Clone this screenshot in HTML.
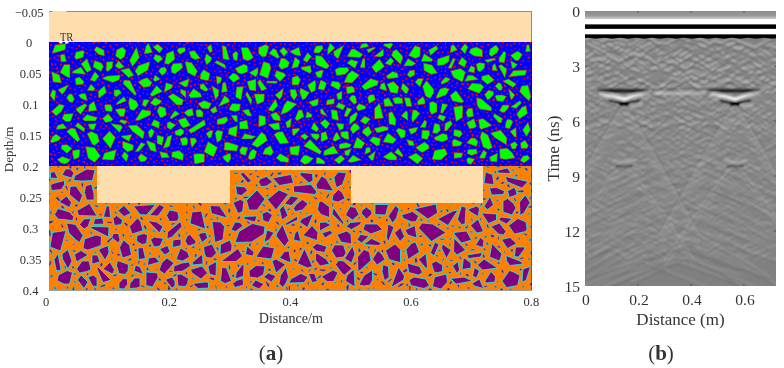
<!DOCTYPE html>
<html><head><meta charset="utf-8"><style>
html,body{margin:0;padding:0;background:#fff;width:784px;height:368px;overflow:hidden}
svg{display:block}
text{font-family:"Liberation Serif",serif;fill:#333}
svg{will-change:transform}
</style></head><body>
<svg width="784" height="368" viewBox="0 0 784 368">
<defs><clipPath id="cb"><rect x="49" y="42" width="483" height="124"/></clipPath>
<filter id="sb" x="0" y="0" width="100%" height="100%"><feGaussianBlur stdDeviation="0.35"/></filter>
<clipPath id="co"><rect x="49" y="166" width="483" height="124"/></clipPath></defs>
<rect x="49" y="11" width="483" height="31" fill="#FFDEAD"/>
<g clip-path="url(#cb)"><g filter="url(#sb)"><rect x="49" y="42" width="483" height="124" fill="#00F"/>
<g transform="scale(.5)"><g fill="#0F0" stroke="#F00" stroke-width="1.2">
<polygon points="630,160 615,170 617,175 622,185 630,182 632,167"/>
<polygon points="1014,296 999,298 1000,317 1011,319 1030,316 1025,306"/>
<polygon points="496,95 482,95 486,118 496,122 507,115"/>
<polygon points="1050,280 1041,286 1042,297 1054,297 1057,291"/>
<polygon points="704,190 698,197 701,201 708,209 714,205 711,192"/>
<polygon points="873,91 857,100 861,111 876,98"/>
<polygon points="759,118 743,134 752,146 769,133"/>
<polygon points="416,283 408,304 427,314 435,295"/>
<polygon points="620,279 607,292 640,309 643,303"/>
<polygon points="128,129 120,145 134,154 140,156 140,129"/>
<polygon points="455,284 449,285 448,300 470,302 473,303 477,291"/>
<polygon points="1052,211 1044,214 1033,228 1039,238 1055,227"/>
<polygon points="464,207 458,218 461,221 470,223 479,221 481,208"/>
<polygon points="183,263 174,267 184,288 189,291 199,283 195,269"/>
<polygon points="1056,170 1043,172 1039,183 1047,192 1058,202 1062,193"/>
<polygon points="219,262 205,277 221,297 231,275"/>
<polygon points="562,116 557,132 563,139 576,134 579,125 570,117"/>
<polygon points="300,123 277,131 270,142 276,152 296,140"/>
<polygon points="523,264 503,289 515,295 535,281 531,270"/>
<polygon points="508,188 514,209 528,203 529,188"/>
<polygon points="995,306 979,314 981,323 994,324"/>
<polygon points="370,123 375,145 390,153 395,142 383,125"/>
<polygon points="595,151 584,155 584,170 597,170 601,159"/>
<polygon points="853,161 845,173 851,192 860,197 867,187 868,179"/>
<polygon points="879,229 875,236 887,243 892,233"/>
<polygon points="531,89 517,95 517,107 525,114 532,113 538,93"/>
<polygon points="829,140 819,141 814,150 820,155 830,150"/>
<polygon points="221,209 211,209 209,212 211,222 224,223 225,216"/>
<polygon points="527,123 521,142 519,150 536,157 542,136 539,127"/>
<polygon points="165,101 152,104 149,114 152,119 166,115 169,103"/>
<polygon points="688,90 667,103 668,111 676,118"/>
<polygon points="248,160 246,167 270,191 273,188 260,161"/>
<polygon points="609,267 600,272 610,280 617,273"/>
<polygon points="1036,102 1030,105 1021,111 1031,121 1037,121 1045,109"/>
<polygon points="171,293 176,316 189,325 201,312 189,295"/>
<polygon points="921,137 901,142 907,155 925,164 931,144"/>
<polygon points="518,230 517,254 531,249 531,233"/>
<polygon points="805,166 802,177 810,187 814,187 818,178 814,173"/>
<polygon points="119,208 103,223 112,232 123,223 129,211"/>
<polygon points="371,235 356,240 362,252 367,256 381,251"/>
<polygon points="662,219 664,238 677,241 677,236 674,221"/>
<polygon points="189,121 186,134 202,143 207,133 203,126"/>
<polygon points="170,207 152,217 153,221 161,229 174,211"/>
<polygon points="811,222 802,232 816,241 815,223"/>
<polygon points="245,94 233,100 231,112 241,119 249,114 252,101"/>
<polygon points="420,261 412,267 418,277 423,274 426,261"/>
<polygon points="400,219 392,220 392,227 394,234 406,234 406,224"/>
<polygon points="494,240 479,244 479,258 497,258"/>
<polygon points="567,176 550,190 559,199 564,193"/>
<polygon points="846,193 835,202 835,210 850,208 850,201"/>
<polygon points="598,94 579,103 590,110 602,112"/>
<polygon points="1002,129 997,132 1010,156 1014,138"/>
<polygon points="379,157 357,166 370,174 375,173"/>
<polygon points="409,239 377,260 382,267 411,250"/>
<polygon points="924,114 916,127 929,135 934,123"/>
<polygon points="245,282 245,295 255,304 266,300 267,290"/>
<polygon points="890,297 869,301 864,319 882,320 895,308"/>
<polygon points="466,146 457,155 467,165 480,157 474,149"/>
<polygon points="575,201 568,210 561,229 574,225 594,208"/>
<polygon points="714,274 706,296 723,297 730,286"/>
<polygon points="129,108 120,110 122,124 133,123"/>
<polygon points="741,157 723,173 730,180 755,170 757,162"/>
<polygon points="273,250 256,251 265,263 286,278 289,264"/>
<polygon points="667,291 648,302 647,311 677,307"/>
<polygon points="704,141 695,149 688,165 704,166 719,150"/>
<polygon points="407,167 400,169 400,177 411,183 417,180"/>
<polygon points="310,195 300,206 310,212 319,208 324,202"/>
<polygon points="925,211 907,214 912,243 925,235 926,215"/>
<polygon points="1053,140 1027,141 1017,154 1051,150"/>
<polygon points="899,110 875,118 874,131 888,130 898,123"/>
<polygon points="597,220 590,237 594,242 608,233 604,220"/>
<polygon points="885,267 868,275 870,280 885,284 896,279 894,269"/>
<polygon points="908,259 907,271 919,275 925,268 921,261"/>
<polygon points="1001,260 981,266 989,275 1013,290 1014,276"/>
<polygon points="942,131 936,143 949,146 950,135"/>
<polygon points="394,307 387,309 389,328 409,324 409,308"/>
<polygon points="782,303 766,314 778,320 794,320 793,313"/>
<polygon points="409,201 396,207 404,217 417,218 423,207"/>
<polygon points="422,88 414,95 420,106 425,102"/>
<polygon points="1032,255 1020,263 1029,274 1033,274"/>
<polygon points="284,219 270,241 277,241 301,230 302,222"/>
<polygon points="830,91 817,111 831,117 840,113 841,95"/>
<polygon points="273,94 259,121 265,133 279,115"/>
<polygon points="565,263 555,264 548,269 560,288 578,286"/>
<polygon points="126,247 115,251 112,259 134,257"/>
<polygon points="977,149 964,152 963,159 975,169 980,166 989,160"/>
<polygon points="347,101 333,107 329,127 337,129 350,118"/>
<polygon points="475,251 458,257 456,268 473,274"/>
<polygon points="1005,210 999,221 1004,225 1009,225 1017,216 1018,210"/>
<polygon points="836,254 817,258 822,269 832,264"/>
<polygon points="389,101 378,103 382,115 389,119 401,117"/>
<polygon points="444,91 446,118 459,120 452,93"/>
<polygon points="953,195 954,210 959,218 983,222 983,215 963,198"/>
<polygon points="953,298 936,299 934,307 943,311 955,307"/>
<polygon points="346,187 336,193 353,210 364,210 367,200"/>
<polygon points="891,154 882,164 883,169 895,164 901,158"/>
<polygon points="313,171 300,189 304,193 325,183"/>
<polygon points="696,135 678,135 670,139 673,151 690,149 698,141"/>
<polygon points="884,207 881,225 885,227 896,209"/>
<polygon points="669,197 654,200 652,210 668,208"/>
<polygon points="314,270 314,287 324,291 328,274"/>
<polygon points="644,217 640,220 642,228 655,233"/>
<polygon points="162,134 146,142 144,146 172,149"/>
<polygon points="512,158 494,163 499,180 512,182"/>
<polygon points="158,299 145,301 145,308 148,319 158,315 160,301"/>
<polygon points="793,99 786,102 783,111 801,129 806,115 804,111"/>
<polygon points="641,160 636,178 648,181 653,167 649,163"/>
<polygon points="832,306 816,314 835,328 846,317"/>
<polygon points="560,307 552,316 561,323 577,325 578,317"/>
<polygon points="677,205 672,214 686,220 691,211"/>
<polygon points="787,163 774,168 781,185 795,187 798,174"/>
<polygon points="849,284 831,295 839,302 845,305 858,297 858,291"/>
<polygon points="706,310 695,323 703,325 723,320"/>
<polygon points="344,270 335,273 326,297 339,293"/>
<polygon points="488,128 470,137 476,146 483,148 495,144 495,132"/>
<polygon points="112,268 105,273 100,283 104,286 118,281 122,275"/>
<polygon points="737,252 727,259 724,265 735,274 744,265"/>
<polygon points="599,256 584,258 585,269 587,272 599,260"/>
<polygon points="241,150 214,152 204,157 225,165 238,160"/>
<polygon points="645,91 632,92 628,100 628,106 639,106 646,97"/>
<polygon points="541,291 530,297 525,308 542,311 547,304"/>
<polygon points="259,195 257,206 260,219 268,221 277,211 273,202"/>
<polygon points="1030,283 1020,288 1024,298 1031,298 1035,289"/>
<polygon points="726,116 720,135 730,136 730,118"/>
<polygon points="209,171 196,183 197,196 200,195 213,185"/>
<polygon points="966,237 957,239 959,255 962,259 984,251"/>
<polygon points="432,152 434,169 441,165 444,156 441,154"/>
<polygon points="950,276 942,276 933,286 953,293 956,283"/>
<polygon points="797,256 792,261 802,277 810,274 811,261"/>
<polygon points="674,264 670,268 665,280 670,283 681,277"/>
<polygon points="847,126 848,141 863,149 875,146 864,130"/>
<polygon points="993,190 990,193 994,202 1006,203 1013,193 1006,190"/>
<polygon points="944,166 935,178 948,183 958,187 968,174 962,168"/>
<polygon points="553,141 549,152 560,163 572,151 568,146"/>
<polygon points="221,247 239,265 245,255 242,250"/>
<polygon points="294,155 284,159 276,164 287,175 300,173 304,165"/>
<polygon points="297,86 292,92 288,108 305,105"/>
<polygon points="546,97 538,107 555,117 559,114 552,99"/>
<polygon points="182,168 174,181 188,182 190,177"/>
<polygon points="692,285 679,288 678,295 681,298 699,295 703,289"/>
<polygon points="746,273 739,281 753,292 759,290 761,277"/>
<polygon points="294,281 293,284 301,301 313,304 310,287"/>
<polygon points="363,126 346,127 342,135 343,145 350,148 366,135"/>
<polygon points="138,169 116,179 124,189 129,184"/>
<polygon points="310,109 307,117 316,126 326,118 320,111"/>
<polygon points="964,263 960,274 966,294 977,299 985,295 976,270"/>
<polygon points="174,229 165,238 169,242 191,242 195,235"/>
<polygon points="776,266 770,276 766,284 785,287 793,279"/>
<polygon points="453,233 434,239 434,249 449,248 456,240"/>
<polygon points="713,224 700,233 698,250 711,240 715,228"/>
<polygon points="434,121 429,125 452,138 450,129"/>
<polygon points="339,243 334,246 334,255 341,259 347,254 352,250"/>
<polygon points="612,310 607,311 600,322 609,329 616,327 627,317"/>
<polygon points="249,303 243,312 253,324 257,311"/>
<polygon points="777,195 767,199 769,213 787,212"/>
<polygon points="664,162 661,171 677,180 682,171 678,164"/>
<polygon points="631,111 631,125 633,130 653,138 659,132 643,112"/>
<polygon points="159,154 150,157 152,170 166,169 168,163"/>
<polygon points="784,223 777,226 778,248 791,251 792,239"/>
<polygon points="849,240 840,255 851,255 854,243"/>
<polygon points="948,237 941,241 933,245 939,258 948,256 953,253"/>
<polygon points="953,94 942,97 938,105 948,112 965,114 965,100"/>
<polygon points="1055,310 1046,312 1040,321 1048,326 1060,317"/>
<polygon points="407,139 401,148 400,158 412,161 417,161 420,147"/>
<polygon points="615,105 606,120 614,125 623,113"/>
<polygon points="558,245 536,249 549,260 560,259"/>
<polygon points="1016,238 1012,243 1010,255 1019,258 1026,244 1023,240"/>
<polygon points="551,198 536,220 546,223 556,211"/>
<polygon points="372,274 360,277 364,291 374,290 376,280"/>
<polygon points="451,164 445,166 443,185 455,183"/>
<polygon points="1058,89 1053,90 1051,104 1061,103"/>
<polygon points="431,212 420,220 426,227 435,223"/>
<polygon points="718,207 712,215 716,222 732,217 731,212"/>
<polygon points="238,179 228,180 228,191 233,194 243,185"/>
<polygon points="134,289 123,290 122,297 134,307 144,297"/>
<polygon points="709,98 703,98 694,113 700,114 720,115 726,109"/>
<polygon points="866,203 859,205 859,221 863,229 874,224 874,207"/>
<polygon points="912,181 900,191 905,202 923,206 928,203"/>
<polygon points="908,305 908,317 923,315 926,306"/>
<polygon points="190,143 180,160 189,163 198,153"/>
<polygon points="637,197 617,204 626,213 636,210"/>
<polygon points="132,87 110,90 104,107 130,100"/>
<polygon points="1056,244 1045,260 1053,273 1061,260"/>
<polygon points="387,177 377,191 382,196 404,194 401,187"/>
<polygon points="487,173 473,174 471,194 482,200"/>
<polygon points="142,256 133,263 155,284 160,279 150,257"/>
<polygon points="330,134 322,135 317,142 324,151 331,146 334,140"/>
<polygon points="1021,121 1024,136 1027,137 1035,129"/>
<polygon points="992,90 980,98 978,109 983,113 994,106 998,98"/>
<polygon points="796,296 789,305 805,315 806,310"/>
<polygon points="785,143 772,152 776,158 797,155 795,146"/>
<polygon points="832,220 825,220 823,237 825,245 840,227"/>
<polygon points="319,212 314,222 320,235 324,235 333,230 331,216"/>
<polygon points="600,291 579,294 581,309 597,311"/>
<polygon points="759,206 749,217 749,238 760,237 767,236"/>
<polygon points="193,93 188,100 197,109 209,112 208,100"/>
<polygon points="808,195 813,213 824,213 820,196"/>
<polygon points="494,183 491,189 502,210 504,200"/>
<polygon points="621,131 603,134 602,138 620,147 623,143"/>
<polygon points="242,217 230,219 240,233 248,233 251,221 250,217"/>
<polygon points="601,176 599,184 605,200 611,197 619,185"/>
<polygon points="358,301 344,304 343,314 366,321 367,308"/>
<polygon points="751,302 736,313 743,321 747,320"/>
<polygon points="869,246 865,266 874,267 881,261 879,249"/>
<polygon points="703,172 692,174 694,188 710,184 708,175"/>
<polygon points="435,260 430,266 434,285 442,280 446,263"/>
<polygon points="125,313 114,319 122,326 129,328 135,326 141,319"/>
<polygon points="977,180 969,189 975,200 979,198 987,190 987,183"/>
<polygon points="264,269 242,272 246,276 258,283"/>
<polygon points="652,263 642,266 642,284 656,278"/>
<polygon points="672,246 679,261 687,257 688,248"/>
<polygon points="138,188 133,196 139,204 145,205 149,198 144,188"/>
<polygon points="583,236 571,245 574,256 581,254"/>
<polygon points="380,276 382,290 384,295 394,282 390,276"/>
<polygon points="650,238 640,246 652,258 660,247"/>
<polygon points="385,217 376,219 368,225 376,233 387,231"/>
<polygon points="1017,158 1005,162 1026,175 1033,168"/>
<polygon points="748,189 739,190 735,195 738,207 751,200"/>
<polygon points="282,307 276,315 281,324 291,322 295,316"/>
<polygon points="729,232 720,242 731,249 741,238"/>
<polygon points="638,315 633,315 632,327 650,328 649,322"/>
<polygon points="319,303 323,316 339,315 334,306"/>
<polygon points="767,98 748,113 761,114 767,111"/>
<polygon points="233,299 209,306 204,319 220,320 228,320"/>
<polygon points="484,293 479,300 481,308 491,311 496,295"/>
<polygon points="188,202 178,210 177,223 194,221"/>
<polygon points="193,247 176,248 180,258 188,260"/>
<polygon points="945,216 936,217 932,225 935,235 947,233"/>
<polygon points="1017,177 1021,198 1024,199 1030,190"/>
<polygon points="813,279 818,291 829,291 826,282"/>
<polygon points="989,116 969,120 975,125 992,119"/>
<polygon points="237,121 230,132 238,138 249,134"/>
<polygon points="226,123 213,124 212,141 216,143 225,135"/>
<polygon points="989,227 986,232 998,246 1003,245 1005,237"/>
<polygon points="242,239 238,243 250,249 255,242"/>
<polygon points="156,245 150,252 168,264 170,257"/>
<polygon points="352,222 349,222 340,235 342,238 359,228"/>
<polygon points="519,158 515,166 523,182 534,178"/>
<polygon points="174,117 162,128 174,145 183,140"/>
<polygon points="423,171 431,200 437,191 438,180"/>
<polygon points="591,179 580,179 581,191 588,201 595,190"/>
<polygon points="909,278 904,282 905,293 920,292 925,285"/>
<polygon points="413,107 409,118 413,130 421,123 424,116"/>
<polygon points="332,165 328,185 344,176 346,170"/>
<polygon points="907,89 902,92 900,106 915,100"/>
<polygon points="474,230 462,231 470,243 475,244"/>
<polygon points="147,227 128,228 124,237 131,243 141,243"/>
<polygon points="781,115 770,127 781,131 788,122"/>
<polygon points="844,260 843,277 855,279 859,269 859,261"/>
<polygon points="628,244 622,257 633,264 638,258"/>
<polygon points="103,143 106,164 123,166 119,150"/>
<polygon points="308,239 302,250 318,257 319,244"/>
<polygon points="709,246 703,252 700,258 706,268 720,256 716,250"/>
<polygon points="361,178 361,186 372,196 372,182"/>
<polygon points="936,150 929,163 957,159 946,151"/>
<polygon points="361,257 349,263 351,270 361,272 368,266 367,260"/>
<polygon points="303,257 296,264 299,276 304,274 309,263"/>
<polygon points="901,241 890,247 889,262 893,262 905,248"/>
<polygon points="258,136 241,140 257,155 268,151"/>
<polygon points="567,94 559,102 568,113 576,104"/>
<polygon points="506,298 500,304 496,316 500,320 509,317 514,303"/>
<polygon points="164,187 157,190 162,197 175,202 171,187"/>
<polygon points="449,191 437,213 459,204 458,198"/>
<polygon points="769,165 762,168 759,177 764,179 774,182"/>
<polygon points="248,193 234,205 232,210 253,202"/>
<polygon points="930,87 921,98 930,108 936,94"/>
<polygon points="310,150 306,160 311,163 321,158"/>
<polygon points="990,127 985,131 984,141 995,142"/>
<polygon points="889,175 880,178 873,192 873,197 892,190 899,178"/>
<polygon points="282,285 270,304 277,303 291,288"/>
<polygon points="216,227 205,237 211,245 222,243 226,239"/>
<polygon points="642,140 630,145 635,155 643,155 647,141"/>
<polygon points="660,86 655,99 655,110 670,96"/>
<polygon points="461,307 457,307 445,313 447,318 456,326 462,317"/>
<polygon points="766,252 748,257 753,264 755,266 776,260 777,255"/>
<polygon points="684,182 673,188 675,199 684,198"/>
<polygon points="516,135 499,145 500,147 512,154 516,146"/>
<polygon points="959,125 952,128 955,141 960,144 969,136 970,127"/>
<polygon points="590,114 583,137 596,134 600,122"/>
<polygon points="749,94 733,99 737,106 751,96"/>
<polygon points="614,223 611,236 624,234 624,229"/>
<polygon points="497,218 484,221 495,232 504,232"/>
<polygon points="315,88 306,94 319,106 326,97"/>
<polygon points="783,86 767,88 767,91 780,98 786,89"/>
<polygon points="555,162 533,162 534,166 553,167"/>
<polygon points="489,267 483,278 504,278 512,273"/>
<polygon points="836,157 830,164 840,174 847,157"/>
<polygon points="682,310 668,320 678,328 690,318"/>
<polygon points="937,315 933,319 935,327 942,329 950,318"/>
<polygon points="1008,102 998,116 998,124 1009,126 1012,106"/>
<polygon points="906,116 896,136 903,137 911,118"/>
<polygon points="694,262 681,264 682,273 691,278 698,279 697,264"/>
<polygon points="287,199 284,210 291,214 299,200"/>
<polygon points="472,102 465,108 467,119 474,122 476,107"/>
<polygon points="370,95 357,96 354,102 360,109 371,102"/>
<polygon points="105,179 100,191 109,203 112,182"/>
<polygon points="733,86 723,88 719,97 738,93"/>
<polygon points="796,194 785,197 790,208 806,207 805,197"/>
<polygon points="848,107 842,123 863,123 866,119"/>
<polygon points="703,297 689,302 690,310 697,312"/>
<polygon points="694,215 688,232 694,234 704,218"/>
<polygon points="997,165 990,172 998,181 1004,180 1005,175 1002,167"/>
<polygon points="1040,201 1021,214 1032,217 1043,206"/>
<polygon points="702,119 694,126 710,137 716,123"/>
<polygon points="740,294 732,296 729,309 741,304"/>
<polygon points="816,117 807,132 824,132 832,127"/>
<polygon points="552,224 541,229 546,238 547,240 561,242 560,233"/>
<polygon points="967,300 958,316 969,317 974,305"/>
<polygon points="621,267 624,274 633,281 639,274 638,268"/>
</g><g fill="#F00">
<polygon points="906,306 903,306 905,303"/>
<polygon points="439,145 438,141 443,142 442,145"/>
<polygon points="619,253 615,251 617,249 620,251"/>
<polygon points="461,244 462,245 461,247 458,249 459,246"/>
<polygon points="463,278 463,282 460,282"/>
<polygon points="953,226 957,225 958,228 954,229"/>
<polygon points="777,187 779,188 781,191 780,191 778,190"/>
<polygon points="323,256 324,259 321,259 321,257"/>
<polygon points="247,331 245,334 243,333 244,330"/>
<polygon points="232,263 232,265 231,267 229,265 230,261"/>
<polygon points="179,88 178,90 176,86"/>
<polygon points="366,223 367,225 365,227 362,225 363,223"/>
<polygon points="311,126 308,128 308,125"/>
<polygon points="881,328 881,326 884,326 886,328 884,330"/>
<polygon points="145,109 143,110 142,108 144,106 145,105"/>
<polygon points="1003,328 1003,329 1000,331 999,330 1001,328"/>
<polygon points="393,89 394,86 398,89"/>
<polygon points="588,223 589,224 585,226 586,223"/>
<polygon points="836,148 834,149 832,146 834,146"/>
<polygon points="943,122 945,119 948,121"/>
<polygon points="924,323 922,319 926,319 928,321"/>
<polygon points="402,109 404,111 403,115 402,114"/>
<polygon points="395,269 393,271 391,269 393,268"/>
<polygon points="573,327 575,331 573,333 571,331"/>
<polygon points="415,243 414,236 418,237"/>
<polygon points="388,208 391,211 388,212"/>
<polygon points="208,150 205,152 203,150 205,147 208,148"/>
<polygon points="258,185 256,187 254,184"/>
<polygon points="193,192 191,195 188,195 190,191"/>
<polygon points="628,192 632,193 633,196 629,194"/>
<polygon points="208,251 212,250 216,252 213,254"/>
<polygon points="120,199 124,200 122,203"/>
<polygon points="152,130 154,133 151,134"/>
<polygon points="238,292 234,294 235,290"/>
<polygon points="587,320 585,320 584,317 587,316"/>
<polygon points="953,332 954,329 956,330"/>
<polygon points="501,244 503,246 503,248 499,247 499,245"/>
<polygon points="98,233 101,236 97,236"/>
<polygon points="97,103 99,101 100,105"/>
<polygon points="989,295 987,291 990,288 991,293"/>
<polygon points="472,308 475,311 474,313 471,311"/>
<polygon points="518,120 520,118 521,120 519,122"/>
<polygon points="326,114 327,109 329,114"/>
<polygon points="247,208 249,209 247,211"/>
<polygon points="294,113 291,114 290,110 292,110"/>
<polygon points="1044,129 1043,131 1041,131 1040,128 1043,127"/>
<polygon points="729,224 731,223 733,226 731,226"/>
<polygon points="304,195 301,197 298,197 298,195 301,193"/>
<polygon points="620,90 622,87 624,89"/>
<polygon points="345,210 345,207 347,207 349,208 347,211"/>
<polygon points="641,287 640,289 637,287 638,284"/>
<polygon points="375,320 371,318 373,315"/>
<polygon points="339,86 337,89 334,87"/>
<polygon points="138,253 134,253 137,250"/>
<polygon points="806,159 808,163 803,162"/>
<polygon points="1033,326 1031,325 1032,324 1037,325 1036,326"/>
<polygon points="475,226 480,225 479,229"/>
<polygon points="157,205 154,205 155,201 157,202"/>
<polygon points="393,156 393,160 390,160"/>
<polygon points="911,167 915,164 917,166 913,169"/>
<polygon points="943,83 944,85 942,86 940,84"/>
<polygon points="604,91 605,90 609,90 609,91 607,92"/>
<polygon points="821,307 819,309 816,307 817,306 820,305"/>
<polygon points="134,169 131,167 130,165 133,165"/>
<polygon points="976,111 972,114 973,110"/>
<polygon points="1059,114 1060,116 1057,118 1054,116 1056,114"/>
<polygon points="794,214 793,211 796,213"/>
<polygon points="323,197 325,194 327,197"/>
<polygon points="716,155 720,155 720,158 717,157"/>
<polygon points="783,220 779,222 779,220 782,218"/>
<polygon points="675,155 678,157 675,158"/>
<polygon points="590,289 588,289 586,286 587,283 590,286"/>
<polygon points="654,161 652,161 651,159 654,159"/>
<polygon points="105,309 104,311 100,309 98,307 102,306"/>
<polygon points="838,89 835,90 833,89 837,87"/>
<polygon points="350,284 352,284 353,285 351,287 350,286"/>
<polygon points="904,160 906,162 904,164 903,162"/>
<polygon points="869,326 867,323 868,320 870,321 871,324"/>
<polygon points="375,297 377,296 379,297 377,300 375,299"/>
<polygon points="821,250 824,249 824,251 821,253"/>
<polygon points="181,197 181,198 178,198 178,195 180,195"/>
<polygon points="829,329 829,332 826,332 826,330"/>
<polygon points="902,173 902,170 905,170 905,173"/>
<polygon points="800,144 795,143 797,141"/>
<polygon points="848,227 844,226 847,223"/>
<polygon points="871,291 869,290 872,287"/>
<polygon points="585,281 584,278 588,279"/>
<polygon points="399,289 402,290 402,292 399,294 397,291"/>
<polygon points="981,237 985,238 984,241 980,241"/>
<polygon points="664,255 664,257 658,258 659,255"/>
<polygon points="910,253 907,253 909,249 910,248 912,250"/>
<polygon points="556,331 558,330 559,333 557,333"/>
<polygon points="423,253 426,251 428,252 428,254 425,254"/>
<polygon points="282,191 280,195 278,194 278,189"/>
<polygon points="102,212 102,209 105,210"/>
<polygon points="419,323 415,323 417,321"/>
<polygon points="745,294 749,294 749,296 747,297 745,296"/>
<polygon points="619,241 615,240 615,238 619,237"/>
<polygon points="952,266 949,262 953,263"/>
<polygon points="261,320 265,320 265,325"/>
<polygon points="371,86 374,84 378,83 377,86 373,88"/>
<polygon points="589,244 592,244 592,246 590,247 589,247"/>
<polygon points="1053,156 1054,153 1057,153 1058,156 1055,158"/>
<polygon points="240,282 242,283 240,286 236,286 237,283"/>
<polygon points="203,237 201,239 199,237 199,235 202,235"/>
<polygon points="206,167 202,166 202,164 204,163 207,166"/>
<polygon points="127,278 126,279 124,277 125,275 126,275"/>
<polygon points="376,269 371,269 372,266"/>
<polygon points="918,91 916,95 914,94 914,92 916,89"/>
<polygon points="1061,304 1063,303 1065,304 1064,307 1062,307"/>
<polygon points="199,252 204,251 201,255"/>
<polygon points="928,242 922,241 927,238"/>
<polygon points="833,133 830,130 834,130"/>
<polygon points="520,320 522,321 524,323 520,322"/>
<polygon points="106,322 102,318 102,315 106,317"/>
<polygon points="202,195 205,197 203,198"/>
<polygon points="169,169 173,170 172,174 167,171"/>
<polygon points="578,92 579,88 584,88"/>
<polygon points="663,147 661,143 666,145 665,148"/>
<polygon points="1017,113 1016,108 1019,109"/>
<polygon points="198,207 203,207 201,210"/>
<polygon points="276,245 277,246 276,248 274,249 274,246"/>
<polygon points="843,85 845,85 846,89 843,88"/>
<polygon points="731,110 732,112 729,114 727,110"/>
<polygon points="351,166 347,168 345,166 350,164"/>
<polygon points="490,332 486,334 483,332 486,329 489,329"/>
<polygon points="879,161 877,161 878,156 881,154 882,156"/>
<polygon points="643,111 642,108 645,105 647,110"/>
<polygon points="578,230 580,227 582,229 580,233 578,232"/>
<polygon points="1061,134 1063,130 1064,132 1063,136"/>
<polygon points="901,228 902,225 905,227 905,229"/>
<polygon points="743,221 745,223 741,223"/>
<polygon points="1035,319 1037,316 1040,315 1040,317 1038,319"/>
<polygon points="861,159 864,157 865,159 864,160 861,161"/>
<polygon points="456,224 456,226 453,227 453,225"/>
<polygon points="333,97 336,96 336,99 333,99"/>
<polygon points="837,190 842,191 837,194"/>
<polygon points="503,267 499,268 497,262"/>
<polygon points="313,133 315,130 317,132 317,136 315,136"/>
<polygon points="417,187 416,190 414,190 414,187 415,187"/>
<polygon points="989,248 991,250 989,252 986,250"/>
<polygon points="259,128 257,134 256,129"/>
<polygon points="928,276 926,275 929,272"/>
<polygon points="505,219 503,217 504,214 507,216"/>
<polygon points="935,86 934,87 932,86 932,81 934,82"/>
<polygon points="614,257 612,260 609,259"/>
<polygon points="232,91 230,88 232,88 236,89 236,91"/>
<polygon points="614,202 615,207 611,205"/>
<polygon points="982,303 982,301 985,301 988,303 984,305"/>
<polygon points="720,276 718,272 722,273"/>
<polygon points="884,107 883,107 885,103 887,103 888,105"/>
<polygon points="491,211 495,208 495,211 492,213"/>
<polygon points="545,119 544,122 541,122 542,119"/>
<polygon points="869,170 866,172 865,169 867,168"/>
<polygon points="520,124 522,126 521,128 519,128 518,126"/>
<polygon points="892,145 888,142 892,140"/>
<polygon points="167,275 164,270 167,269 170,274"/>
<polygon points="146,123 146,126 144,126 143,123"/>
<polygon points="842,235 841,233 844,232"/>
<polygon points="108,311 109,308 112,309 111,312 109,312"/>
<polygon points="840,185 836,184 841,182"/>
<polygon points="828,210 830,205 833,206 833,209 830,211"/>
<polygon points="162,284 164,283 165,286 163,288 162,285"/>
<polygon points="927,192 929,188 932,193"/>
<polygon points="343,91 347,91 346,94 343,95"/>
<polygon points="1018,292 1016,292 1014,290 1016,289 1019,291"/>
<polygon points="511,238 511,242 508,240"/>
<polygon points="724,202 726,203 726,206 724,205 721,203"/>
<polygon points="804,218 804,221 801,222 801,220"/>
<polygon points="917,297 918,302 915,303"/>
<polygon points="276,219 279,214 280,219"/>
<polygon points="277,87 273,84 274,83 276,83 278,86"/>
<polygon points="719,265 717,269 715,267 716,264"/>
<polygon points="905,108 905,109 903,111 902,108"/>
<polygon points="115,134 117,137 113,139 110,137"/>
<polygon points="333,323 334,320 336,320 337,322 335,324"/>
<polygon points="921,180 919,177 923,175 924,177"/>
<polygon points="169,228 168,231 166,231 165,228 167,226"/>
<polygon points="760,252 757,249 758,247 761,248"/>
<polygon points="889,197 891,195 892,198"/>
<polygon points="1024,175 1026,178 1023,179 1023,177"/>
<polygon points="698,135 700,134 703,136 701,137"/>
<polygon points="858,302 857,305 855,303 856,301"/>
<polygon points="403,280 407,280 404,285 402,283"/>
<polygon points="664,276 660,279 659,276 661,275"/>
<polygon points="994,183 991,186 992,181"/>
<polygon points="791,330 793,325 794,330"/>
<polygon points="222,184 223,187 219,188 218,186 219,184"/>
<polygon points="723,307 726,305 726,308"/>
<polygon points="1038,90 1037,88 1037,86 1039,85 1040,87"/>
<polygon points="103,267 103,264 107,264 107,268 103,268"/>
<polygon points="547,84 550,84 550,87 547,87"/>
<polygon points="292,257 288,255 291,252 293,255"/>
<polygon points="764,98 760,100 760,96 762,94"/>
<polygon points="869,234 869,231 873,232"/>
<polygon points="987,202 984,201 986,197 989,197 990,200"/>
<polygon points="820,302 817,300 820,297"/>
<polygon points="1021,102 1023,99 1027,100"/>
<polygon points="734,129 736,126 737,130"/>
<polygon points="414,88 415,90 413,93 410,91 412,88"/>
<polygon points="770,158 769,159 767,158 766,155 768,154"/>
<polygon points="408,260 405,262 404,261 405,259 407,258"/>
<polygon points="969,87 965,86 968,83"/>
<polygon points="904,272 903,276 898,275"/>
<polygon points="693,251 690,249 694,247"/>
<polygon points="1050,158 1048,159 1047,158 1048,156 1050,156"/>
<polygon points="119,284 121,283 122,284 120,288 118,287"/>
<polygon points="455,158 457,161 454,161"/>
<polygon points="931,175 933,173 933,176 932,178"/>
<polygon points="283,111 280,111 279,109 282,108 284,109"/>
<polygon points="385,237 387,235 389,237 388,240 386,239"/>
<polygon points="698,94 694,95 696,90"/>
<polygon points="274,221 276,225 274,228 272,226"/>
<polygon points="712,170 710,172 711,167"/>
<polygon points="960,326 956,325 956,321"/>
<polygon points="410,293 408,293 407,291 410,289 411,291"/>
<polygon points="301,308 301,310 298,312 297,311"/>
<polygon points="488,154 487,151 488,150 491,151 489,154"/>
<polygon points="558,212 561,214 560,216 557,214"/>
<polygon points="406,91 401,92 402,89 405,88"/>
<polygon points="568,89 569,87 571,86 572,88 571,90"/>
<polygon points="719,184 723,188 721,191 718,186"/>
<polygon points="532,312 534,315 530,318"/>
<polygon points="405,105 407,102 410,103 408,106"/>
<polygon points="533,241 534,238 539,241"/>
<polygon points="944,260 942,265 938,265 939,262"/>
<polygon points="1018,331 1021,329 1024,331 1020,333"/>
<polygon points="432,209 435,203 436,207"/>
<polygon points="556,124 556,126 553,125"/>
<polygon points="1046,101 1046,97 1047,98"/>
<polygon points="842,141 839,140 842,138 844,140"/>
<polygon points="587,86 588,82 591,83 591,86 590,87"/>
<polygon points="580,332 582,328 583,334"/>
<polygon points="900,311 900,315 896,315"/>
<polygon points="146,212 142,215 142,212"/>
<polygon points="555,292 557,296 555,296 553,293"/>
<polygon points="607,169 605,170 604,167 606,164 608,166"/>
<polygon points="741,113 744,109 746,109 743,113"/>
<polygon points="306,311 311,309 308,313"/>
<polygon points="507,259 509,261 506,263 505,260"/>
<polygon points="165,180 164,184 161,183 162,179"/>
<polygon points="252,251 254,254 250,256"/>
<polygon points="467,99 466,98 470,96 471,98"/>
<polygon points="775,326 777,327 775,329 773,328"/>
<polygon points="1065,294 1063,296 1058,295 1062,291"/>
<polygon points="985,224 985,228 984,229 983,226"/>
<polygon points="288,185 287,188 285,188 287,183"/>
<polygon points="409,330 406,332 402,330 406,328"/>
<polygon points="1028,227 1030,232 1027,232"/>
<polygon points="549,133 551,131 553,133 549,135"/>
<polygon points="322,267 319,265 319,262 323,264"/>
<polygon points="348,152 350,156 346,157"/>
<polygon points="746,233 745,237 743,233"/>
<polygon points="567,186 570,185 573,188 570,189 566,188"/>
<polygon points="515,185 518,183 519,186"/>
<polygon points="803,89 802,93 799,93 798,91 801,88"/>
<polygon points="219,117 215,116 220,114"/>
<polygon points="150,177 152,180 150,181 146,178"/>
<polygon points="604,307 606,304 608,305 608,308 605,309"/>
<polygon points="702,283 701,281 705,280 707,282"/>
<polygon points="873,116 867,114 871,114"/>
<polygon points="497,126 499,125 501,126 500,129 497,128"/>
<polygon points="487,322 486,326 484,324 484,319 485,319"/>
<polygon points="894,94 889,98 892,92"/>
<polygon points="316,298 314,296 321,295"/>
<polygon points="490,163 487,160 488,158 490,158 492,163"/>
<polygon points="725,146 722,145 725,143 727,144"/>
<polygon points="748,119 744,119 749,115"/>
<polygon points="638,134 635,138 632,135"/>
<polygon points="526,296 523,298 522,294"/>
<polygon points="208,225 204,221 206,221 210,224"/>
<polygon points="617,159 619,158 621,159 620,161 617,162"/>
<polygon points="910,206 914,209 914,212 910,209"/>
<polygon points="158,240 155,237 155,234 158,235 159,236"/>
<polygon points="848,311 844,312 844,307"/>
<polygon points="856,283 858,281 860,281 860,283 857,284"/>
<polygon points="578,156 578,159 574,157"/>
<polygon points="996,251 998,248 1000,252"/>
<polygon points="664,320 662,317 664,314 666,316"/>
<polygon points="455,144 459,144 457,147"/>
<polygon points="1021,206 1022,209 1020,209 1018,204"/>
<polygon points="266,99 262,94 266,93"/>
<polygon points="624,308 622,306 626,304"/>
<polygon points="111,117 108,117 107,114 110,113"/>
<polygon points="993,212 993,209 996,208 995,211"/>
<polygon points="499,301 499,296 501,294 503,297"/>
<polygon points="749,250 745,253 743,252 746,249"/>
<polygon points="546,200 545,202 544,203 543,200 544,199"/>
<polygon points="538,200 538,203 537,203 535,200 537,198"/>
<polygon points="899,264 899,260 904,260"/>
<polygon points="592,149 590,151 586,150 587,147"/>
<polygon points="440,82 446,84 446,87"/>
<polygon points="558,176 555,173 558,174"/>
<polygon points="755,328 753,326 754,324 756,325 756,328"/>
<polygon points="784,299 783,299 782,296 783,294 786,295"/>
<polygon points="424,191 425,193 423,195 421,193 422,191"/>
<polygon points="444,330 441,330 441,326 445,327"/>
<polygon points="969,184 967,181 970,181"/>
<polygon points="813,323 810,325 808,325 809,322 811,321"/>
<polygon points="852,329 850,328 850,326 852,325 854,327"/>
<polygon points="374,205 378,208 373,208"/>
<polygon points="1057,121 1058,122 1057,124 1055,124 1055,122"/>
<polygon points="667,288 666,291 664,290 662,286 664,284"/>
<polygon points="844,155 842,152 844,150 845,153"/>
<polygon points="974,89 977,87 979,90 977,92 974,91"/>
<polygon points="826,172 823,171 823,166 826,166"/>
<polygon points="751,148 749,152 746,153 746,149"/>
<polygon points="830,198 829,195 835,196 835,200"/>
<polygon points="1018,279 1020,276 1021,277 1019,282"/>
<polygon points="397,167 399,169 398,170 395,168 395,167"/>
<polygon points="1018,326 1016,325 1016,322 1018,322 1020,324"/>
<polygon points="856,253 859,250 859,254"/>
<polygon points="754,197 758,199 758,202 753,200"/>
<polygon points="283,325 284,329 281,331"/>
<polygon points="1048,166 1045,168 1045,165"/>
<polygon points="932,269 937,270 936,273"/>
<polygon points="911,108 910,106 916,106 917,109 915,110"/>
<polygon points="809,311 810,309 812,308 813,310 811,312"/>
<polygon points="693,205 691,203 694,201"/>
<polygon points="540,322 540,324 537,324 536,323 538,320"/>
<polygon points="511,120 510,123 507,122 506,119"/>
<polygon points="168,322 170,324 170,327 166,325 165,322"/>
<polygon points="716,245 715,247 712,247 712,245 715,243"/>
<polygon points="300,210 304,211 301,214"/>
<polygon points="113,240 112,241 110,239 111,235 113,237"/>
<polygon points="810,83 811,86 808,86"/>
<polygon points="689,119 691,120 688,123 686,122"/>
<polygon points="353,119 354,117 356,117 356,119 355,120"/>
<polygon points="265,244 263,243 268,239"/>
<polygon points="310,281 313,284 309,284 307,281"/>
<polygon points="343,181 342,185 339,185 341,180"/>
<polygon points="596,89 602,91 597,91"/>
<polygon points="202,270 200,269 200,267 201,266 202,268"/>
<polygon points="146,238 151,237 149,240"/>
<polygon points="801,251 799,249 801,248 803,250"/>
<polygon points="339,213 339,216 337,215 336,212 338,212"/>
<polygon points="478,98 480,103 477,102"/>
<polygon points="334,156 335,158 333,160 331,157"/>
<polygon points="236,316 240,314 240,317"/>
<polygon points="330,92 331,96 328,94"/>
<polygon points="211,195 215,194 212,198"/>
<polygon points="274,324 278,324 273,326"/>
<polygon points="690,174 687,176 685,174 687,172 690,172"/>
<polygon points="800,291 805,293 802,295 799,293"/>
<polygon points="512,87 513,91 511,93 510,90"/>
<polygon points="749,271 745,269 750,268"/>
<polygon points="1046,94 1045,92 1045,89 1047,90 1049,92"/>
<polygon points="804,283 800,284 801,281"/>
<polygon points="732,142 734,139 735,140 735,142"/>
<polygon points="320,325 317,327 318,324"/>
<polygon points="409,132 409,134 405,131"/>
<polygon points="808,244 810,245 811,247 809,247 807,246"/>
<polygon points="977,315 974,315 975,313"/>
<polygon points="425,130 428,126 428,131"/>
<polygon points="808,149 807,147 809,146 811,148 809,150"/>
<polygon points="845,327 843,326 844,324 846,323 847,325"/>
<polygon points="761,300 763,297 764,302"/>
<polygon points="310,334 307,334 306,331 309,330 312,332"/>
<polygon points="357,170 359,171 360,174 358,175 356,173"/>
<polygon points="277,176 279,172 281,172 281,177 279,178"/>
<polygon points="795,134 793,132 796,128 798,129 798,131"/>
<polygon points="1043,281 1040,279 1041,275 1044,277"/>
<polygon points="598,214 594,213 594,210 598,212"/>
<polygon points="613,101 610,99 613,96"/>
<polygon points="366,143 364,142 363,140 367,141"/>
<polygon points="857,224 857,228 854,227 854,225 855,223"/>
<polygon points="571,300 570,299 572,295 574,295 574,297"/>
<polygon points="598,282 595,286 596,281"/>
<polygon points="934,205 932,201 936,202"/>
<polygon points="99,289 97,288 97,285 100,286 101,288"/>
<polygon points="739,217 737,213 740,213 742,216"/>
<polygon points="705,86 705,90 702,85"/>
<polygon points="438,306 440,300 443,301 441,304"/>
<polygon points="122,333 120,334 119,329"/>
<polygon points="127,190 131,189 132,190 129,193"/>
<polygon points="236,324 234,326 232,324 234,321"/>
<polygon points="492,235 490,237 488,236 489,234"/>
<polygon points="599,207 599,204 601,203 603,209 602,210"/>
<polygon points="755,296 757,298 756,300 753,300 752,298"/>
<polygon points="531,258 527,257 531,253"/>
<polygon points="236,143 240,142 240,145 236,146"/>
<polygon points="937,185 935,183 940,182"/>
<polygon points="608,246 610,247 610,250 608,250 607,247"/>
<polygon points="916,118 918,120 915,123 913,119"/>
<polygon points="476,265 479,263 480,268"/>
<polygon points="718,85 719,83 721,84 722,86 719,86"/>
<polygon points="1053,332 1053,329 1056,330"/>
<polygon points="466,94 464,93 465,89 466,90 467,92"/>
<polygon points="228,97 229,98 227,102 225,101 225,97"/>
<polygon points="819,220 822,218 822,220 822,223 819,222"/>
<polygon points="438,117 436,118 435,114 438,114"/>
<polygon points="467,170 463,170 467,166"/>
<polygon points="302,150 300,145 303,145 305,148"/>
<polygon points="1061,263 1066,265 1062,266"/>
<polygon points="143,289 146,291 144,294 141,291"/>
<polygon points="777,251 776,253 775,253 773,250 774,248"/>
<polygon points="225,330 221,331 221,330 224,327 226,328"/>
<polygon points="979,138 974,137 978,135"/>
<polygon points="295,187 296,188 296,191 295,191 293,187"/>
<polygon points="617,87 614,88 611,88 614,85"/>
<polygon points="738,143 740,148 737,150"/>
<polygon points="244,323 247,321 247,325"/>
<polygon points="171,283 170,281 173,278 174,280"/>
<polygon points="669,182 671,184 670,185 667,183"/>
<polygon points="1053,135 1050,137 1049,134 1050,132"/>
<polygon points="730,192 733,192 733,195 730,195"/>
<polygon points="812,98 813,95 817,94 816,98"/>
<polygon points="165,305 166,301 170,301 168,305"/>
<polygon points="501,241 499,238 502,238"/>
<polygon points="479,279 478,283 477,279"/>
<polygon points="267,276 267,280 264,278 265,276"/>
<polygon points="750,176 748,180 747,176"/>
<polygon points="614,153 617,150 618,154"/>
<polygon points="921,256 919,256 920,251"/>
<polygon points="261,231 262,228 263,229 263,232"/>
<polygon points="680,89 682,89 682,91 679,93 678,91"/>
<polygon points="735,120 733,118 737,116 739,119"/>
<polygon points="121,304 120,306 116,307 117,304"/>
<polygon points="179,113 179,110 184,109"/>
<polygon points="839,282 835,279 836,278 841,278 842,279"/>
<polygon points="376,214 373,216 373,213"/>
<polygon points="460,126 459,128 455,126"/>
<polygon points="229,230 228,236 226,231"/>
<polygon points="862,273 862,269 865,271 865,275"/>
<polygon points="347,325 348,329 346,329 345,326 346,324"/>
<polygon points="296,239 297,237 300,238 300,240 298,241"/>
<polygon points="294,295 296,299 295,301 293,297"/>
<polygon points="303,317 304,320 299,318 299,316 301,315"/>
<polygon points="190,181 192,179 195,179 196,180 192,182"/>
<polygon points="1000,231 998,228 1002,227"/>
<polygon points="885,247 886,251 883,251 882,248"/>
<polygon points="626,149 624,149 628,147"/>
<polygon points="339,334 338,329 342,331"/>
<polygon points="179,187 184,188 184,192 181,191"/>
<polygon points="235,175 233,177 230,174 232,173"/>
<polygon points="804,149 804,150 801,151 798,149 799,148"/>
<polygon points="493,88 494,87 494,92 491,93"/>
<polygon points="372,156 376,151 377,155"/>
<polygon points="234,142 229,141 231,138 234,139"/>
<polygon points="760,324 761,319 763,321"/>
<polygon points="954,153 955,148 957,150"/>
<polygon points="426,153 429,154 427,156 424,155"/>
<polygon points="788,262 784,260 788,258"/>
<polygon points="791,138 792,139 792,143 790,143 790,140"/>
<polygon points="770,239 772,241 770,243 769,242"/>
<polygon points="478,274 476,274 477,271 479,272"/>
<polygon points="206,92 210,93 210,94 205,96 204,95"/>
<polygon points="127,227 129,222 133,223"/>
<polygon points="906,239 905,237 908,235 909,236 908,239"/>
<polygon points="454,214 453,217 450,217 452,212"/>
<polygon points="987,179 987,176 989,175 990,178"/>
<polygon points="453,271 456,274 452,275 450,273"/>
<polygon points="465,199 466,194 469,198"/>
<polygon points="545,334 544,331 546,330 547,332"/>
<polygon points="1031,98 1030,99 1029,97 1031,95"/>
<polygon points="343,295 345,295 346,296 344,298 342,297"/>
<polygon points="220,171 218,174 216,174 215,170 218,169"/>
<polygon points="660,131 661,128 665,130 663,133"/>
<polygon points="597,200 595,201 593,199 593,197 596,198"/>
<polygon points="320,237 322,239 316,240"/>
<polygon points="970,171 972,170 974,171 971,173"/>
<polygon points="1023,228 1019,228 1020,224"/>
<polygon points="200,226 197,229 197,224"/>
<polygon points="111,322 113,324 112,328 109,325"/>
<polygon points="296,219 295,215 299,218"/>
<polygon points="244,148 246,148 247,152 245,153 242,150"/>
<polygon points="772,143 769,142 771,139 774,139 773,142"/>
<polygon points="392,171 388,172 387,169 390,167 392,169"/>
<polygon points="236,238 232,234 236,235"/>
<polygon points="1012,100 1012,98 1016,99"/>
<polygon points="148,323 148,326 145,327 145,324"/>
<polygon points="1028,300 1031,302 1029,304 1027,303"/>
<polygon points="687,111 691,111 691,113 688,113 687,113"/>
<polygon points="351,220 348,219 350,216"/>
<polygon points="434,175 434,171 437,173"/>
<polygon points="1049,270 1047,273 1044,270"/>
<polygon points="992,287 991,282 995,285"/>
<polygon points="135,204 135,207 132,206"/>
<polygon points="147,85 149,88 147,88 145,87 146,85"/>
<polygon points="822,276 823,274 825,274 825,277"/>
<polygon points="455,260 453,256 455,256"/>
<polygon points="756,85 754,90 752,86"/>
<polygon points="986,85 987,82 989,86"/>
<polygon points="165,87 168,86 166,89"/>
<polygon points="632,224 631,220 634,219 635,224"/>
<polygon points="658,194 661,191 662,193 660,195"/>
<polygon points="994,162 994,157 998,160"/>
<polygon points="767,288 766,291 762,291 763,288"/>
<polygon points="431,160 431,162 428,163 427,161 427,161"/>
<polygon points="545,289 545,285 549,286"/>
<polygon points="313,319 315,322 311,322"/>
<polygon points="849,234 851,234 850,238 849,238"/>
<polygon points="335,262 335,260 338,261"/>
<polygon points="811,104 814,103 815,105 812,107 811,106"/>
<polygon points="772,221 769,224 767,222 768,219 772,218"/>
<polygon points="535,290 532,288 533,287 537,290"/>
<polygon points="264,155 267,157 265,159 262,159 261,156"/>
<polygon points="962,119 958,120 958,117 961,117"/>
<polygon points="147,223 150,221 151,223 148,225"/>
<polygon points="199,114 202,112 201,117"/>
<polygon points="905,323 907,326 901,326"/>
<polygon points="196,300 195,297 198,297 200,299 198,301"/>
<polygon points="97,115 102,117 99,120"/>
<polygon points="733,328 732,331 727,329 728,327"/>
<polygon points="660,267 659,270 656,268"/>
<polygon points="972,331 970,327 974,327"/>
<polygon points="430,88 426,87 429,85"/>
<polygon points="670,85 667,86 668,82"/>
<polygon points="572,270 574,267 577,269"/>
<polygon points="100,174 97,173 101,170"/>
<polygon points="731,156 733,157 734,160 731,159 730,157"/>
<polygon points="194,117 190,117 193,114"/>
<polygon points="343,267 344,264 346,263 346,267"/>
<polygon points="636,244 636,246 633,246 632,244 634,243"/>
<polygon points="681,223 680,225 677,226 677,224 679,221"/>
<polygon points="797,231 797,225 799,230"/>
<polygon points="431,311 434,308 435,311 434,312"/>
<polygon points="802,211 804,208 806,211 804,214"/>
<polygon points="953,216 954,218 952,220 951,217"/>
<polygon points="385,93 388,94 385,96"/>
<polygon points="761,143 761,145 758,148 758,144"/>
<polygon points="817,249 813,247 816,246"/>
<polygon points="528,324 531,325 529,328 526,328"/>
<polygon points="918,134 916,134 917,131"/>
<polygon points="851,212 849,215 847,213 850,210"/>
<polygon points="466,184 468,184 469,186 467,188 466,187"/>
<polygon points="732,318 735,319 735,321 732,320"/>
<polygon points="210,257 209,258 207,259 205,258 206,256"/>
<polygon points="540,225 540,226 536,227 535,226 538,224"/>
<polygon points="895,294 894,295 892,290 893,288 894,289"/>
<polygon points="499,288 496,289 495,288 499,286"/>
<polygon points="857,231 862,232 863,234 859,235 856,233"/>
<polygon points="418,245 422,246 423,249 419,249"/>
<polygon points="159,90 161,91 159,94 156,93 156,91"/>
<polygon points="884,200 886,203 884,204 879,200"/>
<polygon points="375,118 378,118 377,120 374,122 372,120"/>
<polygon points="539,114 535,113 538,111 541,111"/>
<polygon points="590,173 589,177 588,172"/>
<polygon points="268,319 270,315 272,317 270,320"/>
<polygon points="427,282 425,279 426,277 428,279 428,283"/>
<polygon points="571,198 569,201 568,201 566,199 569,195"/>
<polygon points="1058,234 1058,237 1054,235 1055,231"/>
<polygon points="624,116 629,116 629,118 625,119 623,118"/>
<polygon points="893,228 890,227 893,225 894,226"/>
<polygon points="830,304 829,304 828,301 832,300 833,302"/>
<polygon points="1043,263 1039,265 1041,261"/>
<polygon points="498,328 497,324 501,323 501,329"/>
<polygon points="159,119 162,119 163,123 161,123"/>
<polygon points="488,176 491,171 494,172 490,176"/>
<polygon points="856,201 854,201 852,197 856,198"/>
<polygon points="1013,92 1012,89 1015,87 1016,89 1015,92"/>
<polygon points="430,327 428,324 429,324 432,327"/>
<polygon points="656,317 655,318 651,317 650,314 652,314"/>
<polygon points="426,320 423,320 420,317 424,315"/>
<polygon points="626,329 625,326 628,326 629,329"/>
<polygon points="199,287 200,285 202,287 201,288"/>
<polygon points="1011,234 1009,235 1007,232 1010,231"/>
<polygon points="1013,124 1013,120 1018,118"/>
<polygon points="356,181 358,182 355,185 351,183 354,181"/>
<polygon points="441,319 438,320 437,318 438,315 441,316"/>
<polygon points="304,229 308,226 308,230 304,233"/>
<polygon points="288,98 288,101 285,100 284,97 286,96"/>
<polygon points="530,223 530,220 532,219 534,222"/>
<polygon points="169,251 167,247 170,247 172,252"/>
<polygon points="688,185 692,185 688,189"/>
<polygon points="969,103 972,102 974,103 974,104 971,105"/>
<polygon points="609,212 607,215 606,215 605,211 608,210"/>
<polygon points="178,256 176,258 173,256"/>
<polygon points="396,241 397,242 396,244 394,243 395,241"/>
<polygon points="486,200 489,202 485,203"/>
<polygon points="464,134 461,137 459,137 458,136 462,133"/>
<polygon points="139,307 142,307 140,310"/>
<polygon points="736,134 739,133 740,135 737,137"/>
<polygon points="172,107 171,105 174,104 176,106 174,109"/>
<polygon points="305,155 303,159 299,156"/>
<polygon points="883,97 881,98 881,95 883,93 885,94"/>
<polygon points="747,205 751,204 752,208"/>
<polygon points="142,97 142,94 149,96"/>
<polygon points="757,186 756,183 758,182 760,184"/>
<polygon points="101,296 104,294 104,296"/>
<polygon points="286,121 288,121 290,123 288,124 287,123"/>
<polygon points="253,238 250,235 253,233 256,235 255,238"/>
<polygon points="654,149 655,147 657,148 656,151 654,152"/>
<polygon points="671,327 670,329 668,328 667,325 668,324"/>
<polygon points="1027,217 1028,218 1028,220 1026,221 1024,219"/>
<polygon points="410,167 410,164 416,166 416,169"/>
<polygon points="920,335 917,335 917,329 919,330"/>
<polygon points="1056,278 1059,279 1055,284"/>
<polygon points="134,100 137,101 135,105 133,103"/>
<polygon points="574,142 575,146 572,144"/>
<polygon points="214,292 213,295 209,293"/>
<polygon points="225,82 228,83 227,87"/>
<polygon points="422,141 424,143 421,144"/>
<polygon points="871,180 870,177 873,175 873,178"/>
<polygon points="836,242 838,245 833,247 832,245"/>
<polygon points="524,216 523,217 520,214 521,212 522,213"/>
<polygon points="618,100 618,94 621,97"/>
<polygon points="328,327 333,328 332,331 328,330"/>
<polygon points="451,152 452,150 454,149 455,153 453,154"/>
<polygon points="426,203 423,201 425,198 429,200 428,203"/>
<polygon points="716,332 720,329 720,333"/>
<polygon points="646,255 645,257 642,258 643,255"/>
<polygon points="560,90 559,88 560,87 563,87 562,90"/>
<polygon points="137,117 136,116 137,112 139,113 140,115"/>
<polygon points="889,147 890,151 886,152"/>
<polygon points="1064,157 1062,161 1060,157"/>
<polygon points="181,325 183,325 184,326 183,329 181,327"/>
<polygon points="906,137 908,132 912,130 910,136"/>
<polygon points="791,268 788,270 787,266"/>
<polygon points="873,122 872,125 867,120"/>
<polygon points="609,125 611,127 609,130 607,127"/>
<polygon points="715,309 712,306 717,306 718,309"/>
<polygon points="580,113 582,113 581,117"/>
<polygon points="333,240 331,242 329,240 332,238"/>
<polygon points="384,316 380,316 379,312 384,313"/>
<polygon points="865,288 866,291 864,291 861,287"/>
<polygon points="1062,139 1063,141 1060,143 1058,143 1059,140"/>
<polygon points="293,307 291,309 290,305 293,302"/>
<polygon points="384,244 382,245 382,242 384,242"/>
<polygon points="197,242 200,246 197,246"/>
<polygon points="961,188 963,186 963,190 962,191"/>
<polygon points="545,149 549,149 546,152"/>
<polygon points="1028,184 1027,181 1031,183"/>
<polygon points="1010,183 1007,185 1007,182 1009,179 1010,181"/>
<polygon points="869,88 867,92 866,88"/>
<polygon points="398,96 399,94 401,96 400,98 398,98"/>
<polygon points="820,168 818,170 813,168 814,165 817,166"/>
<polygon points="1008,255 1004,256 1005,253"/>
<polygon points="1061,329 1062,328 1064,328 1064,330 1062,331"/>
<polygon points="880,246 877,244 878,241 881,242"/>
<polygon points="454,331 455,329 458,333 456,334"/>
<polygon points="744,324 746,323 750,324 747,325"/>
<polygon points="512,229 512,231 509,230"/>
<polygon points="755,315 755,317 752,317 752,314 753,313"/>
<polygon points="257,263 254,261 257,258"/>
<polygon points="650,118 655,117 653,119"/>
<polygon points="1063,100 1062,97 1065,97"/>
<polygon points="430,99 431,96 433,102"/>
<polygon points="136,277 138,275 140,282"/>
<polygon points="948,188 943,191 943,187"/>
<polygon points="393,206 391,204 392,200 394,201 394,205"/>
<polygon points="400,137 397,138 397,136 398,135 400,135"/>
<polygon points="1040,196 1042,191 1043,196"/>
<polygon points="766,270 762,274 759,274 759,271 763,269"/>
<polygon points="102,200 101,202 99,201 99,199 101,198"/>
<polygon points="1037,256 1040,253 1041,255 1039,259"/>
<polygon points="473,323 474,319 477,321"/>
<polygon points="240,173 238,170 242,168"/>
<polygon points="855,152 854,149 858,147 859,148 857,152"/>
<polygon points="1054,302 1057,302 1056,307"/>
<polygon points="545,319 546,317 549,316 549,319 548,320"/>
<polygon points="483,231 483,228 485,226 487,228 486,231"/>
<polygon points="943,271 944,267 947,269 945,275"/>
<polygon points="770,307 769,306 771,304 773,306"/>
<polygon points="259,85 261,85 262,87 260,90 258,88"/>
<polygon points="479,89 480,92 476,93"/>
<polygon points="879,106 878,107 874,107 874,104 876,104"/>
<polygon points="334,133 337,132 335,136"/>
<polygon points="137,220 136,222 134,221 134,219"/>
<polygon points="542,179 545,178 546,179 545,182 542,180"/>
<polygon points="515,308 519,307 516,312"/>
<polygon points="794,161 796,162 796,163 794,164 793,163"/>
<polygon points="141,179 138,177 143,175"/>
<polygon points="112,127 113,131 110,131 110,127"/>
<polygon points="716,176 713,179 712,176"/>
<polygon points="149,151 144,151 146,149"/>
<polygon points="402,127 401,125 403,123 406,122 406,124"/>
<polygon points="96,137 98,133 101,136"/>
<polygon points="973,259 978,262 971,262"/>
<polygon points="669,256 669,260 667,259 667,255"/>
<polygon points="108,256 107,252 110,253"/>
<polygon points="753,190 756,188 756,191 753,192"/>
<polygon points="436,88 436,91 434,90 433,88 433,86"/>
<polygon points="509,330 511,329 511,334 508,333"/>
<polygon points="1040,304 1039,301 1041,299 1041,303"/>
<polygon points="1000,103 1000,101 1002,100"/>
<polygon points="622,216 618,214 620,211 623,213"/>
<polygon points="291,274 293,273 295,277"/>
<polygon points="558,170 558,168 561,167 563,169 561,171"/>
<polygon points="600,142 600,144 597,144 596,141 598,141"/>
<polygon points="662,210 663,211 663,215 661,215 660,213"/>
<polygon points="805,303 806,298 809,299"/>
<polygon points="852,88 853,89 854,92 852,94 850,90"/>
<polygon points="122,268 121,265 126,266"/>
<polygon points="226,209 228,212 225,211"/>
<polygon points="191,85 188,88 185,86 188,83"/>
<polygon points="899,235 901,235 902,237 899,238 898,238"/>
<polygon points="932,289 932,291 931,293 928,293 929,289"/>
<polygon points="435,333 433,333 433,330 437,327 437,330"/>
<polygon points="385,329 389,331 383,333"/>
<polygon points="910,325 911,324 913,324 914,325 912,328"/>
<polygon points="450,187 453,185 454,187 453,190 451,190"/>
<polygon points="346,222 343,223 342,221 345,220"/>
<polygon points="545,279 545,281 543,282 542,278"/>
<polygon points="896,281 900,282 901,284 897,284"/>
<polygon points="264,306 265,309 263,309"/>
<polygon points="394,131 388,131 394,128"/>
<polygon points="789,91 791,93 789,95 788,94"/>
<polygon points="783,134 786,135 785,137 780,135"/>
<polygon points="834,119 836,119 835,124 833,125 832,122"/>
<polygon points="403,271 404,272 403,274 400,273 400,271"/>
<polygon points="444,256 445,255 448,256 447,258 445,258"/>
<polygon points="504,156 500,153 503,149"/>
<polygon points="937,121 937,114 940,119"/>
<polygon points="327,255 329,252 332,255 332,259 329,258"/>
<polygon points="983,206 985,207 987,209 984,209"/>
<polygon points="629,154 630,151 631,152 631,155 630,157"/>
<polygon points="965,91 966,94 962,95 961,92"/>
<polygon points="134,285 132,287 130,283"/>
<polygon points="342,302 342,305 336,304"/>
<polygon points="231,244 228,242 231,242"/>
<polygon points="690,105 690,102 693,102"/>
<polygon points="994,150 995,145 997,146 998,148 997,151"/>
<polygon points="593,318 594,315 597,319 595,320"/>
<polygon points="775,290 777,293 777,296 774,295 772,291"/>
<polygon points="579,183 574,183 578,181"/>
<polygon points="228,109 225,110 224,108 227,107"/>
<polygon points="555,302 552,306 550,303"/>
<polygon points="619,199 617,198 620,195"/>
<polygon points="1016,130 1014,132 1012,128 1014,126"/>
<polygon points="840,127 841,131 838,130"/>
<polygon points="638,231 639,233 637,234 634,231 635,230"/>
<polygon points="567,238 568,242 565,240 565,238"/>
<polygon points="640,240 642,237 644,237 643,240 640,242"/>
<polygon points="932,114 930,116 928,115 929,113 931,113"/>
<polygon points="639,204 640,200 642,201 642,204"/>
<polygon points="978,130 977,129 976,127 979,127 979,128"/>
<polygon points="654,225 653,222 655,220 657,221 656,224"/>
<polygon points="828,182 827,185 824,179"/>
<polygon points="359,90 357,89 357,87 360,85 362,86"/>
<polygon points="359,115 357,114 358,111 360,112"/>
<polygon points="925,86 923,84 925,82 926,83 927,86"/>
<polygon points="697,332 695,333 693,332 693,330 695,329"/>
<polygon points="286,179 287,177 290,177 290,179 288,180"/>
<polygon points="1061,208 1063,212 1060,213 1058,210"/>
<polygon points="894,331 892,334 890,330 890,328 893,329"/>
<polygon points="112,292 109,292 108,289 111,288 115,290"/>
<polygon points="220,200 223,203 220,204 218,201"/>
<polygon points="562,245 565,247 564,248 560,247 560,246"/>
<polygon points="598,181 595,182 594,181 597,179"/>
<polygon points="681,129 682,132 678,130"/>
<polygon points="215,103 218,103 218,106 215,106"/>
<polygon points="847,98 850,102 848,104 846,100"/>
<polygon points="189,328 192,328 191,331"/>
<polygon points="601,246 597,246 596,243 597,242 602,244"/>
<polygon points="111,171 112,170 114,170 116,172 115,173"/>
<polygon points="427,234 431,234 431,237 429,238 428,236"/>
<polygon points="746,90 746,93 744,93 744,90"/>
<polygon points="136,86 139,85 139,89"/>
<polygon points="486,288 486,284 489,285"/>
<polygon points="801,321 797,319 798,317 802,317 802,320"/>
<polygon points="649,196 651,190 653,190 651,195"/>
<polygon points="1036,162 1035,166 1033,164 1035,160"/>
<polygon points="305,173 304,171 305,168 307,169 307,171"/>
<polygon points="789,290 792,289 792,290 789,293"/>
<polygon points="1020,140 1017,139 1021,136 1023,137"/>
<polygon points="666,192 668,189 668,193"/>
<polygon points="199,167 197,171 193,167"/>
<polygon points="634,185 634,188 632,189 631,186"/>
<polygon points="142,246 144,246 144,249 142,250 140,248"/>
<polygon points="658,166 657,168 654,168 655,165 657,165"/>
<polygon points="607,149 606,147 608,145 610,147"/>
<polygon points="97,253 100,253 102,256 100,257 97,256"/>
<polygon points="369,328 368,330 365,328"/>
<polygon points="248,86 246,88 244,85"/>
<polygon points="574,170 577,170 577,173 574,173"/>
<polygon points="424,234 421,233 421,231 422,229 425,231"/>
<polygon points="872,153 872,158 868,155"/>
<polygon points="992,304 991,301 995,301 996,304"/>
<polygon points="987,166 990,163 990,166"/>
<polygon points="210,88 209,86 212,83 214,85 213,88"/>
<polygon points="932,301 931,304 928,304 929,299"/>
<polygon points="1059,244 1062,242 1063,246"/>
<polygon points="654,263 655,260 657,260 655,263"/>
<polygon points="493,321 491,320 493,316 494,316 494,318"/>
<polygon points="613,299 615,301 613,304 610,301"/>
<polygon points="442,102 437,104 438,100"/>
<polygon points="735,290 731,290 732,287 736,287"/>
<polygon points="272,331 269,332 267,329 269,328"/>
<polygon points="1029,240 1032,239 1035,242 1032,244"/>
<polygon points="254,89 256,92 254,94 251,91"/>
<polygon points="659,180 657,182 655,179 657,177 658,178"/>
<polygon points="460,181 462,183 457,184"/>
<polygon points="112,195 113,191 115,191 117,194 114,196"/>
<polygon points="389,307 387,306 387,303 388,302 389,303"/>
<polygon points="218,259 216,257 219,255"/>
<polygon points="903,217 903,221 899,219 901,217"/>
<polygon points="419,161 423,158 424,159 423,162 420,163"/>
<polygon points="579,311 576,315 574,313 574,311 578,308"/>
<polygon points="970,225 966,225 968,222"/>
<polygon points="168,153 166,154 165,152 168,151"/>
<polygon points="104,126 106,129 104,131 102,130 102,125"/>
<polygon points="562,297 564,298 562,301 559,300"/>
<polygon points="946,128 948,127 949,130 946,130"/>
<polygon points="465,319 466,315 469,316 467,319"/>
<polygon points="206,117 209,118 209,121 207,122 205,121"/>
<polygon points="887,291 887,294 884,295 883,292 885,291"/>
<polygon points="792,87 794,85 795,88"/>
<polygon points="432,144 428,143 429,139"/>
<polygon points="991,254 993,254 994,258 993,261 990,258"/>
<polygon points="531,185 531,183 531,182 534,183 534,184"/>
<polygon points="1006,325 1003,323 1004,321 1007,323 1007,324"/>
<polygon points="952,89 952,86 954,85 957,87 955,90"/>
<polygon points="914,85 916,82 917,85"/>
<polygon points="257,331 254,330 255,328 257,327"/>
<polygon points="428,116 430,113 431,116"/>
<polygon points="165,312 162,311 165,309 168,311"/>
<polygon points="272,286 271,282 276,285"/>
<polygon points="371,109 376,109 372,111"/>
<polygon points="980,143 979,146 977,144"/>
<polygon points="1006,87 1001,83 1009,84"/>
<polygon points="418,330 426,331 423,334"/>
<polygon points="206,327 204,329 203,327 203,326 206,325"/>
<polygon points="472,333 471,328 473,328 475,330 474,334"/>
<polygon points="344,278 349,278 347,281"/>
<polygon points="140,314 143,312 144,314 141,317 139,316"/>
<polygon points="812,156 815,156 813,159 810,159 810,157"/>
<polygon points="457,88 461,90 457,92 454,92 454,90"/>
<polygon points="396,264 399,262 399,266"/>
<polygon points="220,89 223,91 222,95 219,93"/>
<polygon points="354,324 352,324 350,320 352,319 353,320"/>
<polygon points="946,209 948,205 950,210"/>
<polygon points="542,168 543,173 538,173"/>
<polygon points="899,168 897,168 898,164 900,164 901,165"/>
<polygon points="1030,159 1029,161 1027,160 1028,158"/>
<polygon points="179,100 182,97 183,101"/>
<polygon points="154,332 155,331 158,329 159,331 158,332"/>
<polygon points="802,137 806,136 807,138 805,140 801,140"/>
<polygon points="383,169 384,173 381,175 379,172 382,170"/>
<polygon points="307,90 306,92 303,91 305,89"/>
<polygon points="1015,270 1016,269 1019,270 1017,272"/>
<polygon points="567,256 565,255 564,252 568,253 569,255"/>
<polygon points="473,167 477,164 480,165 478,168 474,170"/>
<polygon points="542,190 545,189 546,191 545,193 542,192"/>
<polygon points="278,201 281,200 281,205"/>
<polygon points="380,323 382,321 385,325 382,327"/>
<polygon points="610,158 609,160 606,159 607,156 609,157"/>
<polygon points="774,108 775,107 778,109 778,112 776,111"/>
<polygon points="166,297 162,296 162,295 164,293 167,294"/>
<polygon points="921,170 924,166 930,166 927,170"/>
<polygon points="444,289 445,291 441,293 440,290"/>
<polygon points="481,118 482,120 480,123 478,120"/>
<polygon points="725,102 725,97 728,98"/>
<polygon points="712,96 716,93 718,95"/>
<polygon points="867,241 865,239 865,237 866,237 868,238"/>
<polygon points="875,333 873,331 874,329 878,330 878,332"/>
<polygon points="1025,328 1030,329 1028,331"/>
<polygon points="988,153 985,153 985,150 988,151"/>
<polygon points="565,204 562,208 560,206"/>
<polygon points="775,134 772,133 776,131"/>
<polygon points="226,195 229,194 230,197 229,198 225,197"/>
<polygon points="399,154 396,155 393,153 397,151 399,152"/>
<polygon points="943,197 945,200 941,201 939,199"/>
<polygon points="301,113 299,112 301,109 305,110 304,112"/>
<polygon points="1063,124 1062,122 1062,119 1065,123"/>
<polygon points="910,173 912,175 911,176 909,175 908,173"/>
<polygon points="773,102 772,99 774,98 775,101"/>
<polygon points="1001,94 1001,91 1004,91 1005,95"/>
<polygon points="535,192 535,189 539,191 538,194"/>
<polygon points="1026,89 1028,85 1030,85 1032,86 1030,89"/>
<polygon points="476,127 475,129 473,129 473,126 475,125"/>
<polygon points="385,163 381,165 379,164 380,161 385,161"/>
<polygon points="508,325 508,320 511,323"/>
<polygon points="290,145 293,144 296,147 295,148 291,148"/>
<polygon points="100,166 99,162 102,162"/>
<polygon points="835,218 833,216 834,212 837,215"/>
<polygon points="597,175 594,174 595,172 597,172"/>
<polygon points="439,220 437,218 438,215 440,217"/>
<polygon points="1063,220 1062,218 1063,216 1065,218"/>
<polygon points="541,266 543,269 539,269"/>
<polygon points="1033,204 1030,205 1029,201"/>
<polygon points="780,101 782,100 783,102 780,104"/>
<polygon points="444,151 441,149 445,147"/>
<polygon points="300,118 300,119 298,120 295,120 298,117"/>
<polygon points="899,197 899,201 895,201"/>
<polygon points="993,221 991,222 990,220 992,218"/>
<polygon points="516,156 514,159 514,156 514,154 517,154"/>
<polygon points="602,104 603,101 606,102"/>
<polygon points="928,329 930,332 926,330"/>
<polygon points="727,275 728,276 727,280 724,279 724,277"/>
<polygon points="895,317 894,321 891,321 890,319 891,316"/>
<polygon points="346,320 343,321 343,317 347,317"/>
<polygon points="1000,295 997,293 1001,291 1003,293"/>
<polygon points="317,316 316,314 318,312 320,314 319,315"/>
<polygon points="606,240 608,238 609,238 609,242 607,243"/>
<polygon points="605,256 601,254 601,251 603,249 604,251"/>
<polygon points="646,215 650,215 651,217 650,218"/>
<polygon points="378,196 375,198 375,197 376,194 378,194"/>
<polygon points="361,155 363,159 359,160"/>
<polygon points="231,121 233,119 235,121 233,123"/>
<polygon points="406,190 406,188 407,187 409,188 408,190"/>
<polygon points="572,163 567,162 566,160 572,161"/>
<polygon points="832,173 831,175 829,172"/>
<polygon points="312,265 315,266 315,268 313,269 311,266"/>
<polygon points="1010,329 1013,328 1012,331 1010,330"/>
<polygon points="551,327 548,327 547,323 551,325"/>
<polygon points="369,149 366,151 365,151 365,149 369,149"/>
<polygon points="537,206 539,206 541,209 538,210"/>
<polygon points="112,203 119,204 112,206"/>
<polygon points="106,327 104,330 102,329 103,326"/>
<polygon points="1062,231 1062,227 1064,227 1065,231"/>
<polygon points="856,160 852,160 853,157 858,155 858,157"/>
<polygon points="516,112 514,112 511,110 512,109 515,110"/>
<polygon points="104,93 100,91 100,88 104,90"/>
<polygon points="323,209 322,207 324,206 328,207 327,208"/>
<polygon points="1061,275 1059,274 1059,271 1063,272 1064,273"/>
<polygon points="935,278 933,281 931,277"/>
<polygon points="578,259 581,261 579,263"/>
<polygon points="977,234 976,230 980,231"/>
<polygon points="822,163 822,161 825,159 827,161 825,164"/>
<polygon points="667,251 662,248 663,246 666,247 669,249"/>
<polygon points="663,240 659,241 658,238"/>
<polygon points="986,325 985,331 982,329"/>
<polygon points="1046,120 1048,121 1048,123 1046,124 1044,122"/>
<polygon points="294,325 298,324 298,326 294,328"/>
<polygon points="138,96 137,93 140,93"/>
<polygon points="709,216 705,217 707,213"/>
<polygon points="865,247 862,249 861,247 864,245"/>
<polygon points="322,176 322,172 326,173"/>
<polygon points="820,85 821,87 820,88 817,88 816,87"/>
<polygon points="321,247 324,248 325,249 323,252 321,250"/>
<polygon points="511,95 511,98 509,98 508,97 509,95"/>
<polygon points="686,167 684,168 682,166 682,165 685,165"/>
<polygon points="672,121 676,120 678,121 677,124 672,124"/>
<polygon points="137,311 134,313 133,310"/>
<polygon points="644,294 641,296 639,295 640,293"/>
<polygon points="539,89 540,87 543,88 542,91"/>
<polygon points="1049,204 1051,206 1050,207 1047,206 1046,205"/>
<polygon points="681,285 680,282 683,281"/>
<polygon points="761,309 759,311 757,309 757,304 759,304"/>
<polygon points="790,131 787,130 786,128 788,127 790,129"/>
<polygon points="380,98 376,101 376,98 380,95"/>
<polygon points="706,329 710,331 710,335 707,333"/>
<polygon points="114,297 115,299 113,300 112,300 112,297"/>
<polygon points="125,306 128,306 125,309"/>
<polygon points="118,86 113,84 117,83"/>
<polygon points="748,107 745,106 746,103 747,103 749,104"/>
<polygon points="720,231 724,229 723,232"/>
<polygon points="1019,90 1021,89 1024,91 1022,93 1021,93"/>
<polygon points="927,250 930,247 932,248 930,252"/>
<polygon points="884,144 881,143 883,140"/>
<polygon points="519,222 521,226 518,224"/>
<polygon points="813,270 816,270 815,273"/>
<polygon points="103,273 100,276 99,270"/>
<polygon points="367,217 364,217 363,215 366,214"/>
<polygon points="159,323 156,324 155,320 157,319 159,320"/>
<polygon points="809,135 813,134 812,137"/>
<polygon points="156,291 158,293 157,295 154,293 155,291"/>
<polygon points="956,240 954,243 951,240"/>
<polygon points="773,120 769,117 774,116"/>
<polygon points="310,147 312,146 315,144 316,146 313,148"/>
<polygon points="1024,119 1022,120 1020,116 1023,115"/>
<polygon points="748,333 748,330 751,329"/>
<polygon points="830,279 832,282 828,283"/>
<polygon points="957,291 959,289 960,291 959,294 957,294"/>
<polygon points="736,185 738,188 734,188 734,185"/>
<polygon points="269,193 270,194 272,197 271,197 269,196"/>
<polygon points="414,225 415,222 417,222 417,225 416,226"/>
<polygon points="523,316 520,316 522,313 524,313 525,314"/>
<polygon points="506,103 510,104 509,107 506,109 505,105"/>
<polygon points="768,147 770,149 767,151 764,148"/>
<polygon points="918,110 921,112 921,115 918,112"/>
<polygon points="99,247 96,245 97,242 99,242 100,246"/>
<polygon points="930,312 928,310 931,307 932,309"/>
<polygon points="521,260 519,262 516,258"/>
<polygon points="796,288 794,286 796,284 797,286"/>
<polygon points="1046,301 1046,299 1047,298 1049,301 1048,302"/>
<polygon points="603,278 601,281 599,277 601,276"/>
<polygon points="336,201 338,202 336,205 334,203"/>
<polygon points="856,319 858,315 862,318"/>
<polygon points="657,325 655,322 658,321"/>
<polygon points="721,166 719,165 720,163 722,162 724,163"/>
<polygon points="292,331 292,333 289,333 289,332 291,330"/>
<polygon points="440,121 443,119 445,121"/>
<polygon points="640,183 643,182 646,184 643,186"/>
<polygon points="212,299 215,300 215,302 212,303 210,300"/>
<polygon points="175,160 172,160 173,156"/>
<polygon points="830,288 831,286 835,287 833,290"/>
<polygon points="137,331 135,329 135,327 139,328 140,331"/>
<polygon points="667,214 669,211 671,213"/>
<polygon points="194,258 195,258 197,261 195,262 193,260"/>
<polygon points="356,332 362,329 363,332"/>
<polygon points="760,165 760,163 764,160 766,161 763,165"/>
<polygon points="294,178 297,180 295,181 292,179"/>
<polygon points="1014,190 1013,189 1014,187 1016,187 1016,189"/>
<polygon points="627,238 625,240 623,239 623,237 625,236"/>
<polygon points="641,191 643,190 645,196 643,196"/>
<polygon points="814,333 813,329 816,331"/>
<polygon points="463,330 466,331 464,332"/>
<polygon points="696,240 695,243 694,242 693,238 695,237"/>
<polygon points="203,215 206,218 202,218"/>
<polygon points="226,143 228,144 224,145"/>
<polygon points="909,85 904,86 905,83"/>
<polygon points="141,165 142,161 144,164"/>
<polygon points="744,181 744,184 740,182 738,180 742,179"/>
<polygon points="813,113 811,114 810,111 813,110"/>
<polygon points="803,188 805,191 804,194 800,192 800,189"/>
<polygon points="681,229 685,231 679,231"/>
<polygon points="774,232 771,231 772,228 775,229"/>
<polygon points="161,247 163,243 164,247"/>
<polygon points="270,309 274,310 272,312"/>
<polygon points="333,207 334,209 332,212 331,211 331,207"/>
<polygon points="764,196 762,197 763,193"/>
<polygon points="611,171 612,176 609,175"/>
<polygon points="1060,151 1063,148 1064,150 1062,153"/>
<polygon points="876,173 874,170 877,170"/>
<polygon points="279,124 281,128 278,128 276,124"/>
<polygon points="885,135 882,137 882,134"/>
<polygon points="953,274 952,273 953,271 956,270 957,272"/>
<polygon points="355,245 354,249 352,248 353,244"/>
<polygon points="803,102 799,102 800,100 803,99 805,100"/>
<polygon points="528,206 533,208 529,209"/>
<polygon points="946,327 948,324 951,325 951,329 949,329"/>
<polygon points="274,275 270,276 274,271"/>
<polygon points="656,285 657,281 660,284"/>
<polygon points="560,224 558,227 556,225 557,221"/>
<polygon points="1050,244 1046,242 1047,241 1050,241 1052,243"/>
<polygon points="320,85 316,86 320,82"/>
<polygon points="447,215 443,217 443,215 446,213"/>
<polygon points="422,175 422,178 419,179 417,179 418,176"/>
<polygon points="285,149 287,152 282,151"/>
<polygon points="664,138 659,141 660,137"/>
<polygon points="1001,154 1004,156 1001,157"/>
<polygon points="394,296 394,298 392,299 390,297 390,296"/>
<polygon points="378,185 375,188 375,183 378,181"/>
<polygon points="924,187 918,186 923,184"/>
<polygon points="198,202 194,202 198,199"/>
<polygon points="415,315 413,314 413,311 415,309 416,311"/>
<polygon points="759,242 759,245 757,246 756,241 759,239"/>
<polygon points="482,217 483,214 485,218"/>
<polygon points="332,298 334,299 334,302 331,301 330,298"/>
<polygon points="262,108 258,110 258,106"/>
<polygon points="468,176 467,181 465,178"/>
<polygon points="567,231 572,234 568,234"/>
<polygon points="1033,304 1036,307 1036,310 1032,309"/>
<polygon points="415,194 417,196 415,198 414,196"/>
<polygon points="895,103 897,103 898,105 897,106 894,105"/>
<polygon points="185,225 189,226 185,229"/>
<polygon points="1036,248 1037,252 1034,251 1032,250 1032,247"/>
<polygon points="860,327 861,327 860,330 858,332 858,328"/>
<polygon points="671,289 672,287 674,292 672,293"/>
<polygon points="988,260 983,262 981,261 985,258"/>
<polygon points="932,134 933,131 936,134"/>
<polygon points="519,333 518,326 522,329"/>
<polygon points="197,160 197,158 201,158 200,162"/>
<polygon points="996,83 997,86 994,86"/>
<polygon points="1032,190 1032,188 1034,187 1036,189 1034,191"/>
<polygon points="239,273 235,276 234,273"/>
<polygon points="458,101 460,101 462,103 460,105 458,104"/>
<polygon points="329,132 326,131 328,127"/>
<polygon points="791,221 790,223 788,219 788,217 791,217"/>
<polygon points="594,334 593,329 595,327 596,332"/>
<polygon points="245,120 248,123 248,125 245,125 243,122"/>
<polygon points="660,332 657,329 662,329"/>
<polygon points="1007,169 1009,169 1013,173 1011,175 1008,173"/>
<polygon points="1060,85 1063,83 1063,85 1061,88 1059,87"/>
<polygon points="439,257 436,256 436,253 438,253"/>
<polygon points="908,333 906,331 909,330"/>
<polygon points="458,191 463,189 461,193"/>
<polygon points="101,185 98,185 96,182 99,181"/>
<polygon points="288,87 287,84 289,82 291,86"/>
<polygon points="133,270 133,273 131,275 129,273 131,270"/>
<polygon points="580,99 577,101 575,101 574,97 578,97"/>
<polygon points="694,254 697,255 697,257 695,258 693,257"/>
<polygon points="644,232 647,233 647,235 645,235 643,233"/>
<polygon points="621,126 619,123 622,122"/>
<polygon points="153,211 154,214 149,211"/>
<polygon points="351,237 354,238 354,241 350,240 349,238"/>
<polygon points="276,91 279,91 278,94"/>
<polygon points="811,286 814,289 810,290"/>
<polygon points="1044,244 1045,246 1038,247 1038,243"/>
<polygon points="813,251 815,254 812,256"/>
<polygon points="889,88 892,82 892,90"/>
<polygon points="803,238 799,241 801,236"/>
<polygon points="644,211 642,209 643,207 646,209"/>
<polygon points="185,124 182,125 183,120 186,121"/>
<polygon points="1016,202 1012,202 1010,200 1015,200"/>
<polygon points="368,232 366,233 363,233 364,231 366,231"/>
<polygon points="272,168 272,172 268,172 268,169"/>
<polygon points="507,130 508,128 510,128 509,131"/>
<polygon points="601,333 602,329 604,328 605,332 603,335"/>
<polygon points="277,181 273,183 274,178"/>
<polygon points="763,185 765,183 767,185 764,187"/>
<polygon points="902,297 905,296 904,299"/>
<polygon points="257,221 256,223 253,224 254,221 255,220"/>
<polygon points="248,180 246,179 245,175 248,176 250,178"/>
<polygon points="307,140 304,142 305,138"/>
<polygon points="664,155 664,151 667,154"/>
<polygon points="1042,331 1040,329 1041,326 1043,326 1045,329"/>
<polygon points="479,237 485,237 485,240 480,240"/>
<polygon points="328,87 330,84 331,87"/>
<polygon points="883,86 878,84 883,82"/>
<polygon points="307,217 308,215 312,214 314,216 309,218"/>
<polygon points="784,326 781,326 780,324 784,323"/>
<polygon points="578,152 577,151 577,148 579,148 580,150"/>
<polygon points="97,153 101,152 100,155"/>
<polygon points="743,331 739,333 739,329 743,328"/>
<polygon points="356,294 359,295 358,296 354,296 353,295"/>
<polygon points="441,222 442,225 439,227 438,223"/>
<polygon points="364,299 361,299 363,295 364,296"/>
<polygon points="281,249 279,247 282,246 285,248 283,250"/>
<polygon points="368,93 366,93 367,89 368,88 371,90"/>
<polygon points="897,151 894,153 893,149"/>
<polygon points="894,135 894,136 892,136 890,133 891,132"/>
<polygon points="204,246 205,245 207,244 207,247 206,248"/>
<polygon points="435,138 435,134 438,136"/>
<polygon points="169,314 173,318 169,319"/>
<polygon points="466,131 466,127 469,131"/>
<polygon points="319,166 320,162 322,161 325,163 322,167"/>
<polygon points="508,224 508,222 510,221 512,223 511,224"/>
<polygon points="360,253 359,256 356,254"/>
<polygon points="521,303 517,303 519,300"/>
<polygon points="369,300 373,302 371,303"/>
<polygon points="651,84 649,86 645,87 645,85 649,82"/>
<polygon points="121,241 125,242 123,244"/>
<polygon points="1008,264 1007,264 1008,261 1010,261 1011,262"/>
<polygon points="360,217 357,217 356,212 358,210"/>
<polygon points="763,84 766,85 765,86 761,86 760,86"/>
<polygon points="501,85 498,88 498,84"/>
<polygon points="364,123 363,120 369,121"/>
<polygon points="902,213 899,211 905,210"/>
<polygon points="251,116 252,114 256,115 255,118"/>
<polygon points="866,281 869,282 868,284 865,284 865,281"/>
<polygon points="940,213 940,214 938,214 936,212 939,211"/>
<polygon points="691,315 693,314 695,315 693,317"/>
<polygon points="276,154 278,153 280,156 278,157"/>
<polygon points="821,186 825,190 820,191 819,188"/>
<polygon points="407,197 404,200 405,196"/>
<polygon points="97,144 99,142 101,144 101,148 98,148"/>
<polygon points="308,255 310,257 307,258"/>
<polygon points="306,323 308,322 309,324 308,326 306,325"/>
<polygon points="577,278 577,275 579,272 581,275 578,278"/>
<polygon points="1051,88 1049,85 1053,83"/>
<polygon points="629,136 626,135 626,132 627,129 630,132"/>
<polygon points="581,122 582,120 585,122 584,124"/>
<polygon points="718,194 721,192 721,197 719,198"/>
<polygon points="555,182 552,181 552,180 553,178 555,179"/>
<polygon points="430,316 433,318 432,320 429,319"/>
<polygon points="373,312 370,309 375,308"/>
<polygon points="954,312 955,314 954,317 952,318 952,314"/>
<polygon points="1037,99 1038,97 1040,98 1040,100 1038,101"/>
<polygon points="324,323 322,321 323,320 326,320 326,322"/>
<polygon points="1035,177 1033,179 1032,174 1034,174"/>
<polygon points="681,118 680,116 684,114"/>
<polygon points="533,263 533,260 535,260 537,263 536,264"/>
<polygon points="470,141 467,143 466,139"/>
<polygon points="960,264 961,265 960,267 957,265"/>
<polygon points="511,213 513,210 513,215"/>
<polygon points="808,90 812,91 808,93"/>
<polygon points="790,193 788,193 785,191 786,189 790,191"/>
<polygon points="452,304 455,303 455,304 454,306 452,307"/>
<polygon points="419,132 419,128 422,132"/>
<polygon points="957,305 957,303 961,301 962,302 959,305"/>
<polygon points="210,205 213,202 213,207"/>
<polygon points="451,121 451,125 448,124"/>
<polygon points="764,329 766,327 769,329 768,331 765,331"/>
<polygon points="678,299 679,302 676,302 676,300"/>
<polygon points="767,321 771,320 770,324"/>
<polygon points="702,269 704,269 705,272 702,274"/>
<polygon points="585,249 588,249 589,252 585,254 584,251"/>
<polygon points="514,248 513,251 506,251 507,249"/>
<polygon points="896,171 894,174 891,171"/>
<polygon points="697,171 694,171 692,169 697,168"/>
<polygon points="835,268 832,271 832,267"/>
<polygon points="107,233 104,235 103,233 105,231 107,231"/>
<polygon points="416,133 413,138 411,137 414,133"/>
<polygon points="331,187 336,185 337,186 333,188"/>
<polygon points="193,111 190,110 190,107 191,105 192,107"/>
<polygon points="873,204 874,201 877,202 877,204"/>
<polygon points="164,207 162,206 162,204 165,202 166,205"/>
<polygon points="570,263 569,258 573,260"/>
<polygon points="173,99 171,100 172,95"/>
<polygon points="199,325 196,326 195,323"/>
<polygon points="148,188 150,186 154,186 151,190"/>
<polygon points="524,161 528,159 529,162"/>
<polygon points="150,285 148,286 147,284 148,281 150,282"/>
<polygon points="580,138 577,139 578,136"/>
<polygon points="126,155 128,157 125,160 123,157"/>
<polygon points="637,83 640,85 636,86"/>
<polygon points="657,121 659,122 658,126 656,123"/>
<polygon points="650,184 651,182 654,183 654,186 653,187"/>
<polygon points="736,231 740,230 738,234"/>
<polygon points="595,271 597,272 596,275 595,276 593,273"/>
<polygon points="414,255 419,257 419,260 413,259 413,256"/>
<polygon points="695,194 694,195 692,193 693,191 695,191"/>
<polygon points="115,122 113,119 117,118 118,121"/>
<polygon points="1001,186 1004,185 1004,188"/>
<polygon points="98,224 102,225 99,228"/>
<polygon points="246,262 248,260 250,262 247,264"/>
<polygon points="574,112 576,108 576,113"/>
<polygon points="930,266 927,262 930,263"/>
<polygon points="623,225 620,224 621,219"/>
<polygon points="245,302 244,303 242,303 241,300 242,300"/>
<polygon points="194,290 197,290 198,293 196,294 194,293"/>
<polygon points="708,303 706,303 709,298 710,299"/>
<polygon points="954,188 956,191 955,194 952,191 951,188"/>
<polygon points="701,208 701,211 699,212 697,209 699,206"/>
<polygon points="1057,107 1061,109 1057,109"/>
<polygon points="658,84 657,87 653,85"/>
<polygon points="827,89 825,87 827,86 829,87"/>
<polygon points="446,193 443,193 442,191 447,189"/>
<polygon points="934,109 938,111 934,112"/>
<polygon points="425,245 427,242 429,245"/>
<polygon points="941,128 938,127 938,125"/>
<polygon points="299,251 294,250 294,247 300,249"/>
<polygon points="589,142 588,140 590,139 591,139 591,142"/>
<polygon points="1016,260 1017,263 1015,263 1014,260"/>
<polygon points="635,166 633,164 634,162 637,163 637,165"/>
<polygon points="105,139 104,137 107,136 107,139"/>
<polygon points="499,133 503,136 501,136"/>
<polygon points="685,151 684,157 681,154"/>
<polygon points="559,94 561,94 560,98"/>
<polygon points="967,144 969,142 971,144"/>
<polygon points="269,163 273,162 272,165"/>
<polygon points="683,309 684,307 687,306 688,307 686,309"/>
<polygon points="109,263 114,263 115,265"/>
<polygon points="157,176 159,173 162,174 160,176"/>
<polygon points="737,275 741,274 742,275 740,277 737,277"/>
<polygon points="687,333 685,332 688,329 689,330"/>
<polygon points="607,299 604,300 603,298"/>
<polygon points="196,86 196,83 200,83 200,85 197,87"/>
<polygon points="744,123 743,124 741,123 741,121 743,121"/>
<polygon points="341,224 338,231 336,228"/>
<polygon points="876,141 874,137 878,137"/>
<polygon points="681,241 680,239 682,237 683,239 682,241"/>
<polygon points="373,201 370,202 368,201 370,199 372,199"/>
<polygon points="798,329 803,330 799,331"/>
<polygon points="733,203 731,203 730,199 732,200"/>
<polygon points="934,215 927,212 932,212"/>
<polygon points="881,175 882,171 883,175"/>
<polygon points="1052,112 1050,112 1051,109 1053,109"/>
<polygon points="534,172 533,168 535,167"/>
<polygon points="722,177 722,180 720,181 719,179 721,176"/>
<polygon points="398,163 397,159 400,162"/>
<polygon points="729,255 726,254 727,251 730,253"/>
<polygon points="932,168 933,166 939,168 938,171"/>
<polygon points="555,93 554,96 551,95 550,92"/>
<polygon points="449,145 447,143 451,142 453,144"/>
<polygon points="467,278 471,277 472,278 473,281 469,280"/>
<polygon points="357,288 359,286 361,287 360,290 358,290"/>
<polygon points="811,189 813,190 814,192 813,193 810,191"/>
<polygon points="285,300 286,304 283,304 282,302"/>
<polygon points="351,276 356,274 356,276 351,279"/>
<polygon points="825,295 827,293 828,297"/>
<polygon points="567,173 566,169 570,171"/>
<polygon points="661,115 658,117 658,115 660,114"/>
<polygon points="650,295 649,292 652,291 654,292 653,295"/>
<polygon points="380,213 380,210 384,211"/>
<polygon points="526,116 528,116 527,121"/>
<polygon points="878,152 878,150 881,149 881,152"/>
<polygon points="242,163 240,163 240,161 241,160 243,160"/>
<polygon points="399,301 403,301 404,302 402,303 398,303"/>
<polygon points="486,84 489,86 486,87 484,85"/>
<polygon points="747,84 748,85 748,87 746,86 745,84"/>
<polygon points="439,196 439,200 436,198"/>
<polygon points="504,193 506,192 507,193 507,196 504,196"/>
<polygon points="151,96 154,96 153,100"/>
<polygon points="856,310 854,313 853,310 855,307"/>
<polygon points="487,263 490,262 492,265"/>
<polygon points="726,313 727,315 726,316 723,314 723,312"/>
<polygon points="990,113 992,112 993,113 994,114 991,115"/>
<polygon points="335,145 337,147 336,148 334,149 333,146"/>
<polygon points="973,225 975,223 976,226 974,227"/>
<polygon points="458,208 458,211 455,211 456,208"/>
<polygon points="314,237 311,234 313,233 316,234"/>
<polygon points="217,329 214,331 213,329 215,326"/>
<polygon points="769,193 768,191 768,189 771,189 772,192"/>
<polygon points="457,167 458,164 460,168"/>
<polygon points="117,110 119,113 118,114 114,112 113,110"/>
<polygon points="818,240 821,241 819,242"/>
<polygon points="806,252 807,254 806,257 804,256 804,253"/>
<polygon points="612,265 615,263 615,266 611,267"/>
<polygon points="973,323 972,321 976,320 976,323"/>
<polygon points="1043,312 1040,311 1039,309 1040,308 1044,311"/>
<polygon points="118,232 120,236 120,237 117,235 117,233"/>
<polygon points="204,231 207,231 207,233"/>
<polygon points="161,264 162,267 159,266 159,263"/>
<polygon points="230,224 232,226 228,227"/>
<polygon points="801,180 802,185 799,183"/>
<polygon points="253,196 254,192 257,195"/>
<polygon points="604,265 602,265 601,263 604,262 606,263"/>
<polygon points="429,109 425,110 424,107 428,106"/>
<polygon points="882,111 884,109 884,113 882,114"/>
<polygon points="351,95 353,92 355,95"/>
<polygon points="864,296 867,296 867,300 865,299"/>
<polygon points="587,92 588,93 588,95 586,96 585,94"/>
<polygon points="1033,276 1034,276 1033,279 1032,280 1030,279"/>
<polygon points="665,109 663,111 661,108 663,106"/>
<polygon points="741,287 744,288 743,292 740,292"/>
<polygon points="761,208 762,206 765,205 766,208 764,209"/>
<polygon points="1033,218 1034,218 1036,222 1033,223"/>
<polygon points="397,124 394,126 394,119 397,120"/>
<polygon points="860,90 860,95 858,93"/>
<polygon points="547,141 548,139 551,139 550,142"/>
<polygon points="352,174 353,176 351,176 349,174"/>
<polygon points="254,213 256,214 254,216 251,216 253,213"/>
<polygon points="206,300 205,304 204,305 203,301 205,299"/>
<polygon points="736,210 731,211 732,208 736,207"/>
<polygon points="687,85 689,83 691,84 690,87 689,87"/>
<polygon points="488,191 489,195 486,194"/>
<polygon points="273,90 271,92 268,90"/>
<polygon points="938,293 941,291 941,294 938,298"/>
<polygon points="715,143 714,141 715,139 717,140 718,142"/>
<polygon points="1023,236 1020,236 1020,233 1021,231 1023,233"/>
<polygon points="964,167 960,164 962,162"/>
<polygon points="317,191 319,191 320,193 319,195 316,193"/>
<polygon points="341,159 342,161 339,162"/>
<polygon points="243,212 240,213 240,209"/>
<polygon points="111,333 109,333 109,331 113,331 113,332"/>
<polygon points="383,199 383,202 382,206 379,205 380,200"/>
<polygon points="372,257 374,256 375,257 373,261 371,260"/>
<polygon points="176,148 178,151 173,150"/>
<polygon points="715,86 711,88 711,85 713,84 716,84"/>
<polygon points="958,236 956,237 956,232"/>
<polygon points="611,219 614,217 614,220"/>
<polygon points="606,286 606,283 609,284 610,286 609,287"/>
<polygon points="669,118 666,117 666,113"/>
<polygon points="546,271 547,272 547,274 545,274 544,272"/>
<polygon points="411,99 409,98 411,95 412,96 412,98"/>
<polygon points="963,319 965,319 966,321 964,323 961,321"/>
<polygon points="718,171 719,170 720,171 719,175 718,174"/>
<polygon points="237,308 237,311 234,311 233,309 236,306"/>
<polygon points="631,88 629,91 627,87 629,86 631,86"/>
<polygon points="784,333 782,333 781,331 783,330 785,332"/>
<polygon points="665,262 667,264 666,266 664,265 664,263"/>
<polygon points="875,87 877,87 877,90 876,91 874,89"/>
<polygon points="464,227 460,228 461,225"/>
<polygon points="980,204 978,203 979,200 982,202"/>
<polygon points="444,229 447,230 443,232"/>
<polygon points="685,130 688,128 689,132 685,132"/>
<polygon points="589,325 589,329 586,328"/>
<polygon points="573,305 574,306 571,306 569,304 570,304"/>
<polygon points="574,191 578,193 573,194"/>
<polygon points="824,95 819,97 822,92"/>
<polygon points="850,148 847,148 850,143"/>
<polygon points="410,277 410,273 411,273 412,277"/>
<polygon points="468,89 468,85 470,84 470,86 468,90"/>
<polygon points="240,198 238,198 238,193 239,193"/>
<polygon points="336,268 334,272 332,271 333,266"/>
<polygon points="514,319 515,317 516,317 517,320 516,321"/>
<polygon points="958,287 958,284 959,283 961,285 960,287"/>
<polygon points="437,235 435,233 438,230"/>
<polygon points="856,107 854,108 852,105 854,103 856,104"/>
<polygon points="105,302 108,301 109,304 107,305"/>
<polygon points="278,105 279,102 281,101 281,104 279,106"/>
<polygon points="943,90 946,89 946,93"/>
<polygon points="152,228 154,230 153,233 149,231"/>
<polygon points="388,271 386,273 384,270"/>
<polygon points="737,246 740,245 741,247 737,250 735,249"/>
<polygon points="379,330 378,332 375,333 375,330 379,327"/>
<polygon points="397,178 394,178 395,175"/>
<polygon points="479,313 481,312 483,313 482,317 479,316"/>
<polygon points="922,107 919,104 921,103 925,107"/>
<polygon points="227,118 225,120 223,118 225,115"/>
<polygon points="966,329 963,330 962,327 964,326"/>
<polygon points="980,172 982,175 978,176"/>
<polygon points="165,93 168,94 166,97 163,96"/>
<polygon points="516,265 517,268 513,268"/>
<polygon points="355,110 351,111 351,108"/>
<polygon points="534,218 533,215 534,213 537,214 536,216"/>
<polygon points="1057,168 1059,165 1062,168 1059,170"/>
<polygon points="600,193 596,193 597,191 601,191"/>
<polygon points="642,262 639,265 637,262 640,260"/>
<polygon points="934,239 935,237 938,238 938,239 936,240"/>
<polygon points="460,241 459,235 463,238"/>
<polygon points="985,279 984,276 988,276"/>
<polygon points="259,249 256,247 255,245 258,243 259,245"/>
<polygon points="683,201 687,201 685,206 682,206"/>
<polygon points="482,169 485,165 488,168"/>
<polygon points="937,191 939,193 937,196 935,198 935,193"/>
<polygon points="115,247 112,248 108,247 113,245"/>
<polygon points="446,279 449,277 450,283"/>
<polygon points="653,100 650,102 647,100 648,99 652,98"/>
<polygon points="510,205 509,206 505,205 507,204"/>
<polygon points="707,96 705,96 703,94 705,92 708,94"/>
<polygon points="817,324 821,323 821,325 818,327"/>
<polygon points="122,131 119,129 122,126 124,129"/>
<polygon points="412,227 411,230 408,228"/>
<polygon points="456,173 459,175 457,178"/>
<polygon points="842,329 843,330 840,333 839,332 839,329"/>
<polygon points="355,159 356,160 354,163 351,163 352,162"/>
<polygon points="117,144 115,147 112,146 114,143 118,141"/>
<polygon points="382,305 378,306 378,302"/>
<polygon points="386,84 385,88 383,88 383,84 384,83"/>
<polygon points="177,329 173,330 174,325"/>
<polygon points="174,222 172,224 170,223 171,221 173,219"/>
<polygon points="393,213 398,211 395,218"/>
<polygon points="363,194 361,192 361,191 365,193"/>
<polygon points="136,161 132,159 137,157"/>
<polygon points="745,260 749,261 749,263 746,264 744,262"/>
<polygon points="880,213 878,215 877,214 878,212"/>
<polygon points="357,150 359,146 361,148 359,151"/>
<polygon points="643,287 646,285 648,287"/>
<polygon points="740,87 737,84 738,83 741,83 742,85"/>
<polygon points="539,231 540,233 536,234 536,232"/>
<polygon points="582,164 579,168 579,164"/>
<polygon points="270,134 270,136 268,138 268,136 268,134"/>
<polygon points="632,309 631,312 629,309"/>
<polygon points="533,88 531,85 533,82 536,83"/>
<polygon points="143,137 145,136 145,138 144,140 143,140"/>
</g></g></g></g>
<g clip-path="url(#co)"><g filter="url(#sb)"><rect x="49" y="166" width="483" height="124" fill="#FF8000"/>
<g transform="scale(.5)" fill="#800080" stroke="#0FF" stroke-width="1.5">
<polygon points="708,538 694,551 691,562 710,574"/>
<polygon points="609,497 595,527 615,536 625,533"/>
<polygon points="195,533 194,538 206,565 222,560"/>
<polygon points="1010,353 1015,364 1044,376 1056,363"/>
<polygon points="335,491 319,498 330,510 340,503"/>
<polygon points="928,554 901,557 912,568 945,562"/>
<polygon points="825,423 803,430 807,437 824,444 832,443 837,432"/>
<polygon points="956,438 941,451 954,466 967,463"/>
<polygon points="505,447 478,463 470,485 503,484 528,468 530,453"/>
<polygon points="362,548 354,549 356,572 371,573 375,567 377,557"/>
<polygon points="195,510 184,510 184,528 200,524"/>
<polygon points="512,531 498,542 499,554 515,556 527,549 530,532"/>
<polygon points="558,380 535,399 552,420 577,388"/>
<polygon points="514,380 493,401 498,420 514,420 530,398"/>
<polygon points="694,462 674,469 682,484 703,488 702,469"/>
<polygon points="235,521 233,531 238,547 250,549 256,542 257,529"/>
<polygon points="669,490 663,501 672,516 687,514 692,506 687,490"/>
<polygon points="916,420 906,422 875,438 896,451"/>
<polygon points="643,352 632,369 634,378 667,382 652,357"/>
<polygon points="476,497 442,523 472,523 485,512"/>
<polygon points="133,446 138,466 151,479 159,485 166,471 151,449"/>
<polygon points="152,372 140,373 139,389 159,406 165,391"/>
<polygon points="790,488 771,501 778,519 792,523 801,525 801,499"/>
<polygon points="1015,397 1006,402 1006,424 1024,430 1032,416 1027,407"/>
<polygon points="403,422 384,424 380,447 411,458"/>
<polygon points="605,399 592,409 587,417 590,423 605,420 616,408"/>
<polygon points="602,547 583,557 577,566 608,565 616,554"/>
<polygon points="552,518 544,522 552,546 571,529"/>
<polygon points="424,488 407,494 409,508 413,515 423,516 433,506"/>
<polygon points="844,446 837,456 863,483 892,465 865,448"/>
<polygon points="271,530 268,542 287,549 280,534"/>
<polygon points="984,487 979,514 999,522 1004,508"/>
<polygon points="132,461 105,465 100,494 121,502"/>
<polygon points="311,409 267,412 280,429 293,430"/>
<polygon points="361,496 352,519 365,522 379,514 375,504"/>
<polygon points="627,427 605,437 599,444 615,455"/>
<polygon points="565,449 554,466 552,472 569,493 578,481"/>
<polygon points="643,402 638,404 635,419 642,429 659,435 659,414"/>
<polygon points="444,534 441,562 450,567 463,562 453,536"/>
<polygon points="872,408 828,418 856,438 875,426"/>
<polygon points="134,541 117,550 114,561 128,568 139,568 145,545"/>
<polygon points="275,436 259,453 264,468 286,461 281,443"/>
<polygon points="982,543 970,562 971,566 990,564 991,553"/>
<polygon points="1020,475 1003,479 1015,497 1033,487"/>
<polygon points="666,540 643,553 654,563 667,563 676,545"/>
<polygon points="965,505 934,510 937,517 961,514"/>
<polygon points="420,411 423,427 455,436 439,412"/>
<polygon points="192,470 169,478 166,497 176,500 202,491 203,473"/>
<polygon points="534,423 524,427 526,441 537,445 545,430"/>
<polygon points="999,446 982,453 997,468 1007,470 1012,463"/>
<polygon points="129,361 106,367 101,370 103,381 123,379 129,369"/>
<polygon points="233,431 226,437 229,451 243,449 245,440"/>
<polygon points="1051,390 1039,404 1040,431 1048,426 1060,405"/>
<polygon points="526,492 512,514 543,518 549,496"/>
<polygon points="179,407 154,421 157,431 194,432"/>
<polygon points="660,461 644,466 650,476 666,466"/>
<polygon points="750,409 750,429 771,430 777,409"/>
<polygon points="870,484 861,505 868,512 878,489"/>
<polygon points="728,499 715,514 716,543 722,539 742,521 739,504"/>
<polygon points="247,480 239,495 245,516 263,510 259,490"/>
<polygon points="993,375 979,376 983,390 1007,389 1009,382"/>
<polygon points="433,523 416,532 419,548 432,552"/>
<polygon points="634,487 624,494 633,502 649,505 654,493"/>
<polygon points="814,526 818,545 837,550 845,545 839,533"/>
<polygon points="1019,541 1004,562 1013,575 1035,571 1040,551 1027,544"/>
<polygon points="700,413 691,430 705,440 718,429 711,415"/>
<polygon points="310,514 297,516 295,531 319,524"/>
<polygon points="893,548 869,554 865,573 882,578 895,564"/>
<polygon points="754,448 730,448 726,459 742,468 765,459"/>
<polygon points="776,448 773,473 776,485 788,454"/>
<polygon points="622,369 587,372 587,384 629,389 634,384"/>
<polygon points="361,443 335,464 334,478 344,474 364,453"/>
<polygon points="187,453 179,455 217,474 218,454"/>
<polygon points="424,443 430,485 446,479 449,453 441,444"/>
<polygon points="830,451 810,460 816,470 834,476"/>
<polygon points="334,516 324,525 318,540 329,548 348,526"/>
<polygon points="1036,437 1017,451 1029,468 1051,463 1054,458 1052,444"/>
<polygon points="766,529 764,543 769,561 778,555 777,533"/>
<polygon points="885,488 883,496 893,517 902,500"/>
<polygon points="667,415 664,428 686,449 688,446"/>
<polygon points="872,522 863,527 868,544 875,545 885,543 885,530"/>
<polygon points="485,529 472,546 471,558 487,552 488,531"/>
<polygon points="339,420 333,431 339,443 355,442 358,434 355,423"/>
<polygon points="116,417 109,429 116,438 145,441 148,434 139,424"/>
<polygon points="933,462 908,465 908,468 923,486 943,480"/>
<polygon points="174,338 150,351 147,361 165,362 185,361 190,340"/>
<polygon points="178,522 164,522 153,538 159,546 174,543 182,539"/>
<polygon points="460,480 441,489 440,509 463,502 464,491"/>
<polygon points="743,477 727,489 758,491 762,486"/>
<polygon points="216,491 199,498 198,501 210,520 216,510 218,503"/>
<polygon points="797,534 782,575 807,560 809,552"/>
<polygon points="537,546 527,554 543,564 552,552"/>
<polygon points="295,441 319,466 326,453 313,444"/>
<polygon points="1012,511 1013,521 1019,531 1046,528 1042,523"/>
<polygon points="412,465 401,466 397,470 404,485 415,476"/>
<polygon points="471,372 474,389 483,391 495,381 490,374"/>
<polygon points="280,556 269,556 260,567 259,577 273,576 280,574"/>
<polygon points="404,532 381,539 384,546 402,558 415,546"/>
<polygon points="380,469 375,471 370,482 376,492 390,488 392,483"/>
<polygon points="923,412 915,439 923,449 930,448 932,415"/>
<polygon points="927,515 924,539 942,536 942,526"/>
<polygon points="677,379 666,390 664,401 676,404 690,397 685,386"/>
<polygon points="136,499 124,508 125,518 136,538 144,522"/>
<polygon points="831,484 823,487 812,499 816,519 839,504"/>
<polygon points="624,451 606,471 634,481 636,465"/>
<polygon points="635,507 631,508 631,520 640,532 659,528 653,519"/>
<polygon points="533,353 520,358 517,364 522,373 533,372 545,364"/>
<polygon points="481,399 466,405 476,427 485,423 488,403"/>
<polygon points="248,411 236,421 248,433 262,426"/>
<polygon points="578,502 569,503 559,516 575,523 582,525"/>
<polygon points="292,544 292,571 305,574 316,555 315,546"/>
<polygon points="286,495 276,496 277,519 291,517"/>
<polygon points="828,554 818,560 822,571 848,577 859,571 851,558"/>
<polygon points="572,534 561,551 558,567 566,575 573,564 577,554"/>
<polygon points="601,345 600,350 618,366 626,361 625,347"/>
<polygon points="494,492 491,509 506,512 508,504"/>
<polygon points="971,344 968,367 988,369 985,349"/>
<polygon points="162,550 155,560 168,577 176,564"/>
<polygon points="246,557 238,566 238,577 248,578 255,569 255,558"/>
<polygon points="801,455 789,466 800,483 809,473"/>
<polygon points="596,461 590,466 587,480 602,483"/>
<polygon points="705,492 689,517 703,526 710,508"/>
<polygon points="288,467 274,471 273,482 284,489 293,487 295,470"/>
<polygon points="745,540 728,551 718,570 728,572 740,570 745,560"/>
<polygon points="486,557 473,561 465,567 470,575 487,570"/>
<polygon points="791,411 778,430 777,433 785,446 793,436 798,418"/>
<polygon points="968,518 955,530 965,540 995,536"/>
<polygon points="963,426 977,447 993,440 993,428"/>
<polygon points="1049,494 1031,494 1029,513 1037,514 1049,498"/>
<polygon points="651,444 639,445 639,462 662,450"/>
<polygon points="595,432 571,447 572,451 595,440"/>
<polygon points="582,349 545,356 559,371 587,366"/>
<polygon points="961,475 951,490 966,495 968,481"/>
<polygon points="309,474 301,479 308,494 320,492 327,477"/>
<polygon points="959,558 944,567 949,572 967,577"/>
<polygon points="908,476 907,502 914,510 931,500"/>
<polygon points="916,523 905,532 914,547 919,540"/>
<polygon points="227,467 223,475 237,486 240,480 237,467"/>
<polygon points="756,501 745,518 754,530 770,519 765,510"/>
<polygon points="724,443 701,445 692,453 703,459 719,450"/>
<polygon points="487,345 480,347 496,366 503,362"/>
<polygon points="220,524 206,538 225,548 229,540"/>
<polygon points="141,338 131,338 124,350 130,352 143,356 148,346"/>
<polygon points="676,344 668,355 670,366 673,375 685,369 693,346"/>
<polygon points="470,444 462,460 471,463 486,452 480,445"/>
<polygon points="116,507 108,519 113,542 122,540"/>
<polygon points="213,411 207,434 221,435 219,413"/>
<polygon points="205,436 189,438 187,449 208,448"/>
<polygon points="344,554 331,559 335,565 344,576 350,572 350,563"/>
<polygon points="954,412 937,418 938,422 956,433 959,418"/>
<polygon points="534,460 528,485 539,479 548,465"/>
<polygon points="511,560 503,571 518,578 528,568"/>
<polygon points="733,414 724,421 723,427 733,438 744,428 743,422"/>
<polygon points="133,392 118,404 139,415 143,405"/>
<polygon points="403,509 385,525 385,530 406,528 405,512"/>
<polygon points="109,343 101,345 101,356 116,357"/>
<polygon points="319,409 299,431 316,432 329,414"/>
<polygon points="980,393 968,413 975,419 987,410"/>
<polygon points="1061,533 1046,538 1044,564 1052,561"/>
<polygon points="629,547 617,547 624,565 635,563"/>
<polygon points="182,437 168,438 159,449 168,458 176,453"/>
<polygon points="677,521 671,529 685,548 689,550 704,537 687,522"/>
<polygon points="567,411 559,419 564,440 576,431"/>
<polygon points="1028,375 1015,382 1019,395 1034,389 1032,380"/>
<polygon points="411,564 385,567 396,577 417,576 417,565"/>
<polygon points="852,507 837,519 853,538 855,532"/>
<polygon points="582,392 569,408 583,411 598,395"/>
<polygon points="1001,434 998,440 1013,448 1024,437"/>
<polygon points="949,535 945,552 953,556 959,542"/>
<polygon points="162,501 149,509 153,524 176,510"/>
<polygon points="362,478 346,480 345,495 362,491"/>
<polygon points="514,432 488,433 488,438 510,444"/>
<polygon points="183,368 171,372 169,385 173,400 188,400 188,388"/>
<polygon points="721,469 714,479 723,486 738,472"/>
<polygon points="378,524 364,526 348,532 347,544 366,542 381,532"/>
<polygon points="1015,336 994,341 997,346 1022,347"/>
<polygon points="187,550 176,554 185,572 194,573 194,557"/>
<g stroke-width="0.9">
<polygon points="662,340 653,338 661,337"/>
<polygon points="426,350 433,357 424,354"/>
<polygon points="613,423 616,426 613,429"/>
<polygon points="722,408 725,410 721,413"/>
<polygon points="764,343 762,341 764,337 766,339"/>
<polygon points="336,379 338,373 341,377"/>
<polygon points="759,360 754,362 756,357"/>
<polygon points="266,384 269,384 274,386 274,388 269,388"/>
<polygon points="99,442 105,441 107,443 102,447 95,447"/>
<polygon points="382,495 391,491 387,497"/>
<polygon points="582,491 577,497 573,495"/>
<polygon points="248,475 244,470 247,467 249,470"/>
<polygon points="717,497 718,495 722,502 720,505 716,502"/>
<polygon points="285,380 281,382 281,377"/>
<polygon points="645,391 640,386 642,383"/>
<polygon points="127,457 123,454 121,446 127,452"/>
<polygon points="321,510 318,518 316,511"/>
<polygon points="872,350 871,345 875,345 878,349 875,353"/>
<polygon points="412,427 416,426 416,428 411,435 409,433"/>
<polygon points="443,343 439,345 436,345 437,342 441,341"/>
<polygon points="228,338 229,333 232,331 232,336 231,339"/>
<polygon points="1061,429 1056,429 1055,425"/>
<polygon points="430,571 431,570 433,572 434,582 433,582"/>
<polygon points="638,332 636,336 633,340 631,337 636,331"/>
<polygon points="297,334 296,338 293,336 293,331"/>
<polygon points="840,490 846,485 845,492"/>
<polygon points="453,571 456,576 450,575"/>
<polygon points="271,503 268,500 270,498 274,499 273,504"/>
<polygon points="652,539 652,541 647,543 638,541 640,538"/>
<polygon points="358,365 363,357 368,358 363,366"/>
<polygon points="362,384 357,387 359,381"/>
<polygon points="864,396 870,397 863,403"/>
<polygon points="314,380 310,384 305,383 308,379 315,376"/>
<polygon points="769,489 766,482 768,480 771,483 771,487"/>
<polygon points="874,514 871,511 875,509 876,513"/>
<polygon points="914,399 920,397 920,403 914,404"/>
<polygon points="455,409 450,409 446,407 446,406 453,406"/>
<polygon points="379,367 383,357 385,360"/>
<polygon points="402,413 396,407 397,403 404,408"/>
<polygon points="1067,571 1058,570 1061,566 1069,567"/>
<polygon points="360,400 355,402 351,400 348,397 354,396"/>
<polygon points="495,334 500,337 493,337 490,333"/>
<polygon points="768,368 773,365 779,368"/>
<polygon points="946,408 941,405 945,402 948,402 950,407"/>
<polygon points="195,411 198,414 192,414 188,409"/>
<polygon points="534,342 531,342 530,339 534,338"/>
<polygon points="238,363 244,364 247,367 244,369 240,366"/>
<polygon points="117,402 111,396 115,393 122,402"/>
<polygon points="713,487 707,487 707,485 712,484"/>
<polygon points="256,409 256,404 258,403 260,407 258,410"/>
<polygon points="915,369 917,372 910,374"/>
<polygon points="775,394 782,393 775,398"/>
<polygon points="541,542 538,542 536,539 538,537 542,538"/>
<polygon points="648,346 652,343 651,350 648,351"/>
<polygon points="1024,342 1026,338 1029,341"/>
<polygon points="1003,544 1002,538 1007,541 1008,548"/>
<polygon points="133,576 135,572 137,575 134,579"/>
<polygon points="794,389 793,393 790,393 791,387"/>
<polygon points="1000,368 1005,363 1010,365 1006,368"/>
<polygon points="938,364 934,361 937,357 938,362"/>
<polygon points="334,403 326,401 329,398 336,400"/>
<polygon points="498,529 492,530 495,525"/>
<polygon points="808,357 810,357 812,362 809,363"/>
<polygon points="371,466 375,464 375,469"/>
<polygon points="419,384 413,380 410,372 413,372 419,380"/>
<polygon points="610,574 610,579 605,581 604,575"/>
<polygon points="832,340 836,332 837,337"/>
<polygon points="296,366 302,370 301,372 295,370 292,367"/>
<polygon points="443,384 447,386 446,387 441,387 440,386"/>
<polygon points="329,363 326,365 323,362 323,355 326,354"/>
<polygon points="513,350 519,353 519,355 513,355"/>
<polygon points="203,342 195,334 202,334"/>
<polygon points="1065,456 1057,453 1062,452 1069,454"/>
<polygon points="650,579 656,577 661,581 656,582"/>
<polygon points="825,375 832,378 829,379 824,378"/>
<polygon points="417,401 417,392 421,398"/>
<polygon points="851,362 846,360 851,358 855,358 855,360"/>
<polygon points="256,383 253,388 250,386 253,383"/>
<polygon points="937,579 934,574 939,574 939,578"/>
<polygon points="884,425 880,424 881,421 885,420"/>
<polygon points="158,337 153,342 152,334"/>
<polygon points="783,556 784,559 777,565 774,564"/>
<polygon points="974,472 972,476 969,475 969,472"/>
<polygon points="199,354 197,364 195,357"/>
<polygon points="195,392 201,397 195,400"/>
<polygon points="1000,419 1000,422 994,420 994,416"/>
<polygon points="714,359 713,356 717,354 719,357 719,359"/>
<polygon points="834,525 830,526 829,518 833,514 835,522"/>
<polygon points="700,347 698,343 700,339 706,343 706,346"/>
<polygon points="657,445 655,441 661,440"/>
<polygon points="600,495 605,497 601,501 598,499"/>
<polygon points="1036,476 1040,475 1039,482"/>
<polygon points="477,335 474,336 473,328"/>
<polygon points="920,519 918,509 924,517"/>
<polygon points="458,391 455,386 458,383"/>
<polygon points="696,567 698,573 697,580 694,582 692,575"/>
<polygon points="220,376 220,373 227,375 225,378"/>
<polygon points="280,521 280,523 277,528 275,527 278,520"/>
<polygon points="398,349 402,354 400,355"/>
<polygon points="211,333 211,328 214,329 216,334 215,338"/>
<polygon points="304,461 309,460 309,465"/>
<polygon points="882,371 884,372 882,374 877,375 876,372"/>
<polygon points="448,349 454,347 454,350 451,352 447,352"/>
<polygon points="350,581 352,575 356,580"/>
<polygon points="700,362 697,366 694,363"/>
<polygon points="614,489 612,485 615,483 619,487"/>
<polygon points="104,521 101,531 97,531 100,522"/>
<polygon points="457,536 458,526 461,535 460,541"/>
<polygon points="557,490 556,493 551,491"/>
<polygon points="988,342 991,342 993,345 990,347"/>
<polygon points="284,434 287,440 283,440 280,437 282,433"/>
<polygon points="579,378 580,381 575,380 570,377 577,377"/>
<polygon points="275,406 279,399 281,407 277,411"/>
<polygon points="802,446 807,448 802,450"/>
<polygon points="814,336 814,342 810,343 809,336"/>
<polygon points="785,347 774,349 779,344"/>
<polygon points="733,364 735,367 731,370"/>
<polygon points="988,470 989,475 983,475 980,469"/>
<polygon points="235,394 229,396 234,391"/>
<polygon points="183,462 185,471 180,464"/>
<polygon points="457,415 461,419 460,427 456,423"/>
<polygon points="898,492 898,488 900,486 901,492"/>
<polygon points="762,564 763,561 769,566 771,571 767,570"/>
<polygon points="888,399 892,395 895,400"/>
<polygon points="713,402 712,408 709,411 704,411 707,405"/>
<polygon points="805,389 805,385 808,384 810,387"/>
<polygon points="1055,337 1056,341 1054,342 1049,338 1050,335"/>
<polygon points="242,510 237,512 233,510 237,507"/>
<polygon points="389,514 390,508 394,507 393,514"/>
<polygon points="116,346 120,345 118,349"/>
<polygon points="883,328 885,342 881,338 879,326"/>
<polygon points="303,490 303,492 300,494 297,493 299,489"/>
<polygon points="417,484 421,480 422,481 419,487 416,487"/>
<polygon points="747,403 746,409 743,407 743,401"/>
<polygon points="928,376 924,380 925,375"/>
<polygon points="101,462 102,472 99,473 96,463 98,459"/>
<polygon points="645,479 644,484 642,481"/>
<polygon points="578,420 572,421 577,417 583,416"/>
<polygon points="299,357 305,356 310,361"/>
<polygon points="468,345 475,345 476,347 472,348 467,347"/>
<polygon points="322,443 318,435 324,437"/>
<polygon points="747,378 752,378 754,384 754,391 750,387"/>
<polygon points="367,456 368,453 372,457"/>
<polygon points="242,347 247,336 248,341"/>
<polygon points="149,492 146,488 150,486"/>
<polygon points="345,391 344,388 347,385 349,387 348,390"/>
<polygon points="587,518 591,518 595,521 594,523 589,522"/>
<polygon points="615,564 617,562 618,566 617,571 615,570"/>
<polygon points="97,398 99,398 100,405 98,405 97,401"/>
<polygon points="861,340 859,336 865,335 867,338"/>
<polygon points="716,436 719,434 722,435 716,439"/>
<polygon points="319,330 321,330 319,338 317,338"/>
<polygon points="850,400 852,394 856,394"/>
<polygon points="578,335 582,333 581,339"/>
<polygon points="651,511 655,508 656,515"/>
<polygon points="538,575 535,573 531,564 533,563 539,569"/>
<polygon points="978,336 972,334 974,332 980,335"/>
<polygon points="815,481 822,480 815,485"/>
<polygon points="462,334 459,343 456,343 455,338 459,333"/>
<polygon points="511,369 513,368 515,370 514,373 511,373"/>
<polygon points="973,452 973,448 976,449 978,455 976,457"/>
<polygon points="287,453 290,449 293,455 293,462"/>
<polygon points="942,375 945,375 946,380 944,382 941,379"/>
<polygon points="718,340 720,337 726,337 726,342 720,342"/>
<polygon points="337,348 334,343 342,339"/>
<polygon points="665,523 660,525 660,521 662,520"/>
<polygon points="731,357 726,353 733,350 736,354"/>
<polygon points="436,370 432,371 442,360"/>
<polygon points="966,379 971,381 964,383 958,379"/>
<polygon points="705,463 707,460 711,462 709,465"/>
<polygon points="709,386 710,384 714,387 713,390"/>
<polygon points="104,426 100,429 101,418"/>
<polygon points="265,473 259,474 259,470"/>
<polygon points="227,350 226,360 223,358 222,347 225,345"/>
<polygon points="831,354 830,351 836,351 838,354 835,357"/>
<polygon points="1062,388 1062,378 1066,380"/>
<polygon points="284,344 280,342 285,340"/>
<polygon points="453,451 458,449 461,451 455,453"/>
<polygon points="734,574 740,579 736,579"/>
<polygon points="735,402 733,393 736,395"/>
<polygon points="470,366 474,365 473,369"/>
<polygon points="396,486 401,484 398,489"/>
<polygon points="891,456 899,455 896,459"/>
<polygon points="391,418 389,418 385,412 388,410"/>
<polygon points="951,499 948,501 940,501 941,499 947,498"/>
<polygon points="853,331 847,336 844,335 849,329"/>
<polygon points="988,575 988,573 991,572 994,573 993,575"/>
<polygon points="262,345 265,346 265,353 262,352"/>
<polygon points="935,457 929,457 937,448"/>
<polygon points="235,417 232,414 236,413"/>
<polygon points="751,494 752,502 747,506"/>
<polygon points="107,571 116,580 109,577"/>
<polygon points="135,365 135,363 142,357 144,357 141,362"/>
<polygon points="104,554 99,555 103,550 107,551"/>
<polygon points="1011,503 1007,509 1008,502"/>
<polygon points="817,420 814,419 816,415 817,415 819,417"/>
<polygon points="645,565 650,565 646,571 642,570"/>
<polygon points="915,356 911,363 913,351"/>
<polygon points="459,473 457,471 458,468 461,466 462,468"/>
<polygon points="946,343 949,353 948,357 944,352 944,344"/>
<polygon points="631,448 628,444 631,437 634,441"/>
<polygon points="708,531 706,528 713,522 713,526"/>
<polygon points="684,568 681,562 685,559"/>
<polygon points="519,483 514,490 511,489"/>
<polygon points="352,339 357,340 355,343 351,342"/>
<polygon points="685,408 684,405 686,403 688,407"/>
<polygon points="562,344 564,347 557,350 554,348 557,345"/>
<polygon points="1060,516 1060,518 1057,520 1056,516"/>
<polygon points="354,351 346,359 345,354"/>
<polygon points="887,354 887,352 891,351 893,352 891,355"/>
<polygon points="1003,576 1006,578 1006,581 1002,584 1000,579"/>
<polygon points="374,444 371,438 376,438"/>
<polygon points="930,394 928,391 930,390 933,390 933,392"/>
<polygon points="401,460 395,462 394,459 401,457"/>
<polygon points="247,446 251,445 256,449 255,454"/>
<polygon points="715,370 719,368 719,371"/>
<polygon points="227,506 227,509 225,508 222,502 223,500"/>
<polygon points="213,393 218,387 217,394"/>
<polygon points="903,343 910,339 914,340 907,344"/>
<polygon points="226,476 216,486 213,483 223,475"/>
<polygon points="917,576 915,571 916,569 918,568 919,576"/>
<polygon points="903,519 908,523 897,521"/>
<polygon points="800,331 804,337 798,336 794,330"/>
<polygon points="994,528 997,522 1000,528"/>
<polygon points="757,433 763,435 757,438"/>
<polygon points="845,375 844,388 841,379"/>
<polygon points="151,503 150,504 145,503 145,501 150,500"/>
<polygon points="809,515 811,523 807,520"/>
<polygon points="865,363 867,359 871,366"/>
<polygon points="814,573 813,573 812,569 815,567 817,570"/>
<polygon points="527,530 523,526 525,523 528,526"/>
<polygon points="665,414 664,408 667,404 667,413"/>
<polygon points="968,545 966,549 962,547"/>
<polygon points="514,341 513,344 509,340 510,337"/>
<polygon points="693,445 694,438 697,441 696,445"/>
<polygon points="991,405 991,404 992,402 998,398 998,400"/>
<polygon points="103,335 103,339 99,332"/>
<polygon points="481,366 483,360 488,360 487,365"/>
<polygon points="684,338 680,338 677,333 682,335"/>
<polygon points="863,490 862,494 859,493 857,488 859,488"/>
<polygon points="324,389 320,386 321,382 324,381 325,385"/>
<polygon points="540,417 543,421 543,423 537,422 536,418"/>
<polygon points="1049,574 1044,576 1046,571"/>
<polygon points="384,340 390,339 388,342 382,344"/>
<polygon points="152,414 149,410 153,408 156,411 155,413"/>
<polygon points="750,546 755,549 753,552 749,550 745,546"/>
<polygon points="175,546 178,547 175,551 172,549"/>
<polygon points="897,372 903,370 893,380"/>
<polygon points="796,350 794,348 797,345 800,344 801,345"/>
<polygon points="686,380 686,375 690,375"/>
<polygon points="929,350 931,353 924,353"/>
<polygon points="769,399 766,400 763,397 764,395 768,396"/>
<polygon points="268,492 265,491 265,488 267,486 270,489"/>
<polygon points="1061,476 1062,482 1057,481"/>
<polygon points="795,361 799,359 800,365 794,364"/>
<polygon points="753,475 750,474 752,470"/>
<polygon points="726,547 720,547 720,544 722,543 727,544"/>
<polygon points="273,365 278,358 281,362 276,367"/>
<polygon points="547,375 549,369 555,374"/>
<polygon points="376,345 376,351 371,354 367,351"/>
<polygon points="698,377 698,373 699,373 704,375 701,377"/>
<polygon points="327,565 330,564 333,568 332,569 328,568"/>
<polygon points="956,371 951,372 952,365 957,364"/>
<polygon points="1030,396 1033,401 1030,403 1027,396"/>
<polygon points="672,481 677,484 673,488"/>
<polygon points="967,507 970,513 967,518 965,511"/>
<polygon points="356,473 357,466 360,468 361,475"/>
<polygon points="903,481 897,477 901,476"/>
<polygon points="960,414 962,405 965,408"/>
<polygon points="805,422 801,424 802,418"/>
<polygon points="882,501 875,504 879,499"/>
<polygon points="437,398 439,396 442,396 441,399"/>
<polygon points="683,416 681,421 679,416"/>
<polygon points="834,412 832,405 836,406 840,414 838,415"/>
<polygon points="1003,494 998,496 994,494 996,491"/>
<polygon points="490,504 484,504 485,500"/>
<polygon points="812,405 810,405 810,401 812,398 813,402"/>
<polygon points="149,561 153,565 148,565"/>
<polygon points="737,332 740,334 738,338"/>
<polygon points="924,342 919,342 922,338"/>
<polygon points="152,442 151,438 151,434 155,436 155,440"/>
<polygon points="605,365 595,369 604,361"/>
<polygon points="288,575 280,572 282,570 288,572 290,574"/>
<polygon points="436,443 432,433 436,435"/>
<polygon points="315,537 314,541 311,538"/>
<polygon points="999,475 997,481 995,477 998,472"/>
<polygon points="882,404 877,405 879,400"/>
<polygon points="411,344 411,348 406,346"/>
<polygon points="620,411 618,404 621,402"/>
<polygon points="589,505 586,502 587,500 591,498 592,503"/>
<polygon points="148,549 148,545 151,547 152,551"/>
<polygon points="204,570 211,568 211,572 198,576"/>
<polygon points="900,579 898,582 895,581 893,578 898,575"/>
<polygon points="855,447 858,439 859,442"/>
<polygon points="266,371 272,370 272,372 268,376 263,374"/>
<polygon points="260,393 265,395 259,396"/>
<polygon points="387,379 390,376 389,382 386,384"/>
<polygon points="427,561 419,558 421,554 430,557"/>
<polygon points="269,550 264,554 261,554 264,550 268,548"/>
<polygon points="941,437 945,438 946,446"/>
<polygon points="715,559 713,553 719,556 721,562"/>
<polygon points="469,398 473,393 474,400"/>
<polygon points="263,437 260,438 260,433 263,431"/>
<polygon points="125,411 128,414 129,418 124,417 121,412"/>
<polygon points="339,409 349,414 340,414"/>
<polygon points="890,477 887,480 878,479 881,477"/>
<polygon points="735,537 734,537 732,536 733,533 736,534"/>
<polygon points="970,575 966,572 973,571 977,572"/>
<polygon points="894,536 891,531 897,532"/>
<polygon points="450,361 454,362 455,367 453,369 450,365"/>
<polygon points="331,485 328,487 327,482"/>
<polygon points="405,390 409,393 404,396 398,393 399,389"/>
<polygon points="905,450 911,453 903,454"/>
<polygon points="265,532 261,531 262,529 266,528 267,530"/>
<polygon points="162,368 165,364 167,370 165,377"/>
<polygon points="381,556 390,557 387,559"/>
<polygon points="715,580 723,576 719,582"/>
<polygon points="724,463 724,465 721,466 718,463 720,461"/>
<polygon points="861,553 855,553 859,547 866,547"/>
<polygon points="960,442 959,439 963,434 963,438"/>
<polygon points="771,440 775,436 776,441 773,444"/>
<polygon points="206,432 198,430 200,426"/>
<polygon points="601,457 599,453 600,452 604,452 604,456"/>
<polygon points="1018,580 1021,576 1023,580"/>
<polygon points="374,422 376,427 372,427 372,423"/>
<polygon points="341,510 344,506 345,511"/>
<polygon points="376,495 371,500 370,496"/>
<polygon points="768,384 765,381 771,380 773,381 771,384"/>
<polygon points="821,455 817,452 816,444 820,449"/>
<polygon points="859,387 856,385 859,382 864,385 865,389"/>
<polygon points="129,532 131,531 132,533 131,539 129,538"/>
<polygon points="374,332 376,335 375,339 372,338"/>
<polygon points="673,449 678,448 679,454 676,455"/>
<polygon points="661,491 661,488 664,487 664,490 662,493"/>
<polygon points="999,334 993,335 992,334 995,332 1001,331"/>
<polygon points="583,469 576,463 584,464"/>
<polygon points="635,396 634,400 627,396 627,393"/>
<polygon points="826,393 820,389 820,385"/>
<polygon points="362,399 366,395 372,395 371,400 365,402"/>
<polygon points="742,377 738,384 735,382"/>
<polygon points="1022,503 1021,499 1024,498 1027,499 1025,504"/>
<polygon points="493,578 491,571 495,574"/>
<polygon points="149,579 147,584 144,580 147,573 149,573"/>
<polygon points="579,451 587,447 592,452"/>
<polygon points="786,479 790,479 787,483"/>
<polygon points="144,328 143,336 141,339 138,335 141,326"/>
<polygon points="654,397 652,395 658,385 659,390"/>
<polygon points="749,368 744,371 745,365"/>
<polygon points="479,529 479,534 476,534 475,532 474,529"/>
<polygon points="1036,427 1032,428 1031,425 1035,422 1037,424"/>
<polygon points="408,374 405,374 399,368 400,363 403,366"/>
<polygon points="590,538 588,540 582,535"/>
<polygon points="214,403 215,405 213,409 210,407"/>
<polygon points="815,541 810,545 805,544 809,539 814,537"/>
<polygon points="225,519 221,520 225,515"/>
<polygon points="475,490 467,495 469,490"/>
<polygon points="501,561 504,562 503,566 500,566"/>
<polygon points="962,396 969,396 975,399 967,400"/>
<polygon points="1039,337 1034,333 1040,333 1043,336"/>
<polygon points="542,354 540,351 546,343 547,348"/>
<polygon points="552,569 559,572 554,575"/>
<polygon points="963,337 964,340 960,341 958,338"/>
<polygon points="895,425 892,420 892,418 897,419 897,422"/>
<polygon points="204,371 208,367 211,373"/>
<polygon points="1066,359 1064,358 1062,349 1063,347 1066,353"/>
<polygon points="239,384 237,384 234,381 235,380 239,381"/>
<polygon points="192,582 188,578 188,575 191,577 195,582"/>
<polygon points="341,450 345,446 350,446 351,447 345,450"/>
<polygon points="299,391 307,401 304,402"/>
<polygon points="287,401 285,384 289,394"/>
<polygon points="608,544 606,544 601,540 600,538 605,539"/>
<polygon points="104,503 105,509 99,502 100,497"/>
<polygon points="953,387 950,394 945,392 948,387"/>
<polygon points="606,335 608,332 611,337"/>
<polygon points="553,434 556,428 559,430"/>
<polygon points="96,385 100,386 101,389 96,389"/>
<polygon points="630,349 633,348 636,350 634,356 630,354"/>
<polygon points="431,339 425,338 424,336 426,333 431,337"/>
<polygon points="551,462 550,457 553,457 554,464"/>
<polygon points="844,474 838,474 838,472 842,470 845,472"/>
<polygon points="536,376 539,379 532,379 531,376"/>
<polygon points="955,473 952,479 948,475"/>
<polygon points="1021,376 1016,374 1014,371 1016,367 1019,371"/>
<polygon points="972,502 968,500 966,496 971,497"/>
<polygon points="1049,383 1045,385 1034,384 1034,382 1045,380"/>
<polygon points="845,441 841,442 840,438 844,437"/>
<polygon points="287,529 288,525 290,526 289,531 287,531"/>
<polygon points="747,445 742,445 740,441 744,438 746,440"/>
<polygon points="176,575 175,581 171,583 171,577"/>
<polygon points="589,427 581,432 586,426"/>
<polygon points="498,493 498,488 502,485 502,492"/>
<polygon points="133,479 139,481 130,482"/>
<polygon points="618,544 616,543 621,537 622,539"/>
<polygon points="625,336 624,340 618,341"/>
<polygon points="181,330 186,331 185,335"/>
<polygon points="906,409 902,406 906,406"/>
<polygon points="590,354 591,349 595,355"/>
<polygon points="786,378 784,383 780,385 783,378"/>
<polygon points="234,548 234,551 229,553 225,550"/>
<polygon points="380,572 385,569 387,570 383,574 379,575"/>
<polygon points="329,465 323,459 333,463"/>
<polygon points="638,578 634,582 628,580"/>
<polygon points="663,538 659,536 661,534 664,536"/>
<polygon points="565,336 566,333 571,335 569,337"/>
<polygon points="232,423 234,429 233,429 230,426 229,422"/>
<polygon points="378,384 376,388 373,389 373,386"/>
<polygon points="898,543 903,544 903,546 897,547"/>
<polygon points="1067,371 1059,369 1059,363"/>
<polygon points="149,536 145,538 143,533 147,532"/>
<polygon points="421,474 417,474 417,471 422,470"/>
<polygon points="301,342 311,337 305,343"/>
<polygon points="456,377 455,373 459,373 459,377"/>
<polygon points="96,362 99,357 101,356 101,360 99,363"/>
<polygon points="1032,353 1028,353 1033,349 1037,350"/>
<polygon points="805,502 808,500 810,505"/>
<polygon points="402,335 399,337 396,335 399,330"/>
<polygon points="391,395 393,400 384,399"/>
<polygon points="136,379 134,381 130,373 133,370"/>
<polygon points="370,547 373,543 375,543 374,550"/>
<polygon points="1039,540 1039,535 1044,539 1043,542"/>
<polygon points="765,505 762,502 764,499 767,500 767,503"/>
<polygon points="811,374 814,371 818,372 812,376"/>
<polygon points="418,453 417,457 412,455 415,451"/>
<polygon points="170,338 168,338 168,332 170,330 172,331"/>
<polygon points="1047,517 1042,519 1039,516 1048,514"/>
<polygon points="432,494 435,494 438,499 438,502 433,498"/>
<polygon points="375,413 372,411 377,406"/>
<polygon points="573,584 572,574 574,572 576,578"/>
<polygon points="972,489 974,483 978,490"/>
<polygon points="601,423 604,425 600,429"/>
<polygon points="932,552 931,548 935,547 938,551 936,553"/>
<polygon points="1056,469 1056,470 1051,471 1046,467 1047,466"/>
<polygon points="336,543 338,542 344,541 346,544 340,544"/>
<polygon points="377,368 378,373 375,378 373,374"/>
<polygon points="934,494 928,485 936,489"/>
<polygon points="693,399 696,396 701,399 697,402"/>
<polygon points="877,446 881,449 874,453"/>
<polygon points="482,433 478,439 473,439 478,432"/>
<polygon points="188,378 189,375 195,372 195,375 192,378"/>
<polygon points="224,577 228,573 229,580"/>
<polygon points="943,333 945,342 941,341 939,337 940,331"/>
<polygon points="725,394 725,396 721,397 718,392 720,391"/>
<polygon points="806,570 797,575 796,573 801,567 809,566"/>
<polygon points="1064,412 1066,414 1062,416 1055,415 1058,412"/>
<polygon points="114,335 115,332 119,333 117,336"/>
<polygon points="302,510 298,508 300,501"/>
<polygon points="853,373 856,370 859,373 858,376 855,377"/>
<polygon points="1060,504 1063,502 1066,507 1064,512"/>
<polygon points="918,457 916,451 923,456"/>
<polygon points="594,573 594,569 597,569 597,573 595,573"/>
<polygon points="264,518 261,521 254,522 255,520 262,516"/>
<polygon points="464,549 468,549 469,554 465,554 464,552"/>
<polygon points="783,528 784,525 790,526 789,530 787,531"/>
<polygon points="894,344 892,340 892,337 894,337 896,341"/>
<polygon points="347,550 354,547 353,551 349,553 345,553"/>
<polygon points="531,416 523,408 529,409"/>
<polygon points="746,575 752,575 747,578"/>
<polygon points="699,495 695,497 699,489"/>
<polygon points="277,330 275,335 270,334 274,330"/>
<polygon points="881,388 871,388 881,384"/>
<polygon points="501,449 496,447 493,443 495,442 499,445"/>
<polygon points="293,534 296,535 298,540 293,541"/>
<polygon points="516,522 510,523 505,520"/>
<polygon points="501,576 509,581 508,584 500,579"/>
<polygon points="923,548 919,551 921,543"/>
<polygon points="498,395 490,397 485,395 489,393 498,393"/>
<polygon points="622,511 620,506 622,500 626,502"/>
<polygon points="411,358 416,356 415,361"/>
<polygon points="317,558 319,556 322,558 322,562 317,561"/>
<polygon points="463,431 463,436 460,434"/>
<polygon points="210,354 210,360 208,360 208,353 209,352"/>
<polygon points="840,398 832,395 840,393"/>
<polygon points="336,575 341,576 341,579 339,579 335,577"/>
<polygon points="193,504 190,507 188,503"/>
<polygon points="594,340 592,339 591,334 594,332 596,336"/>
<polygon points="738,492 740,494 739,497 736,498 736,494"/>
<polygon points="203,525 206,528 204,532 201,535 200,528"/>
<polygon points="499,346 507,347 499,352"/>
<polygon points="998,357 993,362 992,357 997,351"/>
<polygon points="231,457 234,458 234,461 230,460"/>
<polygon points="1058,398 1061,392 1063,394 1060,400"/>
<polygon points="630,520 627,525 622,527 625,521"/>
<polygon points="318,583 313,576 315,574 321,580"/>
<polygon points="748,343 754,340 752,346"/>
<polygon points="863,581 857,582 856,578 861,576 864,579"/>
<polygon points="320,344 324,343 328,347 322,347"/>
<polygon points="522,426 520,425 521,421 523,421 524,424"/>
<polygon points="538,489 535,490 532,488 537,485"/>
<polygon points="898,568 900,563 904,561 904,566 900,569"/>
<polygon points="888,521 883,522 887,516"/>
<polygon points="665,357 661,361 657,356"/>
<polygon points="668,563 674,566 670,567"/>
<polygon points="984,520 983,522 980,521 980,519"/>
<polygon points="298,577 296,582 294,580"/>
<polygon points="642,554 635,558 633,558 638,552 643,549"/>
<polygon points="515,438 521,441 515,445"/>
<polygon points="758,558 755,562 753,558"/>
<polygon points="243,394 248,394 251,401 247,400"/>
<polygon points="635,537 630,541 628,541 629,537 633,535"/>
<polygon points="550,442 556,444 561,452 554,448"/>
<polygon points="835,583 831,582 832,576 835,576"/>
<polygon points="947,519 955,526 949,527"/>
<polygon points="424,436 426,440 419,439"/>
<polygon points="939,464 939,462 944,463 946,466"/>
<polygon points="426,372 422,367 421,365 425,364 427,366"/>
<polygon points="825,362 826,368 820,364"/>
<polygon points="796,405 792,405 792,402 795,399 797,401"/>
<polygon points="402,502 398,500 397,496 401,498"/>
<polygon points="994,565 994,561 998,563"/>
<polygon points="901,390 903,385 905,386 903,391"/>
<polygon points="965,346 967,347 966,352 963,354 963,351"/>
<polygon points="1065,436 1064,440 1060,439"/>
<polygon points="223,443 225,447 214,446 213,443"/>
<polygon points="150,419 145,428 143,425"/>
<polygon points="122,385 123,382 126,385 125,387"/>
<polygon points="435,519 431,521 426,518 429,516"/>
<polygon points="257,364 255,368 253,361"/>
<polygon points="412,530 411,521 415,523 414,531"/>
<polygon points="536,389 538,394 530,391"/>
<polygon points="321,400 316,404 315,401"/>
</g>
</g></g></g>
<rect x="97" y="166" width="133" height="37" fill="#FFDEAD"/>
<rect x="230" y="166" width="121" height="4" fill="#FFDEAD"/>
<rect x="351" y="166" width="132" height="37" fill="#FFDEAD"/>
<g stroke="#000" stroke-opacity=".38" stroke-width="1" fill="none">
<path d="M49,11.5 H52.5 M66.5,11.5 H531.5 V290.5 H49"/>
<path d="M168.9,290 v-4" stroke-opacity=".75"/>
<path d="M289.4,290 v-4" stroke-opacity=".75"/>
<path d="M409.9,290 v-4" stroke-opacity=".75"/>
</g>
<defs><clipPath id="cr"><rect x="585" y="11" width="191" height="275"/></clipPath>
<filter id="bl" x="-5%" y="-5%" width="110%" height="110%"><feGaussianBlur stdDeviation="0.8"/></filter>
<filter id="bl2" x="-20%" y="-20%" width="140%" height="140%"><feGaussianBlur stdDeviation="1.1"/></filter>
<linearGradient id="gw"><stop offset="0" stop-color="#fff" stop-opacity=".25"/><stop offset=".35" stop-color="#fff" stop-opacity=".85"/><stop offset=".5" stop-color="#fff"/><stop offset=".7" stop-color="#fff" stop-opacity=".85"/><stop offset="1" stop-color="#fff" stop-opacity=".3"/></linearGradient>
<linearGradient id="gk"><stop offset="0" stop-color="#000" stop-opacity=".45"/><stop offset=".25" stop-color="#000" stop-opacity=".85"/><stop offset=".75" stop-color="#000" stop-opacity=".85"/><stop offset="1" stop-color="#000" stop-opacity=".4"/></linearGradient></defs>
<g clip-path="url(#cr)">
<rect x="585" y="11" width="191" height="275" fill="#808080"/>
<g fill="none" stroke-width="1.6" filter="url(#bl)">
<path d="M733,74 q19,-8 22,-8 q3,0 22,8M782,76 q10,-5 13,-5 q3,0 13,5M778,87 q17,-9 20,-9 q3,0 20,9M633,76 q9,-5 12,-5 q3,0 12,5M723,52 q6,-5 8,-5 q2,0 8,5M774,64 q16,-9 18,-9 q2,0 18,9M630,78 q14,-11 16,-11 q2,0 16,11M570,64 q23,-18 25,-18 q2,0 25,18M731,68 q18,-10 21,-10 q3,0 21,10M675,54 q23,-16 25,-16 q2,0 25,16M539,83 q20,-13 22,-13 q2,0 22,13M765,65 q10,-6 13,-6 q3,0 13,6M627,77 q18,-11 20,-11 q2,0 20,11M768,40 q8,-4 11,-4 q3,0 11,4M753,79 q14,-10 16,-10 q2,0 16,10M545,71 q16,-7 20,-7 q4,0 20,7M719,50 q16,-9 19,-9 q3,0 19,9M670,51 q19,-12 21,-12 q2,0 21,12M720,50 q8,-4 11,-4 q3,0 11,4M644,74 q10,-4 14,-4 q4,0 14,4M678,74 q18,-14 20,-14 q2,0 20,14M595,55 q12,-6 15,-6 q3,0 15,6M547,80 q19,-13 21,-13 q2,0 21,13M587,76 q21,-15 23,-15 q2,0 23,15M565,48 q11,-5 14,-5 q3,0 14,5M657,81 q9,-4 13,-4 q4,0 13,4M714,46 q6,-3 9,-3 q3,0 9,3M720,76 q12,-6 15,-6 q3,0 15,6M586,58 q19,-13 21,-13 q2,0 21,13M632,62 q23,-17 25,-17 q2,0 25,17M730,56 q18,-11 21,-11 q3,0 21,11M623,68 q7,-4 10,-4 q3,0 10,4M729,45 q7,-3 11,-3 q4,0 11,3M640,74 q12,-7 15,-7 q3,0 15,7M553,78 q9,-6 11,-6 q2,0 11,6M625,52 q22,-14 24,-14 q2,0 24,14M555,65 q17,-11 19,-11 q2,0 19,11M789,78 q5,-2 8,-2 q3,0 8,2M741,86 q15,-8 18,-8 q3,0 18,8M736,59 q8,-4 11,-4 q3,0 11,4M643,87 q18,-13 20,-13 q2,0 20,13M741,78 q15,-7 18,-7 q3,0 18,7M635,42 q9,-6 11,-6 q2,0 11,6M725,59 q16,-7 20,-7 q4,0 20,7M649,72 q6,-4 8,-4 q2,0 8,4M746,61 q10,-7 12,-7 q2,0 12,7M718,44 q11,-6 14,-6 q3,0 14,6M660,57 q18,-14 20,-14 q2,0 20,14M620,76 q8,-5 10,-5 q2,0 10,5M534,59 q21,-14 23,-14 q2,0 23,14M697,49 q18,-8 21,-8 q3,0 21,8M783,65 q8,-5 10,-5 q2,0 10,5M681,55 q19,-10 22,-10 q3,0 22,10M575,74 q20,-9 23,-9 q3,0 23,9M561,50 q9,-6 11,-6 q2,0 11,6M716,56 q13,-6 17,-6 q4,0 17,6M719,63 q11,-7 14,-7 q3,0 14,7M578,77 q8,-5 10,-5 q2,0 10,5M656,51 q21,-15 23,-15 q2,0 23,15M740,53 q21,-9 25,-9 q4,0 25,9M585,70 q23,-14 25,-14 q2,0 25,14M667,43 q17,-7 21,-7 q4,0 21,7M663,55 q20,-15 22,-15 q2,0 22,15M549,85 q17,-10 20,-10 q3,0 20,10M728,72 q18,-12 20,-12 q2,0 20,12M658,60 q15,-6 18,-6 q3,0 18,6M737,51 q9,-7 11,-7 q2,0 11,7M683,60 q17,-9 20,-9 q3,0 20,9M540,72 q13,-6 17,-6 q4,0 17,6M579,81 q21,-12 24,-12 q3,0 24,12M612,51 q12,-8 14,-8 q2,0 14,8M536,71 q22,-12 25,-12 q3,0 25,12M549,81 q6,-3 9,-3 q3,0 9,3M672,56 q13,-10 15,-10 q2,0 15,10M549,66 q11,-5 14,-5 q3,0 14,5M719,66 q8,-5 10,-5 q2,0 10,5M698,64 q19,-8 23,-8 q4,0 23,8M566,48 q23,-11 26,-11 q3,0 26,11M753,69 q10,-4 13,-4 q3,0 13,4M579,78 q14,-8 17,-8 q3,0 17,8M679,83 q10,-5 13,-5 q3,0 13,5M654,81 q9,-6 11,-6 q2,0 11,6M666,52 q12,-7 14,-7 q2,0 14,7M635,42 q9,-6 11,-6 q2,0 11,6M611,70 q8,-3 11,-3 q3,0 11,3M615,73 q12,-6 15,-6 q3,0 15,6M771,55 q18,-10 21,-10 q3,0 21,10M683,70 q9,-5 12,-5 q3,0 12,5M639,69 q4,-2 8,-2 q4,0 8,2M700,58 q19,-11 21,-11 q2,0 21,11M754,76 q16,-8 19,-8 q3,0 19,8M614,65 q20,-11 23,-11 q3,0 23,11M610,46 q6,-4 8,-4 q2,0 8,4M710,75 q20,-10 23,-10 q3,0 23,10M616,53 q15,-10 17,-10 q2,0 17,10M548,69 q23,-10 26,-10 q3,0 26,10M657,54 q5,-2 8,-2 q3,0 8,2M545,82 q17,-11 19,-11 q2,0 19,11M642,65 q6,-3 10,-3 q4,0 10,3M754,76 q12,-9 14,-9 q2,0 14,9M691,81 q11,-5 14,-5 q3,0 14,5M769,52 q6,-4 8,-4 q2,0 8,4M750,61 q8,-5 11,-5 q3,0 11,5M648,81 q13,-9 15,-9 q2,0 15,9M786,66 q9,-5 12,-5 q3,0 12,5M600,78 q10,-5 13,-5 q3,0 13,5M646,49 q13,-7 16,-7 q3,0 16,7M604,63 q6,-4 8,-4 q2,0 8,4M547,60 q15,-9 18,-9 q3,0 18,9M605,71 q10,-8 12,-8 q2,0 12,8M555,63 q17,-11 19,-11 q2,0 19,11M602,80 q16,-9 19,-9 q3,0 19,9M657,89 q19,-12 22,-12 q3,0 22,12M631,89 q15,-12 17,-12 q2,0 17,12M557,76 q14,-9 16,-9 q2,0 16,9M778,70 q8,-3 11,-3 q3,0 11,3M604,41 q8,-3 12,-3 q4,0 12,3M563,49 q16,-10 18,-10 q2,0 18,10M752,86 q15,-12 17,-12 q2,0 17,12M712,94 q21,-16 23,-16 q2,0 23,16M755,75 q12,-6 15,-6 q3,0 15,6M616,83 q18,-8 22,-8 q4,0 22,8M760,73 q18,-9 21,-9 q3,0 21,9M676,64 q23,-16 25,-16 q2,0 25,16M542,85 q21,-10 24,-10 q3,0 24,10M630,64 q5,-2 8,-2 q3,0 8,2M648,84 q12,-7 14,-7 q2,0 14,7M748,80 q6,-3 9,-3 q3,0 9,3M771,63 q17,-11 19,-11 q2,0 19,11M677,78 q12,-7 14,-7 q2,0 14,7M766,92 q18,-14 20,-14 q2,0 20,14M638,84 q14,-8 17,-8 q3,0 17,8M573,46 q7,-4 10,-4 q3,0 10,4M790,65 q10,-6 12,-6 q2,0 12,6M773,83 q14,-9 16,-9 q2,0 16,9M771,79 q7,-4 10,-4 q3,0 10,4M760,60 q15,-6 18,-6 q3,0 18,6M638,81 q22,-12 25,-12 q3,0 25,12M672,51 q11,-7 13,-7 q2,0 13,7M603,65 q6,-3 9,-3 q3,0 9,3M663,77 q13,-10 15,-10 q2,0 15,10M754,52 q9,-6 11,-6 q2,0 11,6M646,71 q9,-4 12,-4 q3,0 12,4M626,67 q6,-4 8,-4 q2,0 8,4M600,43 q6,-5 8,-5 q2,0 8,5M670,78 q7,-5 9,-5 q2,0 9,5M710,66 q22,-13 25,-13 q3,0 25,13M711,70 q16,-11 18,-11 q2,0 18,11M752,86 q19,-9 22,-9 q3,0 22,9M694,60 q5,-2 8,-2 q3,0 8,2M590,78 q21,-11 24,-11 q3,0 24,11M744,82 q21,-11 24,-11 q3,0 24,11M620,62 q12,-9 14,-9 q2,0 14,9M699,85 q23,-12 26,-12 q3,0 26,12M642,68 q18,-8 21,-8 q3,0 21,8M613,65 q14,-10 16,-10 q2,0 16,10M695,51 q18,-8 21,-8 q3,0 21,8M706,53 q18,-8 22,-8 q4,0 22,8M756,46 q19,-10 22,-10 q3,0 22,10M560,55 q19,-12 21,-12 q2,0 21,12M719,87 q19,-15 21,-15 q2,0 21,15M676,64 q23,-15 25,-15 q2,0 25,15M636,50 q16,-8 19,-8 q3,0 19,8M691,81 q22,-12 25,-12 q3,0 25,12M697,53 q16,-13 18,-13 q2,0 18,13M772,48 q16,-7 20,-7 q4,0 20,7M761,67 q18,-8 21,-8 q3,0 21,8M571,75 q6,-4 8,-4 q2,0 8,4M785,78 q12,-5 16,-5 q4,0 16,5M579,74 q9,-7 11,-7 q2,0 11,7M743,78 q4,-2 8,-2 q4,0 8,2M573,69 q21,-10 24,-10 q3,0 24,10M660,68 q11,-7 13,-7 q2,0 13,7M673,83 q14,-6 17,-6 q3,0 17,6M763,58 q22,-9 26,-9 q4,0 26,9M769,55 q19,-13 21,-13 q2,0 21,13M584,66 q13,-8 15,-8 q2,0 15,8M751,72 q14,-10 16,-10 q2,0 16,10M549,63 q22,-14 24,-14 q2,0 24,14M724,60 q23,-11 26,-11 q3,0 26,11M775,65 q12,-9 14,-9 q2,0 14,9M764,61 q5,-2 8,-2 q3,0 8,2M595,54 q15,-6 18,-6 q3,0 18,6M747,59 q9,-6 11,-6 q2,0 11,6M655,75 q8,-5 10,-5 q2,0 10,5M628,66 q14,-11 16,-11 q2,0 16,11M558,49 q23,-11 26,-11 q3,0 26,11M695,51 q6,-3 9,-3 q3,0 9,3M639,85 q17,-13 19,-13 q2,0 19,13M725,70 q22,-17 24,-17 q2,0 24,17M615,79 q15,-9 18,-9 q3,0 18,9M608,88 q20,-12 23,-12 q3,0 23,12M687,67 q24,-15 26,-15 q2,0 26,15M543,60 q9,-5 12,-5 q3,0 12,5M666,72 q22,-16 24,-16 q2,0 24,16M715,78 q18,-12 20,-12 q2,0 20,12M663,49 q19,-10 22,-10 q3,0 22,10" stroke="#fff" stroke-opacity="0.36"/>
<path d="M733,74 q19,-8 22,-8 q3,0 22,8M782,76 q10,-5 13,-5 q3,0 13,5M778,87 q17,-9 20,-9 q3,0 20,9M633,76 q9,-5 12,-5 q3,0 12,5M723,52 q6,-5 8,-5 q2,0 8,5M774,64 q16,-9 18,-9 q2,0 18,9M630,78 q14,-11 16,-11 q2,0 16,11M570,64 q23,-18 25,-18 q2,0 25,18M731,68 q18,-10 21,-10 q3,0 21,10M675,54 q23,-16 25,-16 q2,0 25,16M539,83 q20,-13 22,-13 q2,0 22,13M765,65 q10,-6 13,-6 q3,0 13,6M627,77 q18,-11 20,-11 q2,0 20,11M768,40 q8,-4 11,-4 q3,0 11,4M753,79 q14,-10 16,-10 q2,0 16,10M545,71 q16,-7 20,-7 q4,0 20,7M719,50 q16,-9 19,-9 q3,0 19,9M670,51 q19,-12 21,-12 q2,0 21,12M720,50 q8,-4 11,-4 q3,0 11,4M644,74 q10,-4 14,-4 q4,0 14,4M678,74 q18,-14 20,-14 q2,0 20,14M595,55 q12,-6 15,-6 q3,0 15,6M547,80 q19,-13 21,-13 q2,0 21,13M587,76 q21,-15 23,-15 q2,0 23,15M565,48 q11,-5 14,-5 q3,0 14,5M657,81 q9,-4 13,-4 q4,0 13,4M714,46 q6,-3 9,-3 q3,0 9,3M720,76 q12,-6 15,-6 q3,0 15,6M586,58 q19,-13 21,-13 q2,0 21,13M632,62 q23,-17 25,-17 q2,0 25,17M730,56 q18,-11 21,-11 q3,0 21,11M623,68 q7,-4 10,-4 q3,0 10,4M729,45 q7,-3 11,-3 q4,0 11,3M640,74 q12,-7 15,-7 q3,0 15,7M553,78 q9,-6 11,-6 q2,0 11,6M625,52 q22,-14 24,-14 q2,0 24,14M555,65 q17,-11 19,-11 q2,0 19,11M789,78 q5,-2 8,-2 q3,0 8,2M741,86 q15,-8 18,-8 q3,0 18,8M736,59 q8,-4 11,-4 q3,0 11,4M643,87 q18,-13 20,-13 q2,0 20,13M741,78 q15,-7 18,-7 q3,0 18,7M635,42 q9,-6 11,-6 q2,0 11,6M725,59 q16,-7 20,-7 q4,0 20,7M649,72 q6,-4 8,-4 q2,0 8,4M746,61 q10,-7 12,-7 q2,0 12,7M718,44 q11,-6 14,-6 q3,0 14,6M660,57 q18,-14 20,-14 q2,0 20,14M620,76 q8,-5 10,-5 q2,0 10,5M534,59 q21,-14 23,-14 q2,0 23,14M697,49 q18,-8 21,-8 q3,0 21,8M783,65 q8,-5 10,-5 q2,0 10,5M681,55 q19,-10 22,-10 q3,0 22,10M575,74 q20,-9 23,-9 q3,0 23,9M561,50 q9,-6 11,-6 q2,0 11,6M716,56 q13,-6 17,-6 q4,0 17,6M719,63 q11,-7 14,-7 q3,0 14,7M578,77 q8,-5 10,-5 q2,0 10,5M656,51 q21,-15 23,-15 q2,0 23,15M740,53 q21,-9 25,-9 q4,0 25,9M585,70 q23,-14 25,-14 q2,0 25,14M667,43 q17,-7 21,-7 q4,0 21,7M663,55 q20,-15 22,-15 q2,0 22,15M549,85 q17,-10 20,-10 q3,0 20,10M728,72 q18,-12 20,-12 q2,0 20,12M658,60 q15,-6 18,-6 q3,0 18,6M737,51 q9,-7 11,-7 q2,0 11,7M683,60 q17,-9 20,-9 q3,0 20,9M540,72 q13,-6 17,-6 q4,0 17,6M579,81 q21,-12 24,-12 q3,0 24,12M612,51 q12,-8 14,-8 q2,0 14,8M536,71 q22,-12 25,-12 q3,0 25,12M549,81 q6,-3 9,-3 q3,0 9,3M672,56 q13,-10 15,-10 q2,0 15,10M549,66 q11,-5 14,-5 q3,0 14,5M719,66 q8,-5 10,-5 q2,0 10,5M698,64 q19,-8 23,-8 q4,0 23,8M566,48 q23,-11 26,-11 q3,0 26,11M753,69 q10,-4 13,-4 q3,0 13,4M579,78 q14,-8 17,-8 q3,0 17,8M679,83 q10,-5 13,-5 q3,0 13,5M654,81 q9,-6 11,-6 q2,0 11,6M666,52 q12,-7 14,-7 q2,0 14,7M635,42 q9,-6 11,-6 q2,0 11,6M611,70 q8,-3 11,-3 q3,0 11,3M615,73 q12,-6 15,-6 q3,0 15,6M771,55 q18,-10 21,-10 q3,0 21,10M683,70 q9,-5 12,-5 q3,0 12,5M639,69 q4,-2 8,-2 q4,0 8,2M700,58 q19,-11 21,-11 q2,0 21,11M754,76 q16,-8 19,-8 q3,0 19,8M614,65 q20,-11 23,-11 q3,0 23,11M610,46 q6,-4 8,-4 q2,0 8,4M710,75 q20,-10 23,-10 q3,0 23,10M616,53 q15,-10 17,-10 q2,0 17,10M548,69 q23,-10 26,-10 q3,0 26,10M657,54 q5,-2 8,-2 q3,0 8,2M545,82 q17,-11 19,-11 q2,0 19,11M642,65 q6,-3 10,-3 q4,0 10,3M754,76 q12,-9 14,-9 q2,0 14,9M691,81 q11,-5 14,-5 q3,0 14,5M769,52 q6,-4 8,-4 q2,0 8,4M750,61 q8,-5 11,-5 q3,0 11,5M648,81 q13,-9 15,-9 q2,0 15,9M786,66 q9,-5 12,-5 q3,0 12,5M600,78 q10,-5 13,-5 q3,0 13,5M646,49 q13,-7 16,-7 q3,0 16,7M604,63 q6,-4 8,-4 q2,0 8,4M547,60 q15,-9 18,-9 q3,0 18,9M605,71 q10,-8 12,-8 q2,0 12,8M555,63 q17,-11 19,-11 q2,0 19,11M602,80 q16,-9 19,-9 q3,0 19,9M657,89 q19,-12 22,-12 q3,0 22,12M631,89 q15,-12 17,-12 q2,0 17,12M557,76 q14,-9 16,-9 q2,0 16,9M778,70 q8,-3 11,-3 q3,0 11,3M604,41 q8,-3 12,-3 q4,0 12,3M563,49 q16,-10 18,-10 q2,0 18,10M752,86 q15,-12 17,-12 q2,0 17,12M712,94 q21,-16 23,-16 q2,0 23,16M755,75 q12,-6 15,-6 q3,0 15,6M616,83 q18,-8 22,-8 q4,0 22,8M760,73 q18,-9 21,-9 q3,0 21,9M676,64 q23,-16 25,-16 q2,0 25,16M542,85 q21,-10 24,-10 q3,0 24,10M630,64 q5,-2 8,-2 q3,0 8,2M648,84 q12,-7 14,-7 q2,0 14,7M748,80 q6,-3 9,-3 q3,0 9,3M771,63 q17,-11 19,-11 q2,0 19,11M677,78 q12,-7 14,-7 q2,0 14,7M766,92 q18,-14 20,-14 q2,0 20,14M638,84 q14,-8 17,-8 q3,0 17,8M573,46 q7,-4 10,-4 q3,0 10,4M790,65 q10,-6 12,-6 q2,0 12,6M773,83 q14,-9 16,-9 q2,0 16,9M771,79 q7,-4 10,-4 q3,0 10,4M760,60 q15,-6 18,-6 q3,0 18,6M638,81 q22,-12 25,-12 q3,0 25,12M672,51 q11,-7 13,-7 q2,0 13,7M603,65 q6,-3 9,-3 q3,0 9,3M663,77 q13,-10 15,-10 q2,0 15,10M754,52 q9,-6 11,-6 q2,0 11,6M646,71 q9,-4 12,-4 q3,0 12,4M626,67 q6,-4 8,-4 q2,0 8,4M600,43 q6,-5 8,-5 q2,0 8,5M670,78 q7,-5 9,-5 q2,0 9,5M710,66 q22,-13 25,-13 q3,0 25,13M711,70 q16,-11 18,-11 q2,0 18,11M752,86 q19,-9 22,-9 q3,0 22,9M694,60 q5,-2 8,-2 q3,0 8,2M590,78 q21,-11 24,-11 q3,0 24,11M744,82 q21,-11 24,-11 q3,0 24,11M620,62 q12,-9 14,-9 q2,0 14,9M699,85 q23,-12 26,-12 q3,0 26,12M642,68 q18,-8 21,-8 q3,0 21,8M613,65 q14,-10 16,-10 q2,0 16,10M695,51 q18,-8 21,-8 q3,0 21,8M706,53 q18,-8 22,-8 q4,0 22,8M756,46 q19,-10 22,-10 q3,0 22,10M560,55 q19,-12 21,-12 q2,0 21,12M719,87 q19,-15 21,-15 q2,0 21,15M676,64 q23,-15 25,-15 q2,0 25,15M636,50 q16,-8 19,-8 q3,0 19,8M691,81 q22,-12 25,-12 q3,0 25,12M697,53 q16,-13 18,-13 q2,0 18,13M772,48 q16,-7 20,-7 q4,0 20,7M761,67 q18,-8 21,-8 q3,0 21,8M571,75 q6,-4 8,-4 q2,0 8,4M785,78 q12,-5 16,-5 q4,0 16,5M579,74 q9,-7 11,-7 q2,0 11,7M743,78 q4,-2 8,-2 q4,0 8,2M573,69 q21,-10 24,-10 q3,0 24,10M660,68 q11,-7 13,-7 q2,0 13,7M673,83 q14,-6 17,-6 q3,0 17,6M763,58 q22,-9 26,-9 q4,0 26,9M769,55 q19,-13 21,-13 q2,0 21,13M584,66 q13,-8 15,-8 q2,0 15,8M751,72 q14,-10 16,-10 q2,0 16,10M549,63 q22,-14 24,-14 q2,0 24,14M724,60 q23,-11 26,-11 q3,0 26,11M775,65 q12,-9 14,-9 q2,0 14,9M764,61 q5,-2 8,-2 q3,0 8,2M595,54 q15,-6 18,-6 q3,0 18,6M747,59 q9,-6 11,-6 q2,0 11,6M655,75 q8,-5 10,-5 q2,0 10,5M628,66 q14,-11 16,-11 q2,0 16,11M558,49 q23,-11 26,-11 q3,0 26,11M695,51 q6,-3 9,-3 q3,0 9,3M639,85 q17,-13 19,-13 q2,0 19,13M725,70 q22,-17 24,-17 q2,0 24,17M615,79 q15,-9 18,-9 q3,0 18,9M608,88 q20,-12 23,-12 q3,0 23,12M687,67 q24,-15 26,-15 q2,0 26,15M543,60 q9,-5 12,-5 q3,0 12,5M666,72 q22,-16 24,-16 q2,0 24,16M715,78 q18,-12 20,-12 q2,0 20,12M663,49 q19,-10 22,-10 q3,0 22,10" stroke="#000" stroke-opacity="0.36" transform="translate(0 2.6)"/>
<path d="M733,74 q19,-8 22,-8 q3,0 22,8M782,76 q10,-5 13,-5 q3,0 13,5M778,87 q17,-9 20,-9 q3,0 20,9M633,76 q9,-5 12,-5 q3,0 12,5M723,52 q6,-5 8,-5 q2,0 8,5M774,64 q16,-9 18,-9 q2,0 18,9M630,78 q14,-11 16,-11 q2,0 16,11M570,64 q23,-18 25,-18 q2,0 25,18M731,68 q18,-10 21,-10 q3,0 21,10M675,54 q23,-16 25,-16 q2,0 25,16M539,83 q20,-13 22,-13 q2,0 22,13M765,65 q10,-6 13,-6 q3,0 13,6M627,77 q18,-11 20,-11 q2,0 20,11M768,40 q8,-4 11,-4 q3,0 11,4M753,79 q14,-10 16,-10 q2,0 16,10M545,71 q16,-7 20,-7 q4,0 20,7M719,50 q16,-9 19,-9 q3,0 19,9M670,51 q19,-12 21,-12 q2,0 21,12M720,50 q8,-4 11,-4 q3,0 11,4M644,74 q10,-4 14,-4 q4,0 14,4M678,74 q18,-14 20,-14 q2,0 20,14M595,55 q12,-6 15,-6 q3,0 15,6M547,80 q19,-13 21,-13 q2,0 21,13M587,76 q21,-15 23,-15 q2,0 23,15M565,48 q11,-5 14,-5 q3,0 14,5M657,81 q9,-4 13,-4 q4,0 13,4M714,46 q6,-3 9,-3 q3,0 9,3M720,76 q12,-6 15,-6 q3,0 15,6M586,58 q19,-13 21,-13 q2,0 21,13M632,62 q23,-17 25,-17 q2,0 25,17M730,56 q18,-11 21,-11 q3,0 21,11M623,68 q7,-4 10,-4 q3,0 10,4M729,45 q7,-3 11,-3 q4,0 11,3M640,74 q12,-7 15,-7 q3,0 15,7M553,78 q9,-6 11,-6 q2,0 11,6M625,52 q22,-14 24,-14 q2,0 24,14M555,65 q17,-11 19,-11 q2,0 19,11M789,78 q5,-2 8,-2 q3,0 8,2M741,86 q15,-8 18,-8 q3,0 18,8M736,59 q8,-4 11,-4 q3,0 11,4M643,87 q18,-13 20,-13 q2,0 20,13M741,78 q15,-7 18,-7 q3,0 18,7M635,42 q9,-6 11,-6 q2,0 11,6M725,59 q16,-7 20,-7 q4,0 20,7M649,72 q6,-4 8,-4 q2,0 8,4M746,61 q10,-7 12,-7 q2,0 12,7M718,44 q11,-6 14,-6 q3,0 14,6M660,57 q18,-14 20,-14 q2,0 20,14M620,76 q8,-5 10,-5 q2,0 10,5M534,59 q21,-14 23,-14 q2,0 23,14M697,49 q18,-8 21,-8 q3,0 21,8M783,65 q8,-5 10,-5 q2,0 10,5M681,55 q19,-10 22,-10 q3,0 22,10M575,74 q20,-9 23,-9 q3,0 23,9M561,50 q9,-6 11,-6 q2,0 11,6M716,56 q13,-6 17,-6 q4,0 17,6M719,63 q11,-7 14,-7 q3,0 14,7M578,77 q8,-5 10,-5 q2,0 10,5M656,51 q21,-15 23,-15 q2,0 23,15M740,53 q21,-9 25,-9 q4,0 25,9M585,70 q23,-14 25,-14 q2,0 25,14M667,43 q17,-7 21,-7 q4,0 21,7M663,55 q20,-15 22,-15 q2,0 22,15M549,85 q17,-10 20,-10 q3,0 20,10M728,72 q18,-12 20,-12 q2,0 20,12M658,60 q15,-6 18,-6 q3,0 18,6M737,51 q9,-7 11,-7 q2,0 11,7M683,60 q17,-9 20,-9 q3,0 20,9M540,72 q13,-6 17,-6 q4,0 17,6M579,81 q21,-12 24,-12 q3,0 24,12M612,51 q12,-8 14,-8 q2,0 14,8M536,71 q22,-12 25,-12 q3,0 25,12M549,81 q6,-3 9,-3 q3,0 9,3M672,56 q13,-10 15,-10 q2,0 15,10M549,66 q11,-5 14,-5 q3,0 14,5M719,66 q8,-5 10,-5 q2,0 10,5M698,64 q19,-8 23,-8 q4,0 23,8M566,48 q23,-11 26,-11 q3,0 26,11M753,69 q10,-4 13,-4 q3,0 13,4M579,78 q14,-8 17,-8 q3,0 17,8M679,83 q10,-5 13,-5 q3,0 13,5M654,81 q9,-6 11,-6 q2,0 11,6M666,52 q12,-7 14,-7 q2,0 14,7M635,42 q9,-6 11,-6 q2,0 11,6M611,70 q8,-3 11,-3 q3,0 11,3M615,73 q12,-6 15,-6 q3,0 15,6M771,55 q18,-10 21,-10 q3,0 21,10M683,70 q9,-5 12,-5 q3,0 12,5M639,69 q4,-2 8,-2 q4,0 8,2M700,58 q19,-11 21,-11 q2,0 21,11M754,76 q16,-8 19,-8 q3,0 19,8M614,65 q20,-11 23,-11 q3,0 23,11M610,46 q6,-4 8,-4 q2,0 8,4M710,75 q20,-10 23,-10 q3,0 23,10M616,53 q15,-10 17,-10 q2,0 17,10M548,69 q23,-10 26,-10 q3,0 26,10M657,54 q5,-2 8,-2 q3,0 8,2M545,82 q17,-11 19,-11 q2,0 19,11M642,65 q6,-3 10,-3 q4,0 10,3M754,76 q12,-9 14,-9 q2,0 14,9M691,81 q11,-5 14,-5 q3,0 14,5M769,52 q6,-4 8,-4 q2,0 8,4M750,61 q8,-5 11,-5 q3,0 11,5M648,81 q13,-9 15,-9 q2,0 15,9M786,66 q9,-5 12,-5 q3,0 12,5M600,78 q10,-5 13,-5 q3,0 13,5M646,49 q13,-7 16,-7 q3,0 16,7M604,63 q6,-4 8,-4 q2,0 8,4M547,60 q15,-9 18,-9 q3,0 18,9M605,71 q10,-8 12,-8 q2,0 12,8M555,63 q17,-11 19,-11 q2,0 19,11M602,80 q16,-9 19,-9 q3,0 19,9M657,89 q19,-12 22,-12 q3,0 22,12M631,89 q15,-12 17,-12 q2,0 17,12M557,76 q14,-9 16,-9 q2,0 16,9M778,70 q8,-3 11,-3 q3,0 11,3M604,41 q8,-3 12,-3 q4,0 12,3M563,49 q16,-10 18,-10 q2,0 18,10M752,86 q15,-12 17,-12 q2,0 17,12M712,94 q21,-16 23,-16 q2,0 23,16M755,75 q12,-6 15,-6 q3,0 15,6M616,83 q18,-8 22,-8 q4,0 22,8M760,73 q18,-9 21,-9 q3,0 21,9M676,64 q23,-16 25,-16 q2,0 25,16M542,85 q21,-10 24,-10 q3,0 24,10M630,64 q5,-2 8,-2 q3,0 8,2M648,84 q12,-7 14,-7 q2,0 14,7M748,80 q6,-3 9,-3 q3,0 9,3M771,63 q17,-11 19,-11 q2,0 19,11M677,78 q12,-7 14,-7 q2,0 14,7M766,92 q18,-14 20,-14 q2,0 20,14M638,84 q14,-8 17,-8 q3,0 17,8M573,46 q7,-4 10,-4 q3,0 10,4M790,65 q10,-6 12,-6 q2,0 12,6M773,83 q14,-9 16,-9 q2,0 16,9M771,79 q7,-4 10,-4 q3,0 10,4M760,60 q15,-6 18,-6 q3,0 18,6M638,81 q22,-12 25,-12 q3,0 25,12M672,51 q11,-7 13,-7 q2,0 13,7M603,65 q6,-3 9,-3 q3,0 9,3M663,77 q13,-10 15,-10 q2,0 15,10M754,52 q9,-6 11,-6 q2,0 11,6M646,71 q9,-4 12,-4 q3,0 12,4M626,67 q6,-4 8,-4 q2,0 8,4M600,43 q6,-5 8,-5 q2,0 8,5M670,78 q7,-5 9,-5 q2,0 9,5M710,66 q22,-13 25,-13 q3,0 25,13M711,70 q16,-11 18,-11 q2,0 18,11M752,86 q19,-9 22,-9 q3,0 22,9M694,60 q5,-2 8,-2 q3,0 8,2M590,78 q21,-11 24,-11 q3,0 24,11M744,82 q21,-11 24,-11 q3,0 24,11M620,62 q12,-9 14,-9 q2,0 14,9M699,85 q23,-12 26,-12 q3,0 26,12M642,68 q18,-8 21,-8 q3,0 21,8M613,65 q14,-10 16,-10 q2,0 16,10M695,51 q18,-8 21,-8 q3,0 21,8M706,53 q18,-8 22,-8 q4,0 22,8M756,46 q19,-10 22,-10 q3,0 22,10M560,55 q19,-12 21,-12 q2,0 21,12M719,87 q19,-15 21,-15 q2,0 21,15M676,64 q23,-15 25,-15 q2,0 25,15M636,50 q16,-8 19,-8 q3,0 19,8M691,81 q22,-12 25,-12 q3,0 25,12M697,53 q16,-13 18,-13 q2,0 18,13M772,48 q16,-7 20,-7 q4,0 20,7M761,67 q18,-8 21,-8 q3,0 21,8M571,75 q6,-4 8,-4 q2,0 8,4M785,78 q12,-5 16,-5 q4,0 16,5M579,74 q9,-7 11,-7 q2,0 11,7M743,78 q4,-2 8,-2 q4,0 8,2M573,69 q21,-10 24,-10 q3,0 24,10M660,68 q11,-7 13,-7 q2,0 13,7M673,83 q14,-6 17,-6 q3,0 17,6M763,58 q22,-9 26,-9 q4,0 26,9M769,55 q19,-13 21,-13 q2,0 21,13M584,66 q13,-8 15,-8 q2,0 15,8M751,72 q14,-10 16,-10 q2,0 16,10M549,63 q22,-14 24,-14 q2,0 24,14M724,60 q23,-11 26,-11 q3,0 26,11M775,65 q12,-9 14,-9 q2,0 14,9M764,61 q5,-2 8,-2 q3,0 8,2M595,54 q15,-6 18,-6 q3,0 18,6M747,59 q9,-6 11,-6 q2,0 11,6M655,75 q8,-5 10,-5 q2,0 10,5M628,66 q14,-11 16,-11 q2,0 16,11M558,49 q23,-11 26,-11 q3,0 26,11M695,51 q6,-3 9,-3 q3,0 9,3M639,85 q17,-13 19,-13 q2,0 19,13M725,70 q22,-17 24,-17 q2,0 24,17M615,79 q15,-9 18,-9 q3,0 18,9M608,88 q20,-12 23,-12 q3,0 23,12M687,67 q24,-15 26,-15 q2,0 26,15M543,60 q9,-5 12,-5 q3,0 12,5M666,72 q22,-16 24,-16 q2,0 24,16M715,78 q18,-12 20,-12 q2,0 20,12M663,49 q19,-10 22,-10 q3,0 22,10" stroke="#fff" stroke-opacity="0.18" transform="translate(0 5.2)"/>
<path d="M566,95 q11,-6 14,-6 q3,0 14,6M708,116 q14,-8 17,-8 q3,0 17,8M673,110 q15,-8 18,-8 q3,0 18,8M753,124 q17,-11 19,-11 q2,0 19,11M710,109 q16,-10 18,-10 q2,0 18,10M619,105 q15,-11 17,-11 q2,0 17,11M581,123 q20,-10 23,-10 q3,0 23,10M632,121 q14,-10 16,-10 q2,0 16,10M757,131 q19,-15 21,-15 q2,0 21,15M622,92 q5,-3 8,-3 q3,0 8,3M665,109 q21,-15 23,-15 q2,0 23,15M604,100 q10,-7 12,-7 q2,0 12,7M568,106 q16,-10 18,-10 q2,0 18,10M660,108 q10,-6 13,-6 q3,0 13,6M572,120 q7,-4 10,-4 q3,0 10,4M658,124 q17,-13 19,-13 q2,0 19,13M563,114 q24,-15 26,-15 q2,0 26,15M605,102 q11,-8 13,-8 q2,0 13,8M734,108 q7,-5 9,-5 q2,0 9,5M707,107 q13,-9 15,-9 q2,0 15,9M587,82 q6,-4 8,-4 q2,0 8,4M591,118 q8,-5 10,-5 q2,0 10,5M559,91 q6,-4 9,-4 q3,0 9,4M644,124 q19,-12 21,-12 q2,0 21,12M586,110 q17,-13 19,-13 q2,0 19,13M710,104 q18,-11 20,-11 q2,0 20,11M623,106 q9,-5 12,-5 q3,0 12,5M714,101 q8,-5 10,-5 q2,0 10,5M571,123 q14,-11 16,-11 q2,0 16,11M687,93 q18,-8 21,-8 q3,0 21,8M592,119 q11,-7 13,-7 q2,0 13,7M645,93 q18,-8 21,-8 q3,0 21,8M737,123 q13,-9 15,-9 q2,0 15,9M541,113 q18,-11 20,-11 q2,0 20,11M773,99 q12,-5 15,-5 q3,0 15,5M564,108 q14,-10 16,-10 q2,0 16,10M737,88 q8,-5 10,-5 q2,0 10,5M652,112 q11,-7 13,-7 q2,0 13,7M696,119 q5,-3 8,-3 q3,0 8,3M661,121 q12,-9 14,-9 q2,0 14,9M627,111 q21,-14 23,-14 q2,0 23,14M562,99 q9,-5 11,-5 q2,0 11,5M544,132 q21,-12 24,-12 q3,0 24,12M656,112 q19,-8 22,-8 q3,0 22,8M543,125 q12,-7 15,-7 q3,0 15,7M548,88 q17,-7 20,-7 q3,0 20,7M566,118 q19,-8 23,-8 q4,0 23,8M565,114 q9,-5 12,-5 q3,0 12,5M733,95 q6,-4 8,-4 q2,0 8,4M705,107 q18,-13 20,-13 q2,0 20,13M611,104 q6,-5 8,-5 q2,0 8,5M578,89 q13,-7 16,-7 q3,0 16,7M568,105 q21,-12 23,-12 q2,0 23,12M778,90 q13,-8 15,-8 q2,0 15,8M563,103 q17,-13 19,-13 q2,0 19,13M747,107 q23,-11 26,-11 q3,0 26,11M715,105 q19,-14 21,-14 q2,0 21,14M759,112 q15,-10 17,-10 q2,0 17,10M718,102 q20,-11 23,-11 q3,0 23,11M659,108 q14,-9 16,-9 q2,0 16,9M720,121 q23,-14 26,-14 q3,0 26,14M608,113 q14,-6 17,-6 q3,0 17,6M770,115 q19,-12 21,-12 q2,0 21,12M749,98 q18,-12 20,-12 q2,0 20,12M770,87 q13,-8 15,-8 q2,0 15,8M704,91 q22,-12 25,-12 q3,0 25,12M569,84 q4,-2 8,-2 q4,0 8,2M772,110 q22,-15 24,-15 q2,0 24,15M754,110 q7,-4 10,-4 q3,0 10,4M707,99 q15,-11 17,-11 q2,0 17,11M558,117 q18,-8 21,-8 q3,0 21,8M629,85 q8,-5 11,-5 q3,0 11,5M756,116 q20,-15 22,-15 q2,0 22,15M657,119 q21,-9 24,-9 q3,0 24,9M561,108 q6,-3 9,-3 q3,0 9,3M618,112 q16,-10 19,-10 q3,0 19,10M730,109 q17,-8 20,-8 q3,0 20,8M663,90 q7,-5 9,-5 q2,0 9,5M772,114 q13,-10 15,-10 q2,0 15,10M617,127 q15,-8 18,-8 q3,0 18,8M649,106 q13,-5 16,-5 q3,0 16,5M743,102 q16,-8 19,-8 q3,0 19,8M568,98 q13,-10 15,-10 q2,0 15,10M741,122 q12,-5 16,-5 q4,0 16,5M724,105 q22,-15 24,-15 q2,0 24,15M753,117 q23,-12 26,-12 q3,0 26,12M765,95 q18,-9 21,-9 q3,0 21,9M599,107 q13,-10 15,-10 q2,0 15,10M626,95 q14,-6 17,-6 q3,0 17,6M670,103 q23,-14 25,-14 q2,0 25,14M729,96 q18,-8 21,-8 q3,0 21,8M590,113 q20,-10 23,-10 q3,0 23,10M703,125 q15,-10 17,-10 q2,0 17,10M545,122 q17,-12 19,-12 q2,0 19,12M747,127 q18,-10 21,-10 q3,0 21,10M592,88 q9,-5 11,-5 q2,0 11,5M634,109 q12,-7 15,-7 q3,0 15,7M641,104 q14,-9 17,-9 q3,0 17,9M611,110 q16,-9 18,-9 q2,0 18,9M787,111 q12,-8 14,-8 q2,0 14,8M679,116 q23,-12 26,-12 q3,0 26,12M726,117 q10,-6 12,-6 q2,0 12,6M695,89 q6,-3 9,-3 q3,0 9,3M670,88 q13,-8 15,-8 q2,0 15,8M648,96 q6,-3 9,-3 q3,0 9,3M615,119 q18,-8 21,-8 q3,0 21,8M762,110 q10,-6 12,-6 q2,0 12,6M578,83 q10,-4 14,-4 q4,0 14,4M539,124 q13,-8 16,-8 q3,0 16,8M596,127 q23,-14 26,-14 q3,0 26,14M578,124 q13,-6 16,-6 q3,0 16,6M726,108 q20,-16 22,-16 q2,0 22,16M765,99 q21,-15 23,-15 q2,0 23,15M731,122 q12,-8 14,-8 q2,0 14,8M717,101 q18,-8 21,-8 q3,0 21,8M784,122 q13,-8 15,-8 q2,0 15,8M554,120 q18,-13 20,-13 q2,0 20,13M768,102 q6,-3 8,-3 q2,0 8,3M558,111 q10,-5 13,-5 q3,0 13,5M656,130 q19,-10 22,-10 q3,0 22,10M741,104 q22,-10 26,-10 q4,0 26,10M689,125 q19,-8 22,-8 q3,0 22,8M742,125 q10,-6 13,-6 q3,0 13,6M746,84 q6,-4 8,-4 q2,0 8,4M731,115 q10,-6 12,-6 q2,0 12,6M588,116 q19,-11 21,-11 q2,0 21,11M660,94 q8,-6 10,-6 q2,0 10,6M712,120 q13,-8 16,-8 q3,0 16,8M546,108 q18,-13 20,-13 q2,0 20,13M735,87 q8,-6 10,-6 q2,0 10,6M659,118 q24,-15 26,-15 q2,0 26,15M616,125 q7,-4 9,-4 q2,0 9,4M561,108 q23,-11 26,-11 q3,0 26,11M667,116 q21,-9 24,-9 q3,0 24,9M731,113 q23,-16 25,-16 q2,0 25,16M746,108 q20,-13 22,-13 q2,0 22,13M663,85 q9,-7 11,-7 q2,0 11,7M745,97 q7,-5 9,-5 q2,0 9,5M784,111 q19,-13 21,-13 q2,0 21,13M725,101 q6,-4 8,-4 q2,0 8,4M732,129 q16,-11 18,-11 q2,0 18,11M585,116 q12,-7 15,-7 q3,0 15,7M742,98 q18,-7 22,-7 q4,0 22,7M604,129 q22,-14 24,-14 q2,0 24,14M581,121 q15,-10 17,-10 q2,0 17,10M737,123 q20,-15 22,-15 q2,0 22,15M592,92 q7,-4 10,-4 q3,0 10,4M761,96 q8,-5 10,-5 q2,0 10,5M701,104 q6,-3 9,-3 q3,0 9,3M778,120 q17,-7 21,-7 q4,0 21,7M619,127 q13,-6 16,-6 q3,0 16,6M749,103 q15,-7 18,-7 q3,0 18,7M585,100 q17,-10 20,-10 q3,0 20,10M788,123 q11,-6 14,-6 q3,0 14,6M774,117 q8,-3 12,-3 q4,0 12,3M713,95 q9,-4 12,-4 q3,0 12,4M774,129 q22,-15 24,-15 q2,0 24,15M593,99 q11,-8 13,-8 q2,0 13,8M591,89 q23,-10 26,-10 q3,0 26,10M744,98 q14,-7 17,-7 q3,0 17,7M680,114 q12,-5 16,-5 q4,0 16,5M569,103 q20,-16 22,-16 q2,0 22,16M705,94 q15,-9 18,-9 q3,0 18,9M628,104 q11,-7 13,-7 q2,0 13,7M744,104 q11,-8 13,-8 q2,0 13,8M747,122 q20,-14 22,-14 q2,0 22,14M695,110 q6,-3 9,-3 q3,0 9,3M732,88 q6,-3 10,-3 q4,0 10,3M574,122 q5,-3 8,-3 q3,0 8,3M675,124 q20,-8 23,-8 q3,0 23,8M683,133 q22,-15 24,-15 q2,0 24,15M619,106 q10,-8 12,-8 q2,0 12,8M700,120 q8,-4 11,-4 q3,0 11,4M641,119 q21,-17 23,-17 q2,0 23,17M657,109 q19,-15 21,-15 q2,0 21,15M717,105 q23,-16 25,-16 q2,0 25,16M697,100 q12,-9 14,-9 q2,0 14,9M582,124 q23,-12 26,-12 q3,0 26,12M658,93 q22,-10 25,-10 q3,0 25,10M770,113 q14,-9 16,-9 q2,0 16,9M712,117 q22,-11 25,-11 q3,0 25,11M543,128 q16,-9 19,-9 q3,0 19,9M658,112 q6,-4 8,-4 q2,0 8,4M704,94 q22,-14 24,-14 q2,0 24,14M596,116 q11,-7 13,-7 q2,0 13,7M761,91 q15,-8 18,-8 q3,0 18,8" stroke="#fff" stroke-opacity="0.27"/>
<path d="M566,95 q11,-6 14,-6 q3,0 14,6M708,116 q14,-8 17,-8 q3,0 17,8M673,110 q15,-8 18,-8 q3,0 18,8M753,124 q17,-11 19,-11 q2,0 19,11M710,109 q16,-10 18,-10 q2,0 18,10M619,105 q15,-11 17,-11 q2,0 17,11M581,123 q20,-10 23,-10 q3,0 23,10M632,121 q14,-10 16,-10 q2,0 16,10M757,131 q19,-15 21,-15 q2,0 21,15M622,92 q5,-3 8,-3 q3,0 8,3M665,109 q21,-15 23,-15 q2,0 23,15M604,100 q10,-7 12,-7 q2,0 12,7M568,106 q16,-10 18,-10 q2,0 18,10M660,108 q10,-6 13,-6 q3,0 13,6M572,120 q7,-4 10,-4 q3,0 10,4M658,124 q17,-13 19,-13 q2,0 19,13M563,114 q24,-15 26,-15 q2,0 26,15M605,102 q11,-8 13,-8 q2,0 13,8M734,108 q7,-5 9,-5 q2,0 9,5M707,107 q13,-9 15,-9 q2,0 15,9M587,82 q6,-4 8,-4 q2,0 8,4M591,118 q8,-5 10,-5 q2,0 10,5M559,91 q6,-4 9,-4 q3,0 9,4M644,124 q19,-12 21,-12 q2,0 21,12M586,110 q17,-13 19,-13 q2,0 19,13M710,104 q18,-11 20,-11 q2,0 20,11M623,106 q9,-5 12,-5 q3,0 12,5M714,101 q8,-5 10,-5 q2,0 10,5M571,123 q14,-11 16,-11 q2,0 16,11M687,93 q18,-8 21,-8 q3,0 21,8M592,119 q11,-7 13,-7 q2,0 13,7M645,93 q18,-8 21,-8 q3,0 21,8M737,123 q13,-9 15,-9 q2,0 15,9M541,113 q18,-11 20,-11 q2,0 20,11M773,99 q12,-5 15,-5 q3,0 15,5M564,108 q14,-10 16,-10 q2,0 16,10M737,88 q8,-5 10,-5 q2,0 10,5M652,112 q11,-7 13,-7 q2,0 13,7M696,119 q5,-3 8,-3 q3,0 8,3M661,121 q12,-9 14,-9 q2,0 14,9M627,111 q21,-14 23,-14 q2,0 23,14M562,99 q9,-5 11,-5 q2,0 11,5M544,132 q21,-12 24,-12 q3,0 24,12M656,112 q19,-8 22,-8 q3,0 22,8M543,125 q12,-7 15,-7 q3,0 15,7M548,88 q17,-7 20,-7 q3,0 20,7M566,118 q19,-8 23,-8 q4,0 23,8M565,114 q9,-5 12,-5 q3,0 12,5M733,95 q6,-4 8,-4 q2,0 8,4M705,107 q18,-13 20,-13 q2,0 20,13M611,104 q6,-5 8,-5 q2,0 8,5M578,89 q13,-7 16,-7 q3,0 16,7M568,105 q21,-12 23,-12 q2,0 23,12M778,90 q13,-8 15,-8 q2,0 15,8M563,103 q17,-13 19,-13 q2,0 19,13M747,107 q23,-11 26,-11 q3,0 26,11M715,105 q19,-14 21,-14 q2,0 21,14M759,112 q15,-10 17,-10 q2,0 17,10M718,102 q20,-11 23,-11 q3,0 23,11M659,108 q14,-9 16,-9 q2,0 16,9M720,121 q23,-14 26,-14 q3,0 26,14M608,113 q14,-6 17,-6 q3,0 17,6M770,115 q19,-12 21,-12 q2,0 21,12M749,98 q18,-12 20,-12 q2,0 20,12M770,87 q13,-8 15,-8 q2,0 15,8M704,91 q22,-12 25,-12 q3,0 25,12M569,84 q4,-2 8,-2 q4,0 8,2M772,110 q22,-15 24,-15 q2,0 24,15M754,110 q7,-4 10,-4 q3,0 10,4M707,99 q15,-11 17,-11 q2,0 17,11M558,117 q18,-8 21,-8 q3,0 21,8M629,85 q8,-5 11,-5 q3,0 11,5M756,116 q20,-15 22,-15 q2,0 22,15M657,119 q21,-9 24,-9 q3,0 24,9M561,108 q6,-3 9,-3 q3,0 9,3M618,112 q16,-10 19,-10 q3,0 19,10M730,109 q17,-8 20,-8 q3,0 20,8M663,90 q7,-5 9,-5 q2,0 9,5M772,114 q13,-10 15,-10 q2,0 15,10M617,127 q15,-8 18,-8 q3,0 18,8M649,106 q13,-5 16,-5 q3,0 16,5M743,102 q16,-8 19,-8 q3,0 19,8M568,98 q13,-10 15,-10 q2,0 15,10M741,122 q12,-5 16,-5 q4,0 16,5M724,105 q22,-15 24,-15 q2,0 24,15M753,117 q23,-12 26,-12 q3,0 26,12M765,95 q18,-9 21,-9 q3,0 21,9M599,107 q13,-10 15,-10 q2,0 15,10M626,95 q14,-6 17,-6 q3,0 17,6M670,103 q23,-14 25,-14 q2,0 25,14M729,96 q18,-8 21,-8 q3,0 21,8M590,113 q20,-10 23,-10 q3,0 23,10M703,125 q15,-10 17,-10 q2,0 17,10M545,122 q17,-12 19,-12 q2,0 19,12M747,127 q18,-10 21,-10 q3,0 21,10M592,88 q9,-5 11,-5 q2,0 11,5M634,109 q12,-7 15,-7 q3,0 15,7M641,104 q14,-9 17,-9 q3,0 17,9M611,110 q16,-9 18,-9 q2,0 18,9M787,111 q12,-8 14,-8 q2,0 14,8M679,116 q23,-12 26,-12 q3,0 26,12M726,117 q10,-6 12,-6 q2,0 12,6M695,89 q6,-3 9,-3 q3,0 9,3M670,88 q13,-8 15,-8 q2,0 15,8M648,96 q6,-3 9,-3 q3,0 9,3M615,119 q18,-8 21,-8 q3,0 21,8M762,110 q10,-6 12,-6 q2,0 12,6M578,83 q10,-4 14,-4 q4,0 14,4M539,124 q13,-8 16,-8 q3,0 16,8M596,127 q23,-14 26,-14 q3,0 26,14M578,124 q13,-6 16,-6 q3,0 16,6M726,108 q20,-16 22,-16 q2,0 22,16M765,99 q21,-15 23,-15 q2,0 23,15M731,122 q12,-8 14,-8 q2,0 14,8M717,101 q18,-8 21,-8 q3,0 21,8M784,122 q13,-8 15,-8 q2,0 15,8M554,120 q18,-13 20,-13 q2,0 20,13M768,102 q6,-3 8,-3 q2,0 8,3M558,111 q10,-5 13,-5 q3,0 13,5M656,130 q19,-10 22,-10 q3,0 22,10M741,104 q22,-10 26,-10 q4,0 26,10M689,125 q19,-8 22,-8 q3,0 22,8M742,125 q10,-6 13,-6 q3,0 13,6M746,84 q6,-4 8,-4 q2,0 8,4M731,115 q10,-6 12,-6 q2,0 12,6M588,116 q19,-11 21,-11 q2,0 21,11M660,94 q8,-6 10,-6 q2,0 10,6M712,120 q13,-8 16,-8 q3,0 16,8M546,108 q18,-13 20,-13 q2,0 20,13M735,87 q8,-6 10,-6 q2,0 10,6M659,118 q24,-15 26,-15 q2,0 26,15M616,125 q7,-4 9,-4 q2,0 9,4M561,108 q23,-11 26,-11 q3,0 26,11M667,116 q21,-9 24,-9 q3,0 24,9M731,113 q23,-16 25,-16 q2,0 25,16M746,108 q20,-13 22,-13 q2,0 22,13M663,85 q9,-7 11,-7 q2,0 11,7M745,97 q7,-5 9,-5 q2,0 9,5M784,111 q19,-13 21,-13 q2,0 21,13M725,101 q6,-4 8,-4 q2,0 8,4M732,129 q16,-11 18,-11 q2,0 18,11M585,116 q12,-7 15,-7 q3,0 15,7M742,98 q18,-7 22,-7 q4,0 22,7M604,129 q22,-14 24,-14 q2,0 24,14M581,121 q15,-10 17,-10 q2,0 17,10M737,123 q20,-15 22,-15 q2,0 22,15M592,92 q7,-4 10,-4 q3,0 10,4M761,96 q8,-5 10,-5 q2,0 10,5M701,104 q6,-3 9,-3 q3,0 9,3M778,120 q17,-7 21,-7 q4,0 21,7M619,127 q13,-6 16,-6 q3,0 16,6M749,103 q15,-7 18,-7 q3,0 18,7M585,100 q17,-10 20,-10 q3,0 20,10M788,123 q11,-6 14,-6 q3,0 14,6M774,117 q8,-3 12,-3 q4,0 12,3M713,95 q9,-4 12,-4 q3,0 12,4M774,129 q22,-15 24,-15 q2,0 24,15M593,99 q11,-8 13,-8 q2,0 13,8M591,89 q23,-10 26,-10 q3,0 26,10M744,98 q14,-7 17,-7 q3,0 17,7M680,114 q12,-5 16,-5 q4,0 16,5M569,103 q20,-16 22,-16 q2,0 22,16M705,94 q15,-9 18,-9 q3,0 18,9M628,104 q11,-7 13,-7 q2,0 13,7M744,104 q11,-8 13,-8 q2,0 13,8M747,122 q20,-14 22,-14 q2,0 22,14M695,110 q6,-3 9,-3 q3,0 9,3M732,88 q6,-3 10,-3 q4,0 10,3M574,122 q5,-3 8,-3 q3,0 8,3M675,124 q20,-8 23,-8 q3,0 23,8M683,133 q22,-15 24,-15 q2,0 24,15M619,106 q10,-8 12,-8 q2,0 12,8M700,120 q8,-4 11,-4 q3,0 11,4M641,119 q21,-17 23,-17 q2,0 23,17M657,109 q19,-15 21,-15 q2,0 21,15M717,105 q23,-16 25,-16 q2,0 25,16M697,100 q12,-9 14,-9 q2,0 14,9M582,124 q23,-12 26,-12 q3,0 26,12M658,93 q22,-10 25,-10 q3,0 25,10M770,113 q14,-9 16,-9 q2,0 16,9M712,117 q22,-11 25,-11 q3,0 25,11M543,128 q16,-9 19,-9 q3,0 19,9M658,112 q6,-4 8,-4 q2,0 8,4M704,94 q22,-14 24,-14 q2,0 24,14M596,116 q11,-7 13,-7 q2,0 13,7M761,91 q15,-8 18,-8 q3,0 18,8" stroke="#000" stroke-opacity="0.27" transform="translate(0 2.6)"/>
<path d="M566,95 q11,-6 14,-6 q3,0 14,6M708,116 q14,-8 17,-8 q3,0 17,8M673,110 q15,-8 18,-8 q3,0 18,8M753,124 q17,-11 19,-11 q2,0 19,11M710,109 q16,-10 18,-10 q2,0 18,10M619,105 q15,-11 17,-11 q2,0 17,11M581,123 q20,-10 23,-10 q3,0 23,10M632,121 q14,-10 16,-10 q2,0 16,10M757,131 q19,-15 21,-15 q2,0 21,15M622,92 q5,-3 8,-3 q3,0 8,3M665,109 q21,-15 23,-15 q2,0 23,15M604,100 q10,-7 12,-7 q2,0 12,7M568,106 q16,-10 18,-10 q2,0 18,10M660,108 q10,-6 13,-6 q3,0 13,6M572,120 q7,-4 10,-4 q3,0 10,4M658,124 q17,-13 19,-13 q2,0 19,13M563,114 q24,-15 26,-15 q2,0 26,15M605,102 q11,-8 13,-8 q2,0 13,8M734,108 q7,-5 9,-5 q2,0 9,5M707,107 q13,-9 15,-9 q2,0 15,9M587,82 q6,-4 8,-4 q2,0 8,4M591,118 q8,-5 10,-5 q2,0 10,5M559,91 q6,-4 9,-4 q3,0 9,4M644,124 q19,-12 21,-12 q2,0 21,12M586,110 q17,-13 19,-13 q2,0 19,13M710,104 q18,-11 20,-11 q2,0 20,11M623,106 q9,-5 12,-5 q3,0 12,5M714,101 q8,-5 10,-5 q2,0 10,5M571,123 q14,-11 16,-11 q2,0 16,11M687,93 q18,-8 21,-8 q3,0 21,8M592,119 q11,-7 13,-7 q2,0 13,7M645,93 q18,-8 21,-8 q3,0 21,8M737,123 q13,-9 15,-9 q2,0 15,9M541,113 q18,-11 20,-11 q2,0 20,11M773,99 q12,-5 15,-5 q3,0 15,5M564,108 q14,-10 16,-10 q2,0 16,10M737,88 q8,-5 10,-5 q2,0 10,5M652,112 q11,-7 13,-7 q2,0 13,7M696,119 q5,-3 8,-3 q3,0 8,3M661,121 q12,-9 14,-9 q2,0 14,9M627,111 q21,-14 23,-14 q2,0 23,14M562,99 q9,-5 11,-5 q2,0 11,5M544,132 q21,-12 24,-12 q3,0 24,12M656,112 q19,-8 22,-8 q3,0 22,8M543,125 q12,-7 15,-7 q3,0 15,7M548,88 q17,-7 20,-7 q3,0 20,7M566,118 q19,-8 23,-8 q4,0 23,8M565,114 q9,-5 12,-5 q3,0 12,5M733,95 q6,-4 8,-4 q2,0 8,4M705,107 q18,-13 20,-13 q2,0 20,13M611,104 q6,-5 8,-5 q2,0 8,5M578,89 q13,-7 16,-7 q3,0 16,7M568,105 q21,-12 23,-12 q2,0 23,12M778,90 q13,-8 15,-8 q2,0 15,8M563,103 q17,-13 19,-13 q2,0 19,13M747,107 q23,-11 26,-11 q3,0 26,11M715,105 q19,-14 21,-14 q2,0 21,14M759,112 q15,-10 17,-10 q2,0 17,10M718,102 q20,-11 23,-11 q3,0 23,11M659,108 q14,-9 16,-9 q2,0 16,9M720,121 q23,-14 26,-14 q3,0 26,14M608,113 q14,-6 17,-6 q3,0 17,6M770,115 q19,-12 21,-12 q2,0 21,12M749,98 q18,-12 20,-12 q2,0 20,12M770,87 q13,-8 15,-8 q2,0 15,8M704,91 q22,-12 25,-12 q3,0 25,12M569,84 q4,-2 8,-2 q4,0 8,2M772,110 q22,-15 24,-15 q2,0 24,15M754,110 q7,-4 10,-4 q3,0 10,4M707,99 q15,-11 17,-11 q2,0 17,11M558,117 q18,-8 21,-8 q3,0 21,8M629,85 q8,-5 11,-5 q3,0 11,5M756,116 q20,-15 22,-15 q2,0 22,15M657,119 q21,-9 24,-9 q3,0 24,9M561,108 q6,-3 9,-3 q3,0 9,3M618,112 q16,-10 19,-10 q3,0 19,10M730,109 q17,-8 20,-8 q3,0 20,8M663,90 q7,-5 9,-5 q2,0 9,5M772,114 q13,-10 15,-10 q2,0 15,10M617,127 q15,-8 18,-8 q3,0 18,8M649,106 q13,-5 16,-5 q3,0 16,5M743,102 q16,-8 19,-8 q3,0 19,8M568,98 q13,-10 15,-10 q2,0 15,10M741,122 q12,-5 16,-5 q4,0 16,5M724,105 q22,-15 24,-15 q2,0 24,15M753,117 q23,-12 26,-12 q3,0 26,12M765,95 q18,-9 21,-9 q3,0 21,9M599,107 q13,-10 15,-10 q2,0 15,10M626,95 q14,-6 17,-6 q3,0 17,6M670,103 q23,-14 25,-14 q2,0 25,14M729,96 q18,-8 21,-8 q3,0 21,8M590,113 q20,-10 23,-10 q3,0 23,10M703,125 q15,-10 17,-10 q2,0 17,10M545,122 q17,-12 19,-12 q2,0 19,12M747,127 q18,-10 21,-10 q3,0 21,10M592,88 q9,-5 11,-5 q2,0 11,5M634,109 q12,-7 15,-7 q3,0 15,7M641,104 q14,-9 17,-9 q3,0 17,9M611,110 q16,-9 18,-9 q2,0 18,9M787,111 q12,-8 14,-8 q2,0 14,8M679,116 q23,-12 26,-12 q3,0 26,12M726,117 q10,-6 12,-6 q2,0 12,6M695,89 q6,-3 9,-3 q3,0 9,3M670,88 q13,-8 15,-8 q2,0 15,8M648,96 q6,-3 9,-3 q3,0 9,3M615,119 q18,-8 21,-8 q3,0 21,8M762,110 q10,-6 12,-6 q2,0 12,6M578,83 q10,-4 14,-4 q4,0 14,4M539,124 q13,-8 16,-8 q3,0 16,8M596,127 q23,-14 26,-14 q3,0 26,14M578,124 q13,-6 16,-6 q3,0 16,6M726,108 q20,-16 22,-16 q2,0 22,16M765,99 q21,-15 23,-15 q2,0 23,15M731,122 q12,-8 14,-8 q2,0 14,8M717,101 q18,-8 21,-8 q3,0 21,8M784,122 q13,-8 15,-8 q2,0 15,8M554,120 q18,-13 20,-13 q2,0 20,13M768,102 q6,-3 8,-3 q2,0 8,3M558,111 q10,-5 13,-5 q3,0 13,5M656,130 q19,-10 22,-10 q3,0 22,10M741,104 q22,-10 26,-10 q4,0 26,10M689,125 q19,-8 22,-8 q3,0 22,8M742,125 q10,-6 13,-6 q3,0 13,6M746,84 q6,-4 8,-4 q2,0 8,4M731,115 q10,-6 12,-6 q2,0 12,6M588,116 q19,-11 21,-11 q2,0 21,11M660,94 q8,-6 10,-6 q2,0 10,6M712,120 q13,-8 16,-8 q3,0 16,8M546,108 q18,-13 20,-13 q2,0 20,13M735,87 q8,-6 10,-6 q2,0 10,6M659,118 q24,-15 26,-15 q2,0 26,15M616,125 q7,-4 9,-4 q2,0 9,4M561,108 q23,-11 26,-11 q3,0 26,11M667,116 q21,-9 24,-9 q3,0 24,9M731,113 q23,-16 25,-16 q2,0 25,16M746,108 q20,-13 22,-13 q2,0 22,13M663,85 q9,-7 11,-7 q2,0 11,7M745,97 q7,-5 9,-5 q2,0 9,5M784,111 q19,-13 21,-13 q2,0 21,13M725,101 q6,-4 8,-4 q2,0 8,4M732,129 q16,-11 18,-11 q2,0 18,11M585,116 q12,-7 15,-7 q3,0 15,7M742,98 q18,-7 22,-7 q4,0 22,7M604,129 q22,-14 24,-14 q2,0 24,14M581,121 q15,-10 17,-10 q2,0 17,10M737,123 q20,-15 22,-15 q2,0 22,15M592,92 q7,-4 10,-4 q3,0 10,4M761,96 q8,-5 10,-5 q2,0 10,5M701,104 q6,-3 9,-3 q3,0 9,3M778,120 q17,-7 21,-7 q4,0 21,7M619,127 q13,-6 16,-6 q3,0 16,6M749,103 q15,-7 18,-7 q3,0 18,7M585,100 q17,-10 20,-10 q3,0 20,10M788,123 q11,-6 14,-6 q3,0 14,6M774,117 q8,-3 12,-3 q4,0 12,3M713,95 q9,-4 12,-4 q3,0 12,4M774,129 q22,-15 24,-15 q2,0 24,15M593,99 q11,-8 13,-8 q2,0 13,8M591,89 q23,-10 26,-10 q3,0 26,10M744,98 q14,-7 17,-7 q3,0 17,7M680,114 q12,-5 16,-5 q4,0 16,5M569,103 q20,-16 22,-16 q2,0 22,16M705,94 q15,-9 18,-9 q3,0 18,9M628,104 q11,-7 13,-7 q2,0 13,7M744,104 q11,-8 13,-8 q2,0 13,8M747,122 q20,-14 22,-14 q2,0 22,14M695,110 q6,-3 9,-3 q3,0 9,3M732,88 q6,-3 10,-3 q4,0 10,3M574,122 q5,-3 8,-3 q3,0 8,3M675,124 q20,-8 23,-8 q3,0 23,8M683,133 q22,-15 24,-15 q2,0 24,15M619,106 q10,-8 12,-8 q2,0 12,8M700,120 q8,-4 11,-4 q3,0 11,4M641,119 q21,-17 23,-17 q2,0 23,17M657,109 q19,-15 21,-15 q2,0 21,15M717,105 q23,-16 25,-16 q2,0 25,16M697,100 q12,-9 14,-9 q2,0 14,9M582,124 q23,-12 26,-12 q3,0 26,12M658,93 q22,-10 25,-10 q3,0 25,10M770,113 q14,-9 16,-9 q2,0 16,9M712,117 q22,-11 25,-11 q3,0 25,11M543,128 q16,-9 19,-9 q3,0 19,9M658,112 q6,-4 8,-4 q2,0 8,4M704,94 q22,-14 24,-14 q2,0 24,14M596,116 q11,-7 13,-7 q2,0 13,7M761,91 q15,-8 18,-8 q3,0 18,8" stroke="#fff" stroke-opacity="0.14" transform="translate(0 5.2)"/>
<path d="M568,143 q12,-7 15,-7 q3,0 15,7M782,156 q11,-5 14,-5 q3,0 14,5M619,138 q23,-16 25,-16 q2,0 25,16M638,162 q5,-3 8,-3 q3,0 8,3M622,156 q19,-8 22,-8 q3,0 22,8M660,131 q7,-6 9,-6 q2,0 9,6M557,131 q9,-5 12,-5 q3,0 12,5M576,156 q22,-16 24,-16 q2,0 24,16M771,164 q22,-18 24,-18 q2,0 24,18M729,169 q18,-9 21,-9 q3,0 21,9M550,142 q12,-5 15,-5 q3,0 15,5M673,133 q16,-9 19,-9 q3,0 19,9M693,171 q13,-9 15,-9 q2,0 15,9M734,141 q24,-16 26,-16 q2,0 26,16M767,161 q16,-10 18,-10 q2,0 18,10M658,148 q17,-10 20,-10 q3,0 20,10M785,147 q14,-6 17,-6 q3,0 17,6M603,153 q21,-12 23,-12 q2,0 23,12M732,164 q5,-2 9,-2 q4,0 9,2M752,146 q12,-9 14,-9 q2,0 14,9M712,138 q15,-10 17,-10 q2,0 17,10M674,152 q16,-10 18,-10 q2,0 18,10M652,154 q5,-2 9,-2 q4,0 9,2M719,136 q11,-7 13,-7 q2,0 13,7M570,139 q16,-11 18,-11 q2,0 18,11M731,153 q10,-7 12,-7 q2,0 12,7M751,140 q17,-8 20,-8 q3,0 20,8M557,165 q23,-16 25,-16 q2,0 25,16M737,138 q17,-10 19,-10 q2,0 19,10M690,164 q10,-6 13,-6 q3,0 13,6M712,140 q9,-4 12,-4 q3,0 12,4M600,149 q20,-14 22,-14 q2,0 22,14M754,163 q9,-6 11,-6 q2,0 11,6M657,132 q22,-11 25,-11 q3,0 25,11M617,139 q13,-8 15,-8 q2,0 15,8M573,149 q14,-10 16,-10 q2,0 16,10M609,146 q11,-5 15,-5 q4,0 15,5M540,173 q21,-14 23,-14 q2,0 23,14M629,140 q11,-6 14,-6 q3,0 14,6M586,168 q17,-12 19,-12 q2,0 19,12M663,155 q8,-6 10,-6 q2,0 10,6M744,130 q6,-4 8,-4 q2,0 8,4M635,140 q22,-14 24,-14 q2,0 24,14M606,130 q8,-5 10,-5 q2,0 10,5M603,165 q23,-11 26,-11 q3,0 26,11M584,174 q16,-11 18,-11 q2,0 18,11M546,157 q22,-17 24,-17 q2,0 24,17M783,137 q5,-2 8,-2 q3,0 8,2M604,140 q10,-7 12,-7 q2,0 12,7M540,169 q18,-13 20,-13 q2,0 20,13M656,143 q8,-6 10,-6 q2,0 10,6M741,135 q16,-7 20,-7 q4,0 20,7M741,132 q8,-6 10,-6 q2,0 10,6M593,131 q13,-6 16,-6 q3,0 16,6M760,168 q20,-16 22,-16 q2,0 22,16M599,162 q12,-5 16,-5 q4,0 16,5M727,166 q19,-11 22,-11 q3,0 22,11M604,175 q18,-14 20,-14 q2,0 20,14M687,159 q5,-2 9,-2 q4,0 9,2M676,158 q8,-6 10,-6 q2,0 10,6M696,138 q9,-5 12,-5 q3,0 12,5M550,141 q22,-14 24,-14 q2,0 24,14M674,146 q8,-6 10,-6 q2,0 10,6M736,159 q11,-7 13,-7 q2,0 13,7M768,149 q8,-5 11,-5 q3,0 11,5M546,140 q24,-15 26,-15 q2,0 26,15M781,139 q8,-4 11,-4 q3,0 11,4M781,160 q18,-8 21,-8 q3,0 21,8M610,140 q17,-7 21,-7 q4,0 21,7M768,147 q20,-12 22,-12 q2,0 22,12M606,143 q11,-8 13,-8 q2,0 13,8M705,161 q22,-10 25,-10 q3,0 25,10M648,129 q9,-5 12,-5 q3,0 12,5M730,146 q5,-2 8,-2 q3,0 8,2M720,155 q19,-12 21,-12 q2,0 21,12M736,136 q7,-5 9,-5 q2,0 9,5M587,130 q19,-9 22,-9 q3,0 22,9M758,169 q20,-14 22,-14 q2,0 22,14M596,163 q6,-3 9,-3 q3,0 9,3M720,134 q10,-6 12,-6 q2,0 12,6M579,167 q19,-15 21,-15 q2,0 21,15M654,132 q5,-2 8,-2 q3,0 8,2M720,131 q15,-8 18,-8 q3,0 18,8M661,146 q19,-10 22,-10 q3,0 22,10M688,130 q18,-8 21,-8 q3,0 21,8M596,135 q14,-6 17,-6 q3,0 17,6M632,150 q20,-15 22,-15 q2,0 22,15M581,149 q16,-12 18,-12 q2,0 18,12M561,136 q13,-7 16,-7 q3,0 16,7M736,160 q16,-8 19,-8 q3,0 19,8M578,133 q17,-9 20,-9 q3,0 20,9M590,158 q24,-16 26,-16 q2,0 26,16M727,145 q6,-4 8,-4 q2,0 8,4M609,140 q9,-6 11,-6 q2,0 11,6M773,160 q7,-3 10,-3 q3,0 10,3M576,150 q23,-15 25,-15 q2,0 25,15M652,164 q12,-8 14,-8 q2,0 14,8M710,147 q21,-9 25,-9 q4,0 25,9M794,123 q6,-3 9,-3 q3,0 9,3M587,157 q22,-16 24,-16 q2,0 24,16M651,163 q12,-6 15,-6 q3,0 15,6M658,140 q6,-4 8,-4 q2,0 8,4M579,148 q10,-8 12,-8 q2,0 12,8M775,157 q21,-15 23,-15 q2,0 23,15M640,158 q19,-12 22,-12 q3,0 22,12M688,134 q19,-10 22,-10 q3,0 22,10M595,145 q12,-5 16,-5 q4,0 16,5M780,144 q20,-16 22,-16 q2,0 22,16M557,152 q10,-5 13,-5 q3,0 13,5M758,139 q11,-8 13,-8 q2,0 13,8M607,132 q13,-8 15,-8 q2,0 15,8M698,142 q8,-5 11,-5 q3,0 11,5M697,166 q11,-5 14,-5 q3,0 14,5M718,158 q23,-12 26,-12 q3,0 26,12M658,162 q12,-6 15,-6 q3,0 15,6M781,149 q17,-7 21,-7 q4,0 21,7M756,154 q20,-10 23,-10 q3,0 23,10M593,166 q17,-13 19,-13 q2,0 19,13M694,149 q10,-6 12,-6 q2,0 12,6M648,152 q19,-14 21,-14 q2,0 21,14M745,154 q9,-5 12,-5 q3,0 12,5M767,138 q16,-9 19,-9 q3,0 19,9M668,137 q8,-5 10,-5 q2,0 10,5M610,168 q20,-9 24,-9 q4,0 24,9M563,170 q19,-8 23,-8 q4,0 23,8M589,167 q19,-15 21,-15 q2,0 21,15M721,170 q16,-11 18,-11 q2,0 18,11M645,151 q22,-9 25,-9 q3,0 25,9M696,160 q14,-6 17,-6 q3,0 17,6M623,168 q23,-17 25,-17 q2,0 25,17M717,143 q16,-10 18,-10 q2,0 18,10M715,140 q16,-10 19,-10 q3,0 19,10M786,165 q12,-8 14,-8 q2,0 14,8M619,148 q10,-6 12,-6 q2,0 12,6M673,132 q7,-5 9,-5 q2,0 9,5M624,132 q5,-2 8,-2 q3,0 8,2M648,159 q14,-8 16,-8 q2,0 16,8M636,128 q7,-5 9,-5 q2,0 9,5M743,148 q6,-4 8,-4 q2,0 8,4M757,170 q10,-8 12,-8 q2,0 12,8M639,134 q13,-9 15,-9 q2,0 15,9M725,175 q24,-19 26,-19 q2,0 26,19M561,139 q21,-11 24,-11 q3,0 24,11M598,147 q19,-15 21,-15 q2,0 21,15M710,153 q15,-9 17,-9 q2,0 17,9M758,172 q20,-11 23,-11 q3,0 23,11M737,134 q11,-6 14,-6 q3,0 14,6M717,144 q17,-8 20,-8 q3,0 20,8M605,167 q7,-4 9,-4 q2,0 9,4M557,139 q5,-2 8,-2 q3,0 8,2M663,172 q20,-12 22,-12 q2,0 22,12M553,140 q7,-4 10,-4 q3,0 10,4M572,166 q12,-7 14,-7 q2,0 14,7M653,148 q7,-5 9,-5 q2,0 9,5M680,166 q8,-4 11,-4 q3,0 11,4M573,161 q6,-4 8,-4 q2,0 8,4M559,169 q18,-8 21,-8 q3,0 21,8M685,166 q7,-4 9,-4 q2,0 9,4M658,154 q11,-5 14,-5 q3,0 14,5M599,127 q8,-6 10,-6 q2,0 10,6M768,138 q23,-15 25,-15 q2,0 25,15M780,163 q19,-13 21,-13 q2,0 21,13M744,168 q20,-11 23,-11 q3,0 23,11M732,142 q23,-10 26,-10 q3,0 26,10M588,165 q21,-13 24,-13 q3,0 24,13M580,158 q16,-8 19,-8 q3,0 19,8M739,143 q6,-4 8,-4 q2,0 8,4M786,166 q16,-11 18,-11 q2,0 18,11M682,168 q16,-11 18,-11 q2,0 18,11M785,153 q12,-9 14,-9 q2,0 14,9M742,134 q9,-4 12,-4 q3,0 12,4M685,151 q21,-13 23,-13 q2,0 23,13M778,152 q20,-15 22,-15 q2,0 22,15M661,149 q7,-4 9,-4 q2,0 9,4M765,148 q12,-5 16,-5 q4,0 16,5M609,152 q9,-4 12,-4 q3,0 12,4M619,159 q17,-13 19,-13 q2,0 19,13M644,139 q12,-7 15,-7 q3,0 15,7M681,147 q23,-17 25,-17 q2,0 25,17M756,170 q20,-13 22,-13 q2,0 22,13M556,170 q24,-15 26,-15 q2,0 26,15M577,155 q11,-7 13,-7 q2,0 13,7M698,158 q9,-7 11,-7 q2,0 11,7M668,132 q14,-11 16,-11 q2,0 16,11M673,157 q23,-13 26,-13 q3,0 26,13M756,134 q20,-13 22,-13 q2,0 22,13M595,153 q9,-6 11,-6 q2,0 11,6M731,129 q5,-2 8,-2 q3,0 8,2M648,156 q16,-10 19,-10 q3,0 19,10M727,133 q13,-9 15,-9 q2,0 15,9M699,152 q22,-9 25,-9 q3,0 25,9M616,149 q21,-16 23,-16 q2,0 23,16M686,155 q12,-5 15,-5 q3,0 15,5M598,164 q6,-5 8,-5 q2,0 8,5M758,164 q20,-12 23,-12 q3,0 23,12M707,147 q23,-10 26,-10 q3,0 26,10M729,133 q10,-8 12,-8 q2,0 12,8M729,136 q7,-3 10,-3 q3,0 10,3M663,159 q13,-8 15,-8 q2,0 15,8M588,138 q19,-15 21,-15 q2,0 21,15M722,129 q5,-2 8,-2 q3,0 8,2M559,166 q17,-8 20,-8 q3,0 20,8M632,156 q14,-9 16,-9 q2,0 16,9M756,156 q24,-18 26,-18 q2,0 26,18M537,151 q18,-8 22,-8 q4,0 22,8M607,154 q19,-14 21,-14 q2,0 21,14M732,171 q13,-8 15,-8 q2,0 15,8M761,168 q20,-16 22,-16 q2,0 22,16M668,131 q6,-5 8,-5 q2,0 8,5M719,134 q6,-3 9,-3 q3,0 9,3M625,163 q20,-15 22,-15 q2,0 22,15M585,136 q19,-11 22,-11 q3,0 22,11M584,134 q5,-3 8,-3 q3,0 8,3M766,159 q21,-14 23,-14 q2,0 23,14M655,139 q7,-3 10,-3 q3,0 10,3M653,142 q19,-13 21,-13 q2,0 21,13M612,162 q7,-3 10,-3 q3,0 10,3M667,151 q13,-5 17,-5 q4,0 17,5M582,169 q19,-14 21,-14 q2,0 21,14" stroke="#fff" stroke-opacity="0.19"/>
<path d="M568,143 q12,-7 15,-7 q3,0 15,7M782,156 q11,-5 14,-5 q3,0 14,5M619,138 q23,-16 25,-16 q2,0 25,16M638,162 q5,-3 8,-3 q3,0 8,3M622,156 q19,-8 22,-8 q3,0 22,8M660,131 q7,-6 9,-6 q2,0 9,6M557,131 q9,-5 12,-5 q3,0 12,5M576,156 q22,-16 24,-16 q2,0 24,16M771,164 q22,-18 24,-18 q2,0 24,18M729,169 q18,-9 21,-9 q3,0 21,9M550,142 q12,-5 15,-5 q3,0 15,5M673,133 q16,-9 19,-9 q3,0 19,9M693,171 q13,-9 15,-9 q2,0 15,9M734,141 q24,-16 26,-16 q2,0 26,16M767,161 q16,-10 18,-10 q2,0 18,10M658,148 q17,-10 20,-10 q3,0 20,10M785,147 q14,-6 17,-6 q3,0 17,6M603,153 q21,-12 23,-12 q2,0 23,12M732,164 q5,-2 9,-2 q4,0 9,2M752,146 q12,-9 14,-9 q2,0 14,9M712,138 q15,-10 17,-10 q2,0 17,10M674,152 q16,-10 18,-10 q2,0 18,10M652,154 q5,-2 9,-2 q4,0 9,2M719,136 q11,-7 13,-7 q2,0 13,7M570,139 q16,-11 18,-11 q2,0 18,11M731,153 q10,-7 12,-7 q2,0 12,7M751,140 q17,-8 20,-8 q3,0 20,8M557,165 q23,-16 25,-16 q2,0 25,16M737,138 q17,-10 19,-10 q2,0 19,10M690,164 q10,-6 13,-6 q3,0 13,6M712,140 q9,-4 12,-4 q3,0 12,4M600,149 q20,-14 22,-14 q2,0 22,14M754,163 q9,-6 11,-6 q2,0 11,6M657,132 q22,-11 25,-11 q3,0 25,11M617,139 q13,-8 15,-8 q2,0 15,8M573,149 q14,-10 16,-10 q2,0 16,10M609,146 q11,-5 15,-5 q4,0 15,5M540,173 q21,-14 23,-14 q2,0 23,14M629,140 q11,-6 14,-6 q3,0 14,6M586,168 q17,-12 19,-12 q2,0 19,12M663,155 q8,-6 10,-6 q2,0 10,6M744,130 q6,-4 8,-4 q2,0 8,4M635,140 q22,-14 24,-14 q2,0 24,14M606,130 q8,-5 10,-5 q2,0 10,5M603,165 q23,-11 26,-11 q3,0 26,11M584,174 q16,-11 18,-11 q2,0 18,11M546,157 q22,-17 24,-17 q2,0 24,17M783,137 q5,-2 8,-2 q3,0 8,2M604,140 q10,-7 12,-7 q2,0 12,7M540,169 q18,-13 20,-13 q2,0 20,13M656,143 q8,-6 10,-6 q2,0 10,6M741,135 q16,-7 20,-7 q4,0 20,7M741,132 q8,-6 10,-6 q2,0 10,6M593,131 q13,-6 16,-6 q3,0 16,6M760,168 q20,-16 22,-16 q2,0 22,16M599,162 q12,-5 16,-5 q4,0 16,5M727,166 q19,-11 22,-11 q3,0 22,11M604,175 q18,-14 20,-14 q2,0 20,14M687,159 q5,-2 9,-2 q4,0 9,2M676,158 q8,-6 10,-6 q2,0 10,6M696,138 q9,-5 12,-5 q3,0 12,5M550,141 q22,-14 24,-14 q2,0 24,14M674,146 q8,-6 10,-6 q2,0 10,6M736,159 q11,-7 13,-7 q2,0 13,7M768,149 q8,-5 11,-5 q3,0 11,5M546,140 q24,-15 26,-15 q2,0 26,15M781,139 q8,-4 11,-4 q3,0 11,4M781,160 q18,-8 21,-8 q3,0 21,8M610,140 q17,-7 21,-7 q4,0 21,7M768,147 q20,-12 22,-12 q2,0 22,12M606,143 q11,-8 13,-8 q2,0 13,8M705,161 q22,-10 25,-10 q3,0 25,10M648,129 q9,-5 12,-5 q3,0 12,5M730,146 q5,-2 8,-2 q3,0 8,2M720,155 q19,-12 21,-12 q2,0 21,12M736,136 q7,-5 9,-5 q2,0 9,5M587,130 q19,-9 22,-9 q3,0 22,9M758,169 q20,-14 22,-14 q2,0 22,14M596,163 q6,-3 9,-3 q3,0 9,3M720,134 q10,-6 12,-6 q2,0 12,6M579,167 q19,-15 21,-15 q2,0 21,15M654,132 q5,-2 8,-2 q3,0 8,2M720,131 q15,-8 18,-8 q3,0 18,8M661,146 q19,-10 22,-10 q3,0 22,10M688,130 q18,-8 21,-8 q3,0 21,8M596,135 q14,-6 17,-6 q3,0 17,6M632,150 q20,-15 22,-15 q2,0 22,15M581,149 q16,-12 18,-12 q2,0 18,12M561,136 q13,-7 16,-7 q3,0 16,7M736,160 q16,-8 19,-8 q3,0 19,8M578,133 q17,-9 20,-9 q3,0 20,9M590,158 q24,-16 26,-16 q2,0 26,16M727,145 q6,-4 8,-4 q2,0 8,4M609,140 q9,-6 11,-6 q2,0 11,6M773,160 q7,-3 10,-3 q3,0 10,3M576,150 q23,-15 25,-15 q2,0 25,15M652,164 q12,-8 14,-8 q2,0 14,8M710,147 q21,-9 25,-9 q4,0 25,9M794,123 q6,-3 9,-3 q3,0 9,3M587,157 q22,-16 24,-16 q2,0 24,16M651,163 q12,-6 15,-6 q3,0 15,6M658,140 q6,-4 8,-4 q2,0 8,4M579,148 q10,-8 12,-8 q2,0 12,8M775,157 q21,-15 23,-15 q2,0 23,15M640,158 q19,-12 22,-12 q3,0 22,12M688,134 q19,-10 22,-10 q3,0 22,10M595,145 q12,-5 16,-5 q4,0 16,5M780,144 q20,-16 22,-16 q2,0 22,16M557,152 q10,-5 13,-5 q3,0 13,5M758,139 q11,-8 13,-8 q2,0 13,8M607,132 q13,-8 15,-8 q2,0 15,8M698,142 q8,-5 11,-5 q3,0 11,5M697,166 q11,-5 14,-5 q3,0 14,5M718,158 q23,-12 26,-12 q3,0 26,12M658,162 q12,-6 15,-6 q3,0 15,6M781,149 q17,-7 21,-7 q4,0 21,7M756,154 q20,-10 23,-10 q3,0 23,10M593,166 q17,-13 19,-13 q2,0 19,13M694,149 q10,-6 12,-6 q2,0 12,6M648,152 q19,-14 21,-14 q2,0 21,14M745,154 q9,-5 12,-5 q3,0 12,5M767,138 q16,-9 19,-9 q3,0 19,9M668,137 q8,-5 10,-5 q2,0 10,5M610,168 q20,-9 24,-9 q4,0 24,9M563,170 q19,-8 23,-8 q4,0 23,8M589,167 q19,-15 21,-15 q2,0 21,15M721,170 q16,-11 18,-11 q2,0 18,11M645,151 q22,-9 25,-9 q3,0 25,9M696,160 q14,-6 17,-6 q3,0 17,6M623,168 q23,-17 25,-17 q2,0 25,17M717,143 q16,-10 18,-10 q2,0 18,10M715,140 q16,-10 19,-10 q3,0 19,10M786,165 q12,-8 14,-8 q2,0 14,8M619,148 q10,-6 12,-6 q2,0 12,6M673,132 q7,-5 9,-5 q2,0 9,5M624,132 q5,-2 8,-2 q3,0 8,2M648,159 q14,-8 16,-8 q2,0 16,8M636,128 q7,-5 9,-5 q2,0 9,5M743,148 q6,-4 8,-4 q2,0 8,4M757,170 q10,-8 12,-8 q2,0 12,8M639,134 q13,-9 15,-9 q2,0 15,9M725,175 q24,-19 26,-19 q2,0 26,19M561,139 q21,-11 24,-11 q3,0 24,11M598,147 q19,-15 21,-15 q2,0 21,15M710,153 q15,-9 17,-9 q2,0 17,9M758,172 q20,-11 23,-11 q3,0 23,11M737,134 q11,-6 14,-6 q3,0 14,6M717,144 q17,-8 20,-8 q3,0 20,8M605,167 q7,-4 9,-4 q2,0 9,4M557,139 q5,-2 8,-2 q3,0 8,2M663,172 q20,-12 22,-12 q2,0 22,12M553,140 q7,-4 10,-4 q3,0 10,4M572,166 q12,-7 14,-7 q2,0 14,7M653,148 q7,-5 9,-5 q2,0 9,5M680,166 q8,-4 11,-4 q3,0 11,4M573,161 q6,-4 8,-4 q2,0 8,4M559,169 q18,-8 21,-8 q3,0 21,8M685,166 q7,-4 9,-4 q2,0 9,4M658,154 q11,-5 14,-5 q3,0 14,5M599,127 q8,-6 10,-6 q2,0 10,6M768,138 q23,-15 25,-15 q2,0 25,15M780,163 q19,-13 21,-13 q2,0 21,13M744,168 q20,-11 23,-11 q3,0 23,11M732,142 q23,-10 26,-10 q3,0 26,10M588,165 q21,-13 24,-13 q3,0 24,13M580,158 q16,-8 19,-8 q3,0 19,8M739,143 q6,-4 8,-4 q2,0 8,4M786,166 q16,-11 18,-11 q2,0 18,11M682,168 q16,-11 18,-11 q2,0 18,11M785,153 q12,-9 14,-9 q2,0 14,9M742,134 q9,-4 12,-4 q3,0 12,4M685,151 q21,-13 23,-13 q2,0 23,13M778,152 q20,-15 22,-15 q2,0 22,15M661,149 q7,-4 9,-4 q2,0 9,4M765,148 q12,-5 16,-5 q4,0 16,5M609,152 q9,-4 12,-4 q3,0 12,4M619,159 q17,-13 19,-13 q2,0 19,13M644,139 q12,-7 15,-7 q3,0 15,7M681,147 q23,-17 25,-17 q2,0 25,17M756,170 q20,-13 22,-13 q2,0 22,13M556,170 q24,-15 26,-15 q2,0 26,15M577,155 q11,-7 13,-7 q2,0 13,7M698,158 q9,-7 11,-7 q2,0 11,7M668,132 q14,-11 16,-11 q2,0 16,11M673,157 q23,-13 26,-13 q3,0 26,13M756,134 q20,-13 22,-13 q2,0 22,13M595,153 q9,-6 11,-6 q2,0 11,6M731,129 q5,-2 8,-2 q3,0 8,2M648,156 q16,-10 19,-10 q3,0 19,10M727,133 q13,-9 15,-9 q2,0 15,9M699,152 q22,-9 25,-9 q3,0 25,9M616,149 q21,-16 23,-16 q2,0 23,16M686,155 q12,-5 15,-5 q3,0 15,5M598,164 q6,-5 8,-5 q2,0 8,5M758,164 q20,-12 23,-12 q3,0 23,12M707,147 q23,-10 26,-10 q3,0 26,10M729,133 q10,-8 12,-8 q2,0 12,8M729,136 q7,-3 10,-3 q3,0 10,3M663,159 q13,-8 15,-8 q2,0 15,8M588,138 q19,-15 21,-15 q2,0 21,15M722,129 q5,-2 8,-2 q3,0 8,2M559,166 q17,-8 20,-8 q3,0 20,8M632,156 q14,-9 16,-9 q2,0 16,9M756,156 q24,-18 26,-18 q2,0 26,18M537,151 q18,-8 22,-8 q4,0 22,8M607,154 q19,-14 21,-14 q2,0 21,14M732,171 q13,-8 15,-8 q2,0 15,8M761,168 q20,-16 22,-16 q2,0 22,16M668,131 q6,-5 8,-5 q2,0 8,5M719,134 q6,-3 9,-3 q3,0 9,3M625,163 q20,-15 22,-15 q2,0 22,15M585,136 q19,-11 22,-11 q3,0 22,11M584,134 q5,-3 8,-3 q3,0 8,3M766,159 q21,-14 23,-14 q2,0 23,14M655,139 q7,-3 10,-3 q3,0 10,3M653,142 q19,-13 21,-13 q2,0 21,13M612,162 q7,-3 10,-3 q3,0 10,3M667,151 q13,-5 17,-5 q4,0 17,5M582,169 q19,-14 21,-14 q2,0 21,14" stroke="#000" stroke-opacity="0.19" transform="translate(0 2.6)"/>
<path d="M568,143 q12,-7 15,-7 q3,0 15,7M782,156 q11,-5 14,-5 q3,0 14,5M619,138 q23,-16 25,-16 q2,0 25,16M638,162 q5,-3 8,-3 q3,0 8,3M622,156 q19,-8 22,-8 q3,0 22,8M660,131 q7,-6 9,-6 q2,0 9,6M557,131 q9,-5 12,-5 q3,0 12,5M576,156 q22,-16 24,-16 q2,0 24,16M771,164 q22,-18 24,-18 q2,0 24,18M729,169 q18,-9 21,-9 q3,0 21,9M550,142 q12,-5 15,-5 q3,0 15,5M673,133 q16,-9 19,-9 q3,0 19,9M693,171 q13,-9 15,-9 q2,0 15,9M734,141 q24,-16 26,-16 q2,0 26,16M767,161 q16,-10 18,-10 q2,0 18,10M658,148 q17,-10 20,-10 q3,0 20,10M785,147 q14,-6 17,-6 q3,0 17,6M603,153 q21,-12 23,-12 q2,0 23,12M732,164 q5,-2 9,-2 q4,0 9,2M752,146 q12,-9 14,-9 q2,0 14,9M712,138 q15,-10 17,-10 q2,0 17,10M674,152 q16,-10 18,-10 q2,0 18,10M652,154 q5,-2 9,-2 q4,0 9,2M719,136 q11,-7 13,-7 q2,0 13,7M570,139 q16,-11 18,-11 q2,0 18,11M731,153 q10,-7 12,-7 q2,0 12,7M751,140 q17,-8 20,-8 q3,0 20,8M557,165 q23,-16 25,-16 q2,0 25,16M737,138 q17,-10 19,-10 q2,0 19,10M690,164 q10,-6 13,-6 q3,0 13,6M712,140 q9,-4 12,-4 q3,0 12,4M600,149 q20,-14 22,-14 q2,0 22,14M754,163 q9,-6 11,-6 q2,0 11,6M657,132 q22,-11 25,-11 q3,0 25,11M617,139 q13,-8 15,-8 q2,0 15,8M573,149 q14,-10 16,-10 q2,0 16,10M609,146 q11,-5 15,-5 q4,0 15,5M540,173 q21,-14 23,-14 q2,0 23,14M629,140 q11,-6 14,-6 q3,0 14,6M586,168 q17,-12 19,-12 q2,0 19,12M663,155 q8,-6 10,-6 q2,0 10,6M744,130 q6,-4 8,-4 q2,0 8,4M635,140 q22,-14 24,-14 q2,0 24,14M606,130 q8,-5 10,-5 q2,0 10,5M603,165 q23,-11 26,-11 q3,0 26,11M584,174 q16,-11 18,-11 q2,0 18,11M546,157 q22,-17 24,-17 q2,0 24,17M783,137 q5,-2 8,-2 q3,0 8,2M604,140 q10,-7 12,-7 q2,0 12,7M540,169 q18,-13 20,-13 q2,0 20,13M656,143 q8,-6 10,-6 q2,0 10,6M741,135 q16,-7 20,-7 q4,0 20,7M741,132 q8,-6 10,-6 q2,0 10,6M593,131 q13,-6 16,-6 q3,0 16,6M760,168 q20,-16 22,-16 q2,0 22,16M599,162 q12,-5 16,-5 q4,0 16,5M727,166 q19,-11 22,-11 q3,0 22,11M604,175 q18,-14 20,-14 q2,0 20,14M687,159 q5,-2 9,-2 q4,0 9,2M676,158 q8,-6 10,-6 q2,0 10,6M696,138 q9,-5 12,-5 q3,0 12,5M550,141 q22,-14 24,-14 q2,0 24,14M674,146 q8,-6 10,-6 q2,0 10,6M736,159 q11,-7 13,-7 q2,0 13,7M768,149 q8,-5 11,-5 q3,0 11,5M546,140 q24,-15 26,-15 q2,0 26,15M781,139 q8,-4 11,-4 q3,0 11,4M781,160 q18,-8 21,-8 q3,0 21,8M610,140 q17,-7 21,-7 q4,0 21,7M768,147 q20,-12 22,-12 q2,0 22,12M606,143 q11,-8 13,-8 q2,0 13,8M705,161 q22,-10 25,-10 q3,0 25,10M648,129 q9,-5 12,-5 q3,0 12,5M730,146 q5,-2 8,-2 q3,0 8,2M720,155 q19,-12 21,-12 q2,0 21,12M736,136 q7,-5 9,-5 q2,0 9,5M587,130 q19,-9 22,-9 q3,0 22,9M758,169 q20,-14 22,-14 q2,0 22,14M596,163 q6,-3 9,-3 q3,0 9,3M720,134 q10,-6 12,-6 q2,0 12,6M579,167 q19,-15 21,-15 q2,0 21,15M654,132 q5,-2 8,-2 q3,0 8,2M720,131 q15,-8 18,-8 q3,0 18,8M661,146 q19,-10 22,-10 q3,0 22,10M688,130 q18,-8 21,-8 q3,0 21,8M596,135 q14,-6 17,-6 q3,0 17,6M632,150 q20,-15 22,-15 q2,0 22,15M581,149 q16,-12 18,-12 q2,0 18,12M561,136 q13,-7 16,-7 q3,0 16,7M736,160 q16,-8 19,-8 q3,0 19,8M578,133 q17,-9 20,-9 q3,0 20,9M590,158 q24,-16 26,-16 q2,0 26,16M727,145 q6,-4 8,-4 q2,0 8,4M609,140 q9,-6 11,-6 q2,0 11,6M773,160 q7,-3 10,-3 q3,0 10,3M576,150 q23,-15 25,-15 q2,0 25,15M652,164 q12,-8 14,-8 q2,0 14,8M710,147 q21,-9 25,-9 q4,0 25,9M794,123 q6,-3 9,-3 q3,0 9,3M587,157 q22,-16 24,-16 q2,0 24,16M651,163 q12,-6 15,-6 q3,0 15,6M658,140 q6,-4 8,-4 q2,0 8,4M579,148 q10,-8 12,-8 q2,0 12,8M775,157 q21,-15 23,-15 q2,0 23,15M640,158 q19,-12 22,-12 q3,0 22,12M688,134 q19,-10 22,-10 q3,0 22,10M595,145 q12,-5 16,-5 q4,0 16,5M780,144 q20,-16 22,-16 q2,0 22,16M557,152 q10,-5 13,-5 q3,0 13,5M758,139 q11,-8 13,-8 q2,0 13,8M607,132 q13,-8 15,-8 q2,0 15,8M698,142 q8,-5 11,-5 q3,0 11,5M697,166 q11,-5 14,-5 q3,0 14,5M718,158 q23,-12 26,-12 q3,0 26,12M658,162 q12,-6 15,-6 q3,0 15,6M781,149 q17,-7 21,-7 q4,0 21,7M756,154 q20,-10 23,-10 q3,0 23,10M593,166 q17,-13 19,-13 q2,0 19,13M694,149 q10,-6 12,-6 q2,0 12,6M648,152 q19,-14 21,-14 q2,0 21,14M745,154 q9,-5 12,-5 q3,0 12,5M767,138 q16,-9 19,-9 q3,0 19,9M668,137 q8,-5 10,-5 q2,0 10,5M610,168 q20,-9 24,-9 q4,0 24,9M563,170 q19,-8 23,-8 q4,0 23,8M589,167 q19,-15 21,-15 q2,0 21,15M721,170 q16,-11 18,-11 q2,0 18,11M645,151 q22,-9 25,-9 q3,0 25,9M696,160 q14,-6 17,-6 q3,0 17,6M623,168 q23,-17 25,-17 q2,0 25,17M717,143 q16,-10 18,-10 q2,0 18,10M715,140 q16,-10 19,-10 q3,0 19,10M786,165 q12,-8 14,-8 q2,0 14,8M619,148 q10,-6 12,-6 q2,0 12,6M673,132 q7,-5 9,-5 q2,0 9,5M624,132 q5,-2 8,-2 q3,0 8,2M648,159 q14,-8 16,-8 q2,0 16,8M636,128 q7,-5 9,-5 q2,0 9,5M743,148 q6,-4 8,-4 q2,0 8,4M757,170 q10,-8 12,-8 q2,0 12,8M639,134 q13,-9 15,-9 q2,0 15,9M725,175 q24,-19 26,-19 q2,0 26,19M561,139 q21,-11 24,-11 q3,0 24,11M598,147 q19,-15 21,-15 q2,0 21,15M710,153 q15,-9 17,-9 q2,0 17,9M758,172 q20,-11 23,-11 q3,0 23,11M737,134 q11,-6 14,-6 q3,0 14,6M717,144 q17,-8 20,-8 q3,0 20,8M605,167 q7,-4 9,-4 q2,0 9,4M557,139 q5,-2 8,-2 q3,0 8,2M663,172 q20,-12 22,-12 q2,0 22,12M553,140 q7,-4 10,-4 q3,0 10,4M572,166 q12,-7 14,-7 q2,0 14,7M653,148 q7,-5 9,-5 q2,0 9,5M680,166 q8,-4 11,-4 q3,0 11,4M573,161 q6,-4 8,-4 q2,0 8,4M559,169 q18,-8 21,-8 q3,0 21,8M685,166 q7,-4 9,-4 q2,0 9,4M658,154 q11,-5 14,-5 q3,0 14,5M599,127 q8,-6 10,-6 q2,0 10,6M768,138 q23,-15 25,-15 q2,0 25,15M780,163 q19,-13 21,-13 q2,0 21,13M744,168 q20,-11 23,-11 q3,0 23,11M732,142 q23,-10 26,-10 q3,0 26,10M588,165 q21,-13 24,-13 q3,0 24,13M580,158 q16,-8 19,-8 q3,0 19,8M739,143 q6,-4 8,-4 q2,0 8,4M786,166 q16,-11 18,-11 q2,0 18,11M682,168 q16,-11 18,-11 q2,0 18,11M785,153 q12,-9 14,-9 q2,0 14,9M742,134 q9,-4 12,-4 q3,0 12,4M685,151 q21,-13 23,-13 q2,0 23,13M778,152 q20,-15 22,-15 q2,0 22,15M661,149 q7,-4 9,-4 q2,0 9,4M765,148 q12,-5 16,-5 q4,0 16,5M609,152 q9,-4 12,-4 q3,0 12,4M619,159 q17,-13 19,-13 q2,0 19,13M644,139 q12,-7 15,-7 q3,0 15,7M681,147 q23,-17 25,-17 q2,0 25,17M756,170 q20,-13 22,-13 q2,0 22,13M556,170 q24,-15 26,-15 q2,0 26,15M577,155 q11,-7 13,-7 q2,0 13,7M698,158 q9,-7 11,-7 q2,0 11,7M668,132 q14,-11 16,-11 q2,0 16,11M673,157 q23,-13 26,-13 q3,0 26,13M756,134 q20,-13 22,-13 q2,0 22,13M595,153 q9,-6 11,-6 q2,0 11,6M731,129 q5,-2 8,-2 q3,0 8,2M648,156 q16,-10 19,-10 q3,0 19,10M727,133 q13,-9 15,-9 q2,0 15,9M699,152 q22,-9 25,-9 q3,0 25,9M616,149 q21,-16 23,-16 q2,0 23,16M686,155 q12,-5 15,-5 q3,0 15,5M598,164 q6,-5 8,-5 q2,0 8,5M758,164 q20,-12 23,-12 q3,0 23,12M707,147 q23,-10 26,-10 q3,0 26,10M729,133 q10,-8 12,-8 q2,0 12,8M729,136 q7,-3 10,-3 q3,0 10,3M663,159 q13,-8 15,-8 q2,0 15,8M588,138 q19,-15 21,-15 q2,0 21,15M722,129 q5,-2 8,-2 q3,0 8,2M559,166 q17,-8 20,-8 q3,0 20,8M632,156 q14,-9 16,-9 q2,0 16,9M756,156 q24,-18 26,-18 q2,0 26,18M537,151 q18,-8 22,-8 q4,0 22,8M607,154 q19,-14 21,-14 q2,0 21,14M732,171 q13,-8 15,-8 q2,0 15,8M761,168 q20,-16 22,-16 q2,0 22,16M668,131 q6,-5 8,-5 q2,0 8,5M719,134 q6,-3 9,-3 q3,0 9,3M625,163 q20,-15 22,-15 q2,0 22,15M585,136 q19,-11 22,-11 q3,0 22,11M584,134 q5,-3 8,-3 q3,0 8,3M766,159 q21,-14 23,-14 q2,0 23,14M655,139 q7,-3 10,-3 q3,0 10,3M653,142 q19,-13 21,-13 q2,0 21,13M612,162 q7,-3 10,-3 q3,0 10,3M667,151 q13,-5 17,-5 q4,0 17,5M582,169 q19,-14 21,-14 q2,0 21,14" stroke="#fff" stroke-opacity="0.10" transform="translate(0 5.2)"/>
<path d="M687,203 q20,-8 24,-8 q4,0 24,8M662,243 q7,-5 9,-5 q2,0 9,5M580,229 q17,-8 20,-8 q3,0 20,8M541,230 q12,-8 14,-8 q2,0 14,8M612,219 q22,-9 26,-9 q4,0 26,9M618,191 q10,-6 13,-6 q3,0 13,6M718,174 q11,-5 14,-5 q3,0 14,5M594,221 q19,-10 22,-10 q3,0 22,10M725,212 q13,-6 17,-6 q4,0 17,6M738,182 q15,-12 17,-12 q2,0 17,12M543,206 q17,-12 19,-12 q2,0 19,12M697,219 q16,-12 18,-12 q2,0 18,12M575,198 q10,-6 12,-6 q2,0 12,6M781,230 q21,-12 24,-12 q3,0 24,12M654,202 q20,-10 23,-10 q3,0 23,10M661,233 q8,-5 11,-5 q3,0 11,5M780,257 q21,-16 23,-16 q2,0 23,16M702,208 q17,-10 19,-10 q2,0 19,10M706,224 q14,-10 16,-10 q2,0 16,10M698,214 q16,-8 19,-8 q3,0 19,8M620,246 q18,-10 21,-10 q3,0 21,10M744,238 q20,-16 22,-16 q2,0 22,16M553,187 q18,-8 21,-8 q3,0 21,8M677,231 q14,-10 16,-10 q2,0 16,10M587,205 q11,-7 13,-7 q2,0 13,7M747,195 q22,-12 25,-12 q3,0 25,12M553,171 q8,-4 11,-4 q3,0 11,4M666,251 q15,-12 17,-12 q2,0 17,12M785,247 q7,-4 10,-4 q3,0 10,4M538,186 q19,-9 22,-9 q3,0 22,9M760,227 q7,-3 11,-3 q4,0 11,3M682,189 q9,-7 11,-7 q2,0 11,7M704,255 q21,-16 23,-16 q2,0 23,16M654,209 q15,-11 17,-11 q2,0 17,11M602,216 q8,-5 10,-5 q2,0 10,5M551,197 q8,-6 10,-6 q2,0 10,6M705,247 q10,-8 12,-8 q2,0 12,8M656,244 q23,-14 25,-14 q2,0 25,14M724,180 q8,-5 10,-5 q2,0 10,5M540,234 q22,-14 24,-14 q2,0 24,14M591,240 q21,-17 23,-17 q2,0 23,17M571,182 q17,-12 19,-12 q2,0 19,12M608,247 q17,-12 19,-12 q2,0 19,12M630,201 q17,-11 19,-11 q2,0 19,11M658,242 q15,-6 19,-6 q4,0 19,6M652,236 q18,-10 21,-10 q3,0 21,10M750,231 q20,-9 23,-9 q3,0 23,9M700,179 q17,-11 19,-11 q2,0 19,11M604,214 q8,-6 10,-6 q2,0 10,6M701,228 q11,-5 14,-5 q3,0 14,5M777,209 q8,-5 10,-5 q2,0 10,5M772,171 q12,-8 14,-8 q2,0 14,8M641,174 q6,-5 8,-5 q2,0 8,5M703,222 q24,-16 26,-16 q2,0 26,16M553,213 q18,-13 20,-13 q2,0 20,13M682,233 q10,-6 12,-6 q2,0 12,6M657,214 q6,-4 8,-4 q2,0 8,4M751,195 q8,-4 11,-4 q3,0 11,4M695,176 q9,-5 12,-5 q3,0 12,5M779,210 q8,-4 11,-4 q3,0 11,4M554,185 q11,-6 13,-6 q2,0 13,6M787,167 q8,-3 11,-3 q3,0 11,3M754,192 q12,-10 14,-10 q2,0 14,10M712,234 q7,-4 9,-4 q2,0 9,4M607,242 q15,-9 18,-9 q3,0 18,9M702,212 q5,-3 8,-3 q3,0 8,3M669,199 q20,-16 22,-16 q2,0 22,16M734,248 q23,-15 25,-15 q2,0 25,15M670,220 q17,-13 19,-13 q2,0 19,13M546,206 q11,-6 14,-6 q3,0 14,6M750,246 q18,-9 21,-9 q3,0 21,9M727,190 q15,-11 17,-11 q2,0 17,11M702,225 q22,-11 25,-11 q3,0 25,11M669,234 q12,-7 15,-7 q3,0 15,7M625,213 q22,-17 24,-17 q2,0 24,17M763,176 q17,-9 20,-9 q3,0 20,9M747,234 q16,-8 19,-8 q3,0 19,8M564,244 q8,-5 10,-5 q2,0 10,5M687,188 q23,-16 25,-16 q2,0 25,16M614,231 q18,-14 20,-14 q2,0 20,14M589,200 q21,-15 23,-15 q2,0 23,15M544,183 q8,-3 11,-3 q3,0 11,3M582,173 q9,-5 11,-5 q2,0 11,5M775,245 q8,-5 11,-5 q3,0 11,5M660,185 q7,-3 10,-3 q3,0 10,3M786,242 q7,-4 10,-4 q3,0 10,4M782,190 q5,-2 8,-2 q3,0 8,2M615,229 q21,-12 24,-12 q3,0 24,12M594,256 q14,-9 16,-9 q2,0 16,9M537,212 q17,-12 19,-12 q2,0 19,12M560,253 q12,-10 14,-10 q2,0 14,10M682,227 q21,-12 23,-12 q2,0 23,12M677,238 q22,-9 26,-9 q4,0 26,9M539,214 q19,-14 21,-14 q2,0 21,14M606,234 q4,-2 8,-2 q4,0 8,2M636,206 q9,-5 12,-5 q3,0 12,5M754,236 q22,-9 25,-9 q3,0 25,9M563,182 q16,-8 19,-8 q3,0 19,8M664,172 q13,-6 17,-6 q4,0 17,6M700,244 q17,-10 19,-10 q2,0 19,10M664,223 q17,-12 19,-12 q2,0 19,12M617,225 q21,-15 23,-15 q2,0 23,15M637,179 q13,-9 15,-9 q2,0 15,9M690,230 q11,-7 13,-7 q2,0 13,7M677,239 q17,-10 19,-10 q2,0 19,10M710,178 q23,-11 26,-11 q3,0 26,11M613,188 q20,-12 23,-12 q3,0 23,12M662,249 q17,-13 19,-13 q2,0 19,13M642,211 q15,-8 18,-8 q3,0 18,8M566,207 q15,-6 18,-6 q3,0 18,6M648,224 q6,-3 10,-3 q4,0 10,3M700,194 q16,-12 18,-12 q2,0 18,12M605,170 q8,-3 11,-3 q3,0 11,3M764,251 q9,-5 12,-5 q3,0 12,5M696,244 q16,-12 18,-12 q2,0 18,12M739,178 q13,-7 16,-7 q3,0 16,7M771,216 q20,-16 22,-16 q2,0 22,16M742,240 q22,-17 24,-17 q2,0 24,17M594,241 q5,-2 9,-2 q4,0 9,2M638,225 q19,-10 22,-10 q3,0 22,10M785,202 q11,-9 13,-9 q2,0 13,9M636,182 q13,-8 15,-8 q2,0 15,8M547,203 q8,-4 11,-4 q3,0 11,4M755,240 q20,-12 23,-12 q3,0 23,12M695,193 q10,-4 14,-4 q4,0 14,4M763,257 q12,-10 14,-10 q2,0 14,10M713,229 q14,-10 16,-10 q2,0 16,10M752,246 q19,-14 21,-14 q2,0 21,14M669,226 q17,-11 19,-11 q2,0 19,11M719,201 q20,-16 22,-16 q2,0 22,16M628,259 q17,-12 19,-12 q2,0 19,12M652,223 q20,-15 22,-15 q2,0 22,15M616,251 q18,-8 21,-8 q3,0 21,8M618,216 q8,-6 10,-6 q2,0 10,6M768,202 q6,-3 10,-3 q4,0 10,3M635,177 q22,-10 26,-10 q4,0 26,10M561,226 q14,-6 18,-6 q4,0 18,6M788,190 q7,-4 9,-4 q2,0 9,4M662,237 q19,-12 21,-12 q2,0 21,12M620,175 q23,-10 26,-10 q3,0 26,10M573,199 q5,-2 9,-2 q4,0 9,2M558,178 q14,-8 17,-8 q3,0 17,8M614,197 q22,-14 24,-14 q2,0 24,14M740,242 q8,-5 11,-5 q3,0 11,5M758,253 q9,-4 12,-4 q3,0 12,4M627,175 q11,-8 13,-8 q2,0 13,8M722,246 q24,-18 26,-18 q2,0 26,18M748,211 q13,-8 16,-8 q3,0 16,8M713,241 q22,-11 25,-11 q3,0 25,11M669,218 q6,-4 8,-4 q2,0 8,4M583,227 q23,-12 26,-12 q3,0 26,12M580,189 q23,-11 26,-11 q3,0 26,11M680,196 q20,-10 23,-10 q3,0 23,10M698,186 q23,-14 26,-14 q3,0 26,14M669,220 q13,-5 17,-5 q4,0 17,5M747,224 q15,-7 18,-7 q3,0 18,7M685,225 q20,-9 23,-9 q3,0 23,9M634,257 q18,-12 20,-12 q2,0 20,12M634,176 q11,-9 13,-9 q2,0 13,9M717,195 q13,-8 15,-8 q2,0 15,8M735,187 q15,-10 17,-10 q2,0 17,10M576,225 q21,-16 23,-16 q2,0 23,16M724,243 q7,-3 10,-3 q3,0 10,3M746,219 q8,-6 10,-6 q2,0 10,6M613,219 q23,-18 25,-18 q2,0 25,18M667,208 q16,-11 18,-11 q2,0 18,11M603,253 q13,-9 15,-9 q2,0 15,9M589,192 q23,-14 26,-14 q3,0 26,14M559,229 q22,-15 24,-15 q2,0 24,15M732,212 q5,-3 8,-3 q3,0 8,3M780,226 q13,-5 16,-5 q3,0 16,5M729,252 q8,-4 11,-4 q3,0 11,4M677,187 q22,-14 24,-14 q2,0 24,14M663,192 q21,-12 23,-12 q2,0 23,12M550,241 q24,-15 26,-15 q2,0 26,15M769,256 q21,-13 23,-13 q2,0 23,13M659,231 q14,-6 17,-6 q3,0 17,6M651,191 q17,-12 19,-12 q2,0 19,12M779,196 q8,-5 10,-5 q2,0 10,5M735,238 q5,-3 8,-3 q3,0 8,3M545,215 q19,-13 21,-13 q2,0 21,13M588,230 q7,-5 9,-5 q2,0 9,5M654,191 q20,-10 23,-10 q3,0 23,10M637,257 q14,-11 16,-11 q2,0 16,11M684,243 q9,-6 11,-6 q2,0 11,6M597,254 q11,-7 13,-7 q2,0 13,7M692,204 q16,-11 18,-11 q2,0 18,11M646,181 q9,-7 11,-7 q2,0 11,7M742,258 q22,-10 25,-10 q3,0 25,10M769,196 q20,-9 23,-9 q3,0 23,9M574,207 q12,-9 14,-9 q2,0 14,9M728,240 q5,-2 8,-2 q3,0 8,2M711,177 q7,-4 10,-4 q3,0 10,4M704,251 q14,-7 17,-7 q3,0 17,7M712,242 q23,-13 26,-13 q3,0 26,13M755,235 q23,-17 25,-17 q2,0 25,17M692,225 q12,-7 15,-7 q3,0 15,7M569,206 q11,-7 14,-7 q3,0 14,7M594,255 q11,-8 13,-8 q2,0 13,8M752,244 q20,-10 23,-10 q3,0 23,10M673,194 q14,-11 16,-11 q2,0 16,11M626,222 q16,-8 19,-8 q3,0 19,8M544,257 q22,-13 24,-13 q2,0 24,13M793,214 q9,-7 11,-7 q2,0 11,7M709,176 q16,-11 18,-11 q2,0 18,11M709,228 q23,-14 26,-14 q3,0 26,14M775,260 q14,-11 16,-11 q2,0 16,11M633,254 q11,-5 14,-5 q3,0 14,5M571,223 q14,-10 16,-10 q2,0 16,10M604,258 q19,-11 22,-11 q3,0 22,11M745,173 q7,-3 10,-3 q3,0 10,3M771,175 q14,-9 16,-9 q2,0 16,9M707,178 q17,-7 20,-7 q3,0 20,7M561,214 q17,-13 19,-13 q2,0 19,13M606,178 q11,-8 13,-8 q2,0 13,8M575,189 q13,-8 16,-8 q3,0 16,8M702,195 q10,-6 13,-6 q3,0 13,6M674,228 q11,-8 13,-8 q2,0 13,8M587,198 q18,-11 20,-11 q2,0 20,11M792,169 q5,-2 8,-2 q3,0 8,2M653,194 q10,-8 12,-8 q2,0 12,8M556,194 q12,-8 14,-8 q2,0 14,8M605,226 q12,-6 15,-6 q3,0 15,6M723,214 q20,-12 23,-12 q3,0 23,12M671,174 q20,-10 23,-10 q3,0 23,10M621,225 q11,-7 14,-7 q3,0 14,7M706,257 q16,-10 18,-10 q2,0 18,10M651,221 q10,-6 12,-6 q2,0 12,6M781,192 q13,-7 16,-7 q3,0 16,7M629,214 q18,-11 20,-11 q2,0 20,11M766,226 q5,-3 8,-3 q3,0 8,3M568,231 q15,-9 18,-9 q3,0 18,9M600,230 q12,-6 15,-6 q3,0 15,6M707,187 q10,-7 12,-7 q2,0 12,7M605,205 q15,-7 18,-7 q3,0 18,7M640,227 q10,-5 13,-5 q3,0 13,5M611,228 q10,-5 13,-5 q3,0 13,5M577,217 q11,-6 14,-6 q3,0 14,6M723,210 q22,-12 25,-12 q3,0 25,12M634,198 q13,-6 17,-6 q4,0 17,6M762,257 q13,-8 15,-8 q2,0 15,8M722,196 q13,-10 15,-10 q2,0 15,10M675,231 q21,-15 23,-15 q2,0 23,15M666,190 q12,-6 15,-6 q3,0 15,6M731,175 q15,-9 17,-9 q2,0 17,9M546,181 q14,-9 17,-9 q3,0 17,9M653,178 q13,-8 16,-8 q3,0 16,8M773,229 q6,-4 8,-4 q2,0 8,4M580,185 q17,-11 19,-11 q2,0 19,11M565,174 q22,-11 25,-11 q3,0 25,11M642,211 q19,-9 22,-9 q3,0 22,9M742,179 q14,-6 18,-6 q4,0 18,6M608,195 q15,-9 17,-9 q2,0 17,9M617,194 q8,-4 11,-4 q3,0 11,4M777,252 q14,-7 17,-7 q3,0 17,7M703,177 q5,-3 8,-3 q3,0 8,3M720,225 q11,-8 13,-8 q2,0 13,8M624,173 q16,-7 19,-7 q3,0 19,7M597,228 q16,-7 19,-7 q3,0 19,7M587,190 q14,-11 16,-11 q2,0 16,11M645,202 q22,-17 24,-17 q2,0 24,17M728,199 q23,-15 25,-15 q2,0 25,15M642,199 q17,-13 19,-13 q2,0 19,13M746,197 q20,-11 23,-11 q3,0 23,11M743,247 q11,-5 14,-5 q3,0 14,5M536,194 q23,-14 25,-14 q2,0 25,14M734,221 q18,-10 21,-10 q3,0 21,10M623,196 q12,-5 15,-5 q3,0 15,5M712,177 q7,-5 9,-5 q2,0 9,5M631,211 q7,-3 11,-3 q4,0 11,3M678,243 q10,-6 13,-6 q3,0 13,6M664,229 q9,-4 12,-4 q3,0 12,4M752,218 q6,-4 8,-4 q2,0 8,4M775,198 q14,-8 16,-8 q2,0 16,8M604,212 q19,-10 22,-10 q3,0 22,10M753,249 q23,-14 26,-14 q3,0 26,14M576,202 q19,-14 21,-14 q2,0 21,14M707,197 q6,-3 9,-3 q3,0 9,3M621,216 q21,-12 24,-12 q3,0 24,12M739,240 q5,-2 9,-2 q4,0 9,2M556,238 q16,-7 19,-7 q3,0 19,7M562,253 q11,-8 13,-8 q2,0 13,8M657,212 q5,-2 9,-2 q4,0 9,2M660,207 q8,-5 10,-5 q2,0 10,5M580,194 q8,-5 10,-5 q2,0 10,5M581,244 q15,-11 17,-11 q2,0 17,11M593,190 q10,-6 13,-6 q3,0 13,6M550,233 q12,-7 14,-7 q2,0 14,7M712,200 q10,-5 13,-5 q3,0 13,5M693,234 q16,-11 18,-11 q2,0 18,11M631,236 q13,-7 16,-7 q3,0 16,7M575,205 q15,-9 17,-9 q2,0 17,9M734,234 q18,-8 21,-8 q3,0 21,8M548,183 q16,-10 18,-10 q2,0 18,10M757,244 q15,-6 18,-6 q3,0 18,6M706,192 q10,-6 13,-6 q3,0 13,6M628,210 q24,-15 26,-15 q2,0 26,15M545,247 q20,-13 22,-13 q2,0 22,13M686,236 q15,-12 17,-12 q2,0 17,12M662,174 q6,-3 10,-3 q4,0 10,3M619,237 q13,-5 17,-5 q4,0 17,5M655,175 q8,-5 11,-5 q3,0 11,5M714,202 q12,-6 15,-6 q3,0 15,6M714,245 q21,-11 24,-11 q3,0 24,11M665,235 q15,-9 17,-9 q2,0 17,9M576,173 q10,-6 12,-6 q2,0 12,6M540,213 q15,-12 17,-12 q2,0 17,12M626,171 q5,-3 8,-3 q3,0 8,3M643,243 q10,-6 13,-6 q3,0 13,6M547,253 q8,-5 10,-5 q2,0 10,5M624,208 q23,-13 26,-13 q3,0 26,13M561,189 q14,-10 16,-10 q2,0 16,10M667,220 q18,-8 22,-8 q4,0 22,8M679,250 q10,-6 12,-6 q2,0 12,6M699,217 q19,-8 23,-8 q4,0 23,8M786,247 q7,-6 9,-6 q2,0 9,6M777,180 q9,-7 11,-7 q2,0 11,7M563,185 q19,-13 21,-13 q2,0 21,13M697,197 q6,-4 9,-4 q3,0 9,4M646,223 q9,-5 11,-5 q2,0 11,5M622,233 q13,-9 15,-9 q2,0 15,9M770,229 q9,-5 11,-5 q2,0 11,5M581,249 q23,-15 25,-15 q2,0 25,15M711,186 q13,-10 15,-10 q2,0 15,10M649,193 q8,-6 10,-6 q2,0 10,6M753,249 q8,-3 11,-3 q3,0 11,3M613,180 q12,-5 16,-5 q4,0 16,5M742,192 q21,-15 23,-15 q2,0 23,15M792,228 q6,-2 9,-2 q3,0 9,2M560,191 q14,-6 17,-6 q3,0 17,6M737,185 q23,-18 25,-18 q2,0 25,18M748,207 q23,-15 25,-15 q2,0 25,15M783,244 q9,-6 11,-6 q2,0 11,6M722,218 q13,-10 15,-10 q2,0 15,10M672,205 q6,-2 9,-2 q3,0 9,2M741,183 q8,-4 11,-4 q3,0 11,4M686,173 q17,-8 20,-8 q3,0 20,8M741,211 q8,-6 10,-6 q2,0 10,6M688,196 q10,-6 12,-6 q2,0 12,6M593,248 q13,-6 16,-6 q3,0 16,6M775,210 q17,-7 20,-7 q3,0 20,7M776,190 q24,-15 26,-15 q2,0 26,15M704,212 q6,-5 8,-5 q2,0 8,5M709,230 q13,-6 16,-6 q3,0 16,6M769,229 q15,-7 18,-7 q3,0 18,7M558,180 q23,-11 26,-11 q3,0 26,11M768,191 q8,-5 11,-5 q3,0 11,5M576,247 q18,-11 20,-11 q2,0 20,11M722,234 q22,-14 24,-14 q2,0 24,14M592,231 q22,-9 26,-9 q4,0 26,9M595,242 q10,-5 13,-5 q3,0 13,5M626,189 q18,-10 21,-10 q3,0 21,10M570,176 q11,-7 14,-7 q3,0 14,7M676,244 q10,-5 13,-5 q3,0 13,5M778,180 q15,-7 18,-7 q3,0 18,7M748,226 q15,-12 17,-12 q2,0 17,12M694,221 q10,-6 12,-6 q2,0 12,6M759,206 q21,-13 24,-13 q3,0 24,13M569,223 q21,-10 24,-10 q3,0 24,10M756,215 q22,-9 26,-9 q4,0 26,9M769,174 q22,-9 26,-9 q4,0 26,9M560,211 q22,-15 24,-15 q2,0 24,15M783,251 q20,-16 22,-16 q2,0 22,16M590,221 q19,-12 21,-12 q2,0 21,12M748,259 q20,-13 22,-13 q2,0 22,13M682,210 q10,-8 12,-8 q2,0 12,8M721,183 q20,-16 22,-16 q2,0 22,16M743,237 q21,-11 24,-11 q3,0 24,11M630,173 q9,-7 11,-7 q2,0 11,7M687,215 q13,-10 15,-10 q2,0 15,10M610,233 q20,-8 24,-8 q4,0 24,8M726,213 q7,-4 10,-4 q3,0 10,4M535,237 q19,-12 21,-12 q2,0 21,12M574,224 q10,-5 13,-5 q3,0 13,5M755,208 q6,-3 9,-3 q3,0 9,3M729,232 q8,-4 11,-4 q3,0 11,4M752,249 q18,-11 21,-11 q3,0 21,11M574,172 q9,-7 11,-7 q2,0 11,7M743,232 q16,-10 18,-10 q2,0 18,10M667,248 q22,-17 24,-17 q2,0 24,17M701,180 q17,-13 19,-13 q2,0 19,13M585,183 q14,-10 16,-10 q2,0 16,10M673,250 q12,-7 15,-7 q3,0 15,7M739,177 q5,-3 8,-3 q3,0 8,3M752,177 q21,-11 24,-11 q3,0 24,11M559,207 q9,-4 12,-4 q3,0 12,4M626,235 q8,-4 11,-4 q3,0 11,4M627,194 q7,-5 9,-5 q2,0 9,5M743,240 q18,-8 21,-8 q3,0 21,8M762,245 q10,-5 13,-5 q3,0 13,5M751,197 q11,-5 14,-5 q3,0 14,5M593,260 q16,-12 18,-12 q2,0 18,12M734,241 q20,-11 23,-11 q3,0 23,11M729,193 q12,-9 14,-9 q2,0 14,9M735,236 q8,-6 10,-6 q2,0 10,6M683,226 q15,-7 18,-7 q3,0 18,7M698,213 q8,-5 10,-5 q2,0 10,5M671,215 q17,-10 19,-10 q2,0 19,10" stroke="#fff" stroke-opacity="0.13"/>
<path d="M687,203 q20,-8 24,-8 q4,0 24,8M662,243 q7,-5 9,-5 q2,0 9,5M580,229 q17,-8 20,-8 q3,0 20,8M541,230 q12,-8 14,-8 q2,0 14,8M612,219 q22,-9 26,-9 q4,0 26,9M618,191 q10,-6 13,-6 q3,0 13,6M718,174 q11,-5 14,-5 q3,0 14,5M594,221 q19,-10 22,-10 q3,0 22,10M725,212 q13,-6 17,-6 q4,0 17,6M738,182 q15,-12 17,-12 q2,0 17,12M543,206 q17,-12 19,-12 q2,0 19,12M697,219 q16,-12 18,-12 q2,0 18,12M575,198 q10,-6 12,-6 q2,0 12,6M781,230 q21,-12 24,-12 q3,0 24,12M654,202 q20,-10 23,-10 q3,0 23,10M661,233 q8,-5 11,-5 q3,0 11,5M780,257 q21,-16 23,-16 q2,0 23,16M702,208 q17,-10 19,-10 q2,0 19,10M706,224 q14,-10 16,-10 q2,0 16,10M698,214 q16,-8 19,-8 q3,0 19,8M620,246 q18,-10 21,-10 q3,0 21,10M744,238 q20,-16 22,-16 q2,0 22,16M553,187 q18,-8 21,-8 q3,0 21,8M677,231 q14,-10 16,-10 q2,0 16,10M587,205 q11,-7 13,-7 q2,0 13,7M747,195 q22,-12 25,-12 q3,0 25,12M553,171 q8,-4 11,-4 q3,0 11,4M666,251 q15,-12 17,-12 q2,0 17,12M785,247 q7,-4 10,-4 q3,0 10,4M538,186 q19,-9 22,-9 q3,0 22,9M760,227 q7,-3 11,-3 q4,0 11,3M682,189 q9,-7 11,-7 q2,0 11,7M704,255 q21,-16 23,-16 q2,0 23,16M654,209 q15,-11 17,-11 q2,0 17,11M602,216 q8,-5 10,-5 q2,0 10,5M551,197 q8,-6 10,-6 q2,0 10,6M705,247 q10,-8 12,-8 q2,0 12,8M656,244 q23,-14 25,-14 q2,0 25,14M724,180 q8,-5 10,-5 q2,0 10,5M540,234 q22,-14 24,-14 q2,0 24,14M591,240 q21,-17 23,-17 q2,0 23,17M571,182 q17,-12 19,-12 q2,0 19,12M608,247 q17,-12 19,-12 q2,0 19,12M630,201 q17,-11 19,-11 q2,0 19,11M658,242 q15,-6 19,-6 q4,0 19,6M652,236 q18,-10 21,-10 q3,0 21,10M750,231 q20,-9 23,-9 q3,0 23,9M700,179 q17,-11 19,-11 q2,0 19,11M604,214 q8,-6 10,-6 q2,0 10,6M701,228 q11,-5 14,-5 q3,0 14,5M777,209 q8,-5 10,-5 q2,0 10,5M772,171 q12,-8 14,-8 q2,0 14,8M641,174 q6,-5 8,-5 q2,0 8,5M703,222 q24,-16 26,-16 q2,0 26,16M553,213 q18,-13 20,-13 q2,0 20,13M682,233 q10,-6 12,-6 q2,0 12,6M657,214 q6,-4 8,-4 q2,0 8,4M751,195 q8,-4 11,-4 q3,0 11,4M695,176 q9,-5 12,-5 q3,0 12,5M779,210 q8,-4 11,-4 q3,0 11,4M554,185 q11,-6 13,-6 q2,0 13,6M787,167 q8,-3 11,-3 q3,0 11,3M754,192 q12,-10 14,-10 q2,0 14,10M712,234 q7,-4 9,-4 q2,0 9,4M607,242 q15,-9 18,-9 q3,0 18,9M702,212 q5,-3 8,-3 q3,0 8,3M669,199 q20,-16 22,-16 q2,0 22,16M734,248 q23,-15 25,-15 q2,0 25,15M670,220 q17,-13 19,-13 q2,0 19,13M546,206 q11,-6 14,-6 q3,0 14,6M750,246 q18,-9 21,-9 q3,0 21,9M727,190 q15,-11 17,-11 q2,0 17,11M702,225 q22,-11 25,-11 q3,0 25,11M669,234 q12,-7 15,-7 q3,0 15,7M625,213 q22,-17 24,-17 q2,0 24,17M763,176 q17,-9 20,-9 q3,0 20,9M747,234 q16,-8 19,-8 q3,0 19,8M564,244 q8,-5 10,-5 q2,0 10,5M687,188 q23,-16 25,-16 q2,0 25,16M614,231 q18,-14 20,-14 q2,0 20,14M589,200 q21,-15 23,-15 q2,0 23,15M544,183 q8,-3 11,-3 q3,0 11,3M582,173 q9,-5 11,-5 q2,0 11,5M775,245 q8,-5 11,-5 q3,0 11,5M660,185 q7,-3 10,-3 q3,0 10,3M786,242 q7,-4 10,-4 q3,0 10,4M782,190 q5,-2 8,-2 q3,0 8,2M615,229 q21,-12 24,-12 q3,0 24,12M594,256 q14,-9 16,-9 q2,0 16,9M537,212 q17,-12 19,-12 q2,0 19,12M560,253 q12,-10 14,-10 q2,0 14,10M682,227 q21,-12 23,-12 q2,0 23,12M677,238 q22,-9 26,-9 q4,0 26,9M539,214 q19,-14 21,-14 q2,0 21,14M606,234 q4,-2 8,-2 q4,0 8,2M636,206 q9,-5 12,-5 q3,0 12,5M754,236 q22,-9 25,-9 q3,0 25,9M563,182 q16,-8 19,-8 q3,0 19,8M664,172 q13,-6 17,-6 q4,0 17,6M700,244 q17,-10 19,-10 q2,0 19,10M664,223 q17,-12 19,-12 q2,0 19,12M617,225 q21,-15 23,-15 q2,0 23,15M637,179 q13,-9 15,-9 q2,0 15,9M690,230 q11,-7 13,-7 q2,0 13,7M677,239 q17,-10 19,-10 q2,0 19,10M710,178 q23,-11 26,-11 q3,0 26,11M613,188 q20,-12 23,-12 q3,0 23,12M662,249 q17,-13 19,-13 q2,0 19,13M642,211 q15,-8 18,-8 q3,0 18,8M566,207 q15,-6 18,-6 q3,0 18,6M648,224 q6,-3 10,-3 q4,0 10,3M700,194 q16,-12 18,-12 q2,0 18,12M605,170 q8,-3 11,-3 q3,0 11,3M764,251 q9,-5 12,-5 q3,0 12,5M696,244 q16,-12 18,-12 q2,0 18,12M739,178 q13,-7 16,-7 q3,0 16,7M771,216 q20,-16 22,-16 q2,0 22,16M742,240 q22,-17 24,-17 q2,0 24,17M594,241 q5,-2 9,-2 q4,0 9,2M638,225 q19,-10 22,-10 q3,0 22,10M785,202 q11,-9 13,-9 q2,0 13,9M636,182 q13,-8 15,-8 q2,0 15,8M547,203 q8,-4 11,-4 q3,0 11,4M755,240 q20,-12 23,-12 q3,0 23,12M695,193 q10,-4 14,-4 q4,0 14,4M763,257 q12,-10 14,-10 q2,0 14,10M713,229 q14,-10 16,-10 q2,0 16,10M752,246 q19,-14 21,-14 q2,0 21,14M669,226 q17,-11 19,-11 q2,0 19,11M719,201 q20,-16 22,-16 q2,0 22,16M628,259 q17,-12 19,-12 q2,0 19,12M652,223 q20,-15 22,-15 q2,0 22,15M616,251 q18,-8 21,-8 q3,0 21,8M618,216 q8,-6 10,-6 q2,0 10,6M768,202 q6,-3 10,-3 q4,0 10,3M635,177 q22,-10 26,-10 q4,0 26,10M561,226 q14,-6 18,-6 q4,0 18,6M788,190 q7,-4 9,-4 q2,0 9,4M662,237 q19,-12 21,-12 q2,0 21,12M620,175 q23,-10 26,-10 q3,0 26,10M573,199 q5,-2 9,-2 q4,0 9,2M558,178 q14,-8 17,-8 q3,0 17,8M614,197 q22,-14 24,-14 q2,0 24,14M740,242 q8,-5 11,-5 q3,0 11,5M758,253 q9,-4 12,-4 q3,0 12,4M627,175 q11,-8 13,-8 q2,0 13,8M722,246 q24,-18 26,-18 q2,0 26,18M748,211 q13,-8 16,-8 q3,0 16,8M713,241 q22,-11 25,-11 q3,0 25,11M669,218 q6,-4 8,-4 q2,0 8,4M583,227 q23,-12 26,-12 q3,0 26,12M580,189 q23,-11 26,-11 q3,0 26,11M680,196 q20,-10 23,-10 q3,0 23,10M698,186 q23,-14 26,-14 q3,0 26,14M669,220 q13,-5 17,-5 q4,0 17,5M747,224 q15,-7 18,-7 q3,0 18,7M685,225 q20,-9 23,-9 q3,0 23,9M634,257 q18,-12 20,-12 q2,0 20,12M634,176 q11,-9 13,-9 q2,0 13,9M717,195 q13,-8 15,-8 q2,0 15,8M735,187 q15,-10 17,-10 q2,0 17,10M576,225 q21,-16 23,-16 q2,0 23,16M724,243 q7,-3 10,-3 q3,0 10,3M746,219 q8,-6 10,-6 q2,0 10,6M613,219 q23,-18 25,-18 q2,0 25,18M667,208 q16,-11 18,-11 q2,0 18,11M603,253 q13,-9 15,-9 q2,0 15,9M589,192 q23,-14 26,-14 q3,0 26,14M559,229 q22,-15 24,-15 q2,0 24,15M732,212 q5,-3 8,-3 q3,0 8,3M780,226 q13,-5 16,-5 q3,0 16,5M729,252 q8,-4 11,-4 q3,0 11,4M677,187 q22,-14 24,-14 q2,0 24,14M663,192 q21,-12 23,-12 q2,0 23,12M550,241 q24,-15 26,-15 q2,0 26,15M769,256 q21,-13 23,-13 q2,0 23,13M659,231 q14,-6 17,-6 q3,0 17,6M651,191 q17,-12 19,-12 q2,0 19,12M779,196 q8,-5 10,-5 q2,0 10,5M735,238 q5,-3 8,-3 q3,0 8,3M545,215 q19,-13 21,-13 q2,0 21,13M588,230 q7,-5 9,-5 q2,0 9,5M654,191 q20,-10 23,-10 q3,0 23,10M637,257 q14,-11 16,-11 q2,0 16,11M684,243 q9,-6 11,-6 q2,0 11,6M597,254 q11,-7 13,-7 q2,0 13,7M692,204 q16,-11 18,-11 q2,0 18,11M646,181 q9,-7 11,-7 q2,0 11,7M742,258 q22,-10 25,-10 q3,0 25,10M769,196 q20,-9 23,-9 q3,0 23,9M574,207 q12,-9 14,-9 q2,0 14,9M728,240 q5,-2 8,-2 q3,0 8,2M711,177 q7,-4 10,-4 q3,0 10,4M704,251 q14,-7 17,-7 q3,0 17,7M712,242 q23,-13 26,-13 q3,0 26,13M755,235 q23,-17 25,-17 q2,0 25,17M692,225 q12,-7 15,-7 q3,0 15,7M569,206 q11,-7 14,-7 q3,0 14,7M594,255 q11,-8 13,-8 q2,0 13,8M752,244 q20,-10 23,-10 q3,0 23,10M673,194 q14,-11 16,-11 q2,0 16,11M626,222 q16,-8 19,-8 q3,0 19,8M544,257 q22,-13 24,-13 q2,0 24,13M793,214 q9,-7 11,-7 q2,0 11,7M709,176 q16,-11 18,-11 q2,0 18,11M709,228 q23,-14 26,-14 q3,0 26,14M775,260 q14,-11 16,-11 q2,0 16,11M633,254 q11,-5 14,-5 q3,0 14,5M571,223 q14,-10 16,-10 q2,0 16,10M604,258 q19,-11 22,-11 q3,0 22,11M745,173 q7,-3 10,-3 q3,0 10,3M771,175 q14,-9 16,-9 q2,0 16,9M707,178 q17,-7 20,-7 q3,0 20,7M561,214 q17,-13 19,-13 q2,0 19,13M606,178 q11,-8 13,-8 q2,0 13,8M575,189 q13,-8 16,-8 q3,0 16,8M702,195 q10,-6 13,-6 q3,0 13,6M674,228 q11,-8 13,-8 q2,0 13,8M587,198 q18,-11 20,-11 q2,0 20,11M792,169 q5,-2 8,-2 q3,0 8,2M653,194 q10,-8 12,-8 q2,0 12,8M556,194 q12,-8 14,-8 q2,0 14,8M605,226 q12,-6 15,-6 q3,0 15,6M723,214 q20,-12 23,-12 q3,0 23,12M671,174 q20,-10 23,-10 q3,0 23,10M621,225 q11,-7 14,-7 q3,0 14,7M706,257 q16,-10 18,-10 q2,0 18,10M651,221 q10,-6 12,-6 q2,0 12,6M781,192 q13,-7 16,-7 q3,0 16,7M629,214 q18,-11 20,-11 q2,0 20,11M766,226 q5,-3 8,-3 q3,0 8,3M568,231 q15,-9 18,-9 q3,0 18,9M600,230 q12,-6 15,-6 q3,0 15,6M707,187 q10,-7 12,-7 q2,0 12,7M605,205 q15,-7 18,-7 q3,0 18,7M640,227 q10,-5 13,-5 q3,0 13,5M611,228 q10,-5 13,-5 q3,0 13,5M577,217 q11,-6 14,-6 q3,0 14,6M723,210 q22,-12 25,-12 q3,0 25,12M634,198 q13,-6 17,-6 q4,0 17,6M762,257 q13,-8 15,-8 q2,0 15,8M722,196 q13,-10 15,-10 q2,0 15,10M675,231 q21,-15 23,-15 q2,0 23,15M666,190 q12,-6 15,-6 q3,0 15,6M731,175 q15,-9 17,-9 q2,0 17,9M546,181 q14,-9 17,-9 q3,0 17,9M653,178 q13,-8 16,-8 q3,0 16,8M773,229 q6,-4 8,-4 q2,0 8,4M580,185 q17,-11 19,-11 q2,0 19,11M565,174 q22,-11 25,-11 q3,0 25,11M642,211 q19,-9 22,-9 q3,0 22,9M742,179 q14,-6 18,-6 q4,0 18,6M608,195 q15,-9 17,-9 q2,0 17,9M617,194 q8,-4 11,-4 q3,0 11,4M777,252 q14,-7 17,-7 q3,0 17,7M703,177 q5,-3 8,-3 q3,0 8,3M720,225 q11,-8 13,-8 q2,0 13,8M624,173 q16,-7 19,-7 q3,0 19,7M597,228 q16,-7 19,-7 q3,0 19,7M587,190 q14,-11 16,-11 q2,0 16,11M645,202 q22,-17 24,-17 q2,0 24,17M728,199 q23,-15 25,-15 q2,0 25,15M642,199 q17,-13 19,-13 q2,0 19,13M746,197 q20,-11 23,-11 q3,0 23,11M743,247 q11,-5 14,-5 q3,0 14,5M536,194 q23,-14 25,-14 q2,0 25,14M734,221 q18,-10 21,-10 q3,0 21,10M623,196 q12,-5 15,-5 q3,0 15,5M712,177 q7,-5 9,-5 q2,0 9,5M631,211 q7,-3 11,-3 q4,0 11,3M678,243 q10,-6 13,-6 q3,0 13,6M664,229 q9,-4 12,-4 q3,0 12,4M752,218 q6,-4 8,-4 q2,0 8,4M775,198 q14,-8 16,-8 q2,0 16,8M604,212 q19,-10 22,-10 q3,0 22,10M753,249 q23,-14 26,-14 q3,0 26,14M576,202 q19,-14 21,-14 q2,0 21,14M707,197 q6,-3 9,-3 q3,0 9,3M621,216 q21,-12 24,-12 q3,0 24,12M739,240 q5,-2 9,-2 q4,0 9,2M556,238 q16,-7 19,-7 q3,0 19,7M562,253 q11,-8 13,-8 q2,0 13,8M657,212 q5,-2 9,-2 q4,0 9,2M660,207 q8,-5 10,-5 q2,0 10,5M580,194 q8,-5 10,-5 q2,0 10,5M581,244 q15,-11 17,-11 q2,0 17,11M593,190 q10,-6 13,-6 q3,0 13,6M550,233 q12,-7 14,-7 q2,0 14,7M712,200 q10,-5 13,-5 q3,0 13,5M693,234 q16,-11 18,-11 q2,0 18,11M631,236 q13,-7 16,-7 q3,0 16,7M575,205 q15,-9 17,-9 q2,0 17,9M734,234 q18,-8 21,-8 q3,0 21,8M548,183 q16,-10 18,-10 q2,0 18,10M757,244 q15,-6 18,-6 q3,0 18,6M706,192 q10,-6 13,-6 q3,0 13,6M628,210 q24,-15 26,-15 q2,0 26,15M545,247 q20,-13 22,-13 q2,0 22,13M686,236 q15,-12 17,-12 q2,0 17,12M662,174 q6,-3 10,-3 q4,0 10,3M619,237 q13,-5 17,-5 q4,0 17,5M655,175 q8,-5 11,-5 q3,0 11,5M714,202 q12,-6 15,-6 q3,0 15,6M714,245 q21,-11 24,-11 q3,0 24,11M665,235 q15,-9 17,-9 q2,0 17,9M576,173 q10,-6 12,-6 q2,0 12,6M540,213 q15,-12 17,-12 q2,0 17,12M626,171 q5,-3 8,-3 q3,0 8,3M643,243 q10,-6 13,-6 q3,0 13,6M547,253 q8,-5 10,-5 q2,0 10,5M624,208 q23,-13 26,-13 q3,0 26,13M561,189 q14,-10 16,-10 q2,0 16,10M667,220 q18,-8 22,-8 q4,0 22,8M679,250 q10,-6 12,-6 q2,0 12,6M699,217 q19,-8 23,-8 q4,0 23,8M786,247 q7,-6 9,-6 q2,0 9,6M777,180 q9,-7 11,-7 q2,0 11,7M563,185 q19,-13 21,-13 q2,0 21,13M697,197 q6,-4 9,-4 q3,0 9,4M646,223 q9,-5 11,-5 q2,0 11,5M622,233 q13,-9 15,-9 q2,0 15,9M770,229 q9,-5 11,-5 q2,0 11,5M581,249 q23,-15 25,-15 q2,0 25,15M711,186 q13,-10 15,-10 q2,0 15,10M649,193 q8,-6 10,-6 q2,0 10,6M753,249 q8,-3 11,-3 q3,0 11,3M613,180 q12,-5 16,-5 q4,0 16,5M742,192 q21,-15 23,-15 q2,0 23,15M792,228 q6,-2 9,-2 q3,0 9,2M560,191 q14,-6 17,-6 q3,0 17,6M737,185 q23,-18 25,-18 q2,0 25,18M748,207 q23,-15 25,-15 q2,0 25,15M783,244 q9,-6 11,-6 q2,0 11,6M722,218 q13,-10 15,-10 q2,0 15,10M672,205 q6,-2 9,-2 q3,0 9,2M741,183 q8,-4 11,-4 q3,0 11,4M686,173 q17,-8 20,-8 q3,0 20,8M741,211 q8,-6 10,-6 q2,0 10,6M688,196 q10,-6 12,-6 q2,0 12,6M593,248 q13,-6 16,-6 q3,0 16,6M775,210 q17,-7 20,-7 q3,0 20,7M776,190 q24,-15 26,-15 q2,0 26,15M704,212 q6,-5 8,-5 q2,0 8,5M709,230 q13,-6 16,-6 q3,0 16,6M769,229 q15,-7 18,-7 q3,0 18,7M558,180 q23,-11 26,-11 q3,0 26,11M768,191 q8,-5 11,-5 q3,0 11,5M576,247 q18,-11 20,-11 q2,0 20,11M722,234 q22,-14 24,-14 q2,0 24,14M592,231 q22,-9 26,-9 q4,0 26,9M595,242 q10,-5 13,-5 q3,0 13,5M626,189 q18,-10 21,-10 q3,0 21,10M570,176 q11,-7 14,-7 q3,0 14,7M676,244 q10,-5 13,-5 q3,0 13,5M778,180 q15,-7 18,-7 q3,0 18,7M748,226 q15,-12 17,-12 q2,0 17,12M694,221 q10,-6 12,-6 q2,0 12,6M759,206 q21,-13 24,-13 q3,0 24,13M569,223 q21,-10 24,-10 q3,0 24,10M756,215 q22,-9 26,-9 q4,0 26,9M769,174 q22,-9 26,-9 q4,0 26,9M560,211 q22,-15 24,-15 q2,0 24,15M783,251 q20,-16 22,-16 q2,0 22,16M590,221 q19,-12 21,-12 q2,0 21,12M748,259 q20,-13 22,-13 q2,0 22,13M682,210 q10,-8 12,-8 q2,0 12,8M721,183 q20,-16 22,-16 q2,0 22,16M743,237 q21,-11 24,-11 q3,0 24,11M630,173 q9,-7 11,-7 q2,0 11,7M687,215 q13,-10 15,-10 q2,0 15,10M610,233 q20,-8 24,-8 q4,0 24,8M726,213 q7,-4 10,-4 q3,0 10,4M535,237 q19,-12 21,-12 q2,0 21,12M574,224 q10,-5 13,-5 q3,0 13,5M755,208 q6,-3 9,-3 q3,0 9,3M729,232 q8,-4 11,-4 q3,0 11,4M752,249 q18,-11 21,-11 q3,0 21,11M574,172 q9,-7 11,-7 q2,0 11,7M743,232 q16,-10 18,-10 q2,0 18,10M667,248 q22,-17 24,-17 q2,0 24,17M701,180 q17,-13 19,-13 q2,0 19,13M585,183 q14,-10 16,-10 q2,0 16,10M673,250 q12,-7 15,-7 q3,0 15,7M739,177 q5,-3 8,-3 q3,0 8,3M752,177 q21,-11 24,-11 q3,0 24,11M559,207 q9,-4 12,-4 q3,0 12,4M626,235 q8,-4 11,-4 q3,0 11,4M627,194 q7,-5 9,-5 q2,0 9,5M743,240 q18,-8 21,-8 q3,0 21,8M762,245 q10,-5 13,-5 q3,0 13,5M751,197 q11,-5 14,-5 q3,0 14,5M593,260 q16,-12 18,-12 q2,0 18,12M734,241 q20,-11 23,-11 q3,0 23,11M729,193 q12,-9 14,-9 q2,0 14,9M735,236 q8,-6 10,-6 q2,0 10,6M683,226 q15,-7 18,-7 q3,0 18,7M698,213 q8,-5 10,-5 q2,0 10,5M671,215 q17,-10 19,-10 q2,0 19,10" stroke="#000" stroke-opacity="0.13" transform="translate(0 2.6)"/>
<path d="M687,203 q20,-8 24,-8 q4,0 24,8M662,243 q7,-5 9,-5 q2,0 9,5M580,229 q17,-8 20,-8 q3,0 20,8M541,230 q12,-8 14,-8 q2,0 14,8M612,219 q22,-9 26,-9 q4,0 26,9M618,191 q10,-6 13,-6 q3,0 13,6M718,174 q11,-5 14,-5 q3,0 14,5M594,221 q19,-10 22,-10 q3,0 22,10M725,212 q13,-6 17,-6 q4,0 17,6M738,182 q15,-12 17,-12 q2,0 17,12M543,206 q17,-12 19,-12 q2,0 19,12M697,219 q16,-12 18,-12 q2,0 18,12M575,198 q10,-6 12,-6 q2,0 12,6M781,230 q21,-12 24,-12 q3,0 24,12M654,202 q20,-10 23,-10 q3,0 23,10M661,233 q8,-5 11,-5 q3,0 11,5M780,257 q21,-16 23,-16 q2,0 23,16M702,208 q17,-10 19,-10 q2,0 19,10M706,224 q14,-10 16,-10 q2,0 16,10M698,214 q16,-8 19,-8 q3,0 19,8M620,246 q18,-10 21,-10 q3,0 21,10M744,238 q20,-16 22,-16 q2,0 22,16M553,187 q18,-8 21,-8 q3,0 21,8M677,231 q14,-10 16,-10 q2,0 16,10M587,205 q11,-7 13,-7 q2,0 13,7M747,195 q22,-12 25,-12 q3,0 25,12M553,171 q8,-4 11,-4 q3,0 11,4M666,251 q15,-12 17,-12 q2,0 17,12M785,247 q7,-4 10,-4 q3,0 10,4M538,186 q19,-9 22,-9 q3,0 22,9M760,227 q7,-3 11,-3 q4,0 11,3M682,189 q9,-7 11,-7 q2,0 11,7M704,255 q21,-16 23,-16 q2,0 23,16M654,209 q15,-11 17,-11 q2,0 17,11M602,216 q8,-5 10,-5 q2,0 10,5M551,197 q8,-6 10,-6 q2,0 10,6M705,247 q10,-8 12,-8 q2,0 12,8M656,244 q23,-14 25,-14 q2,0 25,14M724,180 q8,-5 10,-5 q2,0 10,5M540,234 q22,-14 24,-14 q2,0 24,14M591,240 q21,-17 23,-17 q2,0 23,17M571,182 q17,-12 19,-12 q2,0 19,12M608,247 q17,-12 19,-12 q2,0 19,12M630,201 q17,-11 19,-11 q2,0 19,11M658,242 q15,-6 19,-6 q4,0 19,6M652,236 q18,-10 21,-10 q3,0 21,10M750,231 q20,-9 23,-9 q3,0 23,9M700,179 q17,-11 19,-11 q2,0 19,11M604,214 q8,-6 10,-6 q2,0 10,6M701,228 q11,-5 14,-5 q3,0 14,5M777,209 q8,-5 10,-5 q2,0 10,5M772,171 q12,-8 14,-8 q2,0 14,8M641,174 q6,-5 8,-5 q2,0 8,5M703,222 q24,-16 26,-16 q2,0 26,16M553,213 q18,-13 20,-13 q2,0 20,13M682,233 q10,-6 12,-6 q2,0 12,6M657,214 q6,-4 8,-4 q2,0 8,4M751,195 q8,-4 11,-4 q3,0 11,4M695,176 q9,-5 12,-5 q3,0 12,5M779,210 q8,-4 11,-4 q3,0 11,4M554,185 q11,-6 13,-6 q2,0 13,6M787,167 q8,-3 11,-3 q3,0 11,3M754,192 q12,-10 14,-10 q2,0 14,10M712,234 q7,-4 9,-4 q2,0 9,4M607,242 q15,-9 18,-9 q3,0 18,9M702,212 q5,-3 8,-3 q3,0 8,3M669,199 q20,-16 22,-16 q2,0 22,16M734,248 q23,-15 25,-15 q2,0 25,15M670,220 q17,-13 19,-13 q2,0 19,13M546,206 q11,-6 14,-6 q3,0 14,6M750,246 q18,-9 21,-9 q3,0 21,9M727,190 q15,-11 17,-11 q2,0 17,11M702,225 q22,-11 25,-11 q3,0 25,11M669,234 q12,-7 15,-7 q3,0 15,7M625,213 q22,-17 24,-17 q2,0 24,17M763,176 q17,-9 20,-9 q3,0 20,9M747,234 q16,-8 19,-8 q3,0 19,8M564,244 q8,-5 10,-5 q2,0 10,5M687,188 q23,-16 25,-16 q2,0 25,16M614,231 q18,-14 20,-14 q2,0 20,14M589,200 q21,-15 23,-15 q2,0 23,15M544,183 q8,-3 11,-3 q3,0 11,3M582,173 q9,-5 11,-5 q2,0 11,5M775,245 q8,-5 11,-5 q3,0 11,5M660,185 q7,-3 10,-3 q3,0 10,3M786,242 q7,-4 10,-4 q3,0 10,4M782,190 q5,-2 8,-2 q3,0 8,2M615,229 q21,-12 24,-12 q3,0 24,12M594,256 q14,-9 16,-9 q2,0 16,9M537,212 q17,-12 19,-12 q2,0 19,12M560,253 q12,-10 14,-10 q2,0 14,10M682,227 q21,-12 23,-12 q2,0 23,12M677,238 q22,-9 26,-9 q4,0 26,9M539,214 q19,-14 21,-14 q2,0 21,14M606,234 q4,-2 8,-2 q4,0 8,2M636,206 q9,-5 12,-5 q3,0 12,5M754,236 q22,-9 25,-9 q3,0 25,9M563,182 q16,-8 19,-8 q3,0 19,8M664,172 q13,-6 17,-6 q4,0 17,6M700,244 q17,-10 19,-10 q2,0 19,10M664,223 q17,-12 19,-12 q2,0 19,12M617,225 q21,-15 23,-15 q2,0 23,15M637,179 q13,-9 15,-9 q2,0 15,9M690,230 q11,-7 13,-7 q2,0 13,7M677,239 q17,-10 19,-10 q2,0 19,10M710,178 q23,-11 26,-11 q3,0 26,11M613,188 q20,-12 23,-12 q3,0 23,12M662,249 q17,-13 19,-13 q2,0 19,13M642,211 q15,-8 18,-8 q3,0 18,8M566,207 q15,-6 18,-6 q3,0 18,6M648,224 q6,-3 10,-3 q4,0 10,3M700,194 q16,-12 18,-12 q2,0 18,12M605,170 q8,-3 11,-3 q3,0 11,3M764,251 q9,-5 12,-5 q3,0 12,5M696,244 q16,-12 18,-12 q2,0 18,12M739,178 q13,-7 16,-7 q3,0 16,7M771,216 q20,-16 22,-16 q2,0 22,16M742,240 q22,-17 24,-17 q2,0 24,17M594,241 q5,-2 9,-2 q4,0 9,2M638,225 q19,-10 22,-10 q3,0 22,10M785,202 q11,-9 13,-9 q2,0 13,9M636,182 q13,-8 15,-8 q2,0 15,8M547,203 q8,-4 11,-4 q3,0 11,4M755,240 q20,-12 23,-12 q3,0 23,12M695,193 q10,-4 14,-4 q4,0 14,4M763,257 q12,-10 14,-10 q2,0 14,10M713,229 q14,-10 16,-10 q2,0 16,10M752,246 q19,-14 21,-14 q2,0 21,14M669,226 q17,-11 19,-11 q2,0 19,11M719,201 q20,-16 22,-16 q2,0 22,16M628,259 q17,-12 19,-12 q2,0 19,12M652,223 q20,-15 22,-15 q2,0 22,15M616,251 q18,-8 21,-8 q3,0 21,8M618,216 q8,-6 10,-6 q2,0 10,6M768,202 q6,-3 10,-3 q4,0 10,3M635,177 q22,-10 26,-10 q4,0 26,10M561,226 q14,-6 18,-6 q4,0 18,6M788,190 q7,-4 9,-4 q2,0 9,4M662,237 q19,-12 21,-12 q2,0 21,12M620,175 q23,-10 26,-10 q3,0 26,10M573,199 q5,-2 9,-2 q4,0 9,2M558,178 q14,-8 17,-8 q3,0 17,8M614,197 q22,-14 24,-14 q2,0 24,14M740,242 q8,-5 11,-5 q3,0 11,5M758,253 q9,-4 12,-4 q3,0 12,4M627,175 q11,-8 13,-8 q2,0 13,8M722,246 q24,-18 26,-18 q2,0 26,18M748,211 q13,-8 16,-8 q3,0 16,8M713,241 q22,-11 25,-11 q3,0 25,11M669,218 q6,-4 8,-4 q2,0 8,4M583,227 q23,-12 26,-12 q3,0 26,12M580,189 q23,-11 26,-11 q3,0 26,11M680,196 q20,-10 23,-10 q3,0 23,10M698,186 q23,-14 26,-14 q3,0 26,14M669,220 q13,-5 17,-5 q4,0 17,5M747,224 q15,-7 18,-7 q3,0 18,7M685,225 q20,-9 23,-9 q3,0 23,9M634,257 q18,-12 20,-12 q2,0 20,12M634,176 q11,-9 13,-9 q2,0 13,9M717,195 q13,-8 15,-8 q2,0 15,8M735,187 q15,-10 17,-10 q2,0 17,10M576,225 q21,-16 23,-16 q2,0 23,16M724,243 q7,-3 10,-3 q3,0 10,3M746,219 q8,-6 10,-6 q2,0 10,6M613,219 q23,-18 25,-18 q2,0 25,18M667,208 q16,-11 18,-11 q2,0 18,11M603,253 q13,-9 15,-9 q2,0 15,9M589,192 q23,-14 26,-14 q3,0 26,14M559,229 q22,-15 24,-15 q2,0 24,15M732,212 q5,-3 8,-3 q3,0 8,3M780,226 q13,-5 16,-5 q3,0 16,5M729,252 q8,-4 11,-4 q3,0 11,4M677,187 q22,-14 24,-14 q2,0 24,14M663,192 q21,-12 23,-12 q2,0 23,12M550,241 q24,-15 26,-15 q2,0 26,15M769,256 q21,-13 23,-13 q2,0 23,13M659,231 q14,-6 17,-6 q3,0 17,6M651,191 q17,-12 19,-12 q2,0 19,12M779,196 q8,-5 10,-5 q2,0 10,5M735,238 q5,-3 8,-3 q3,0 8,3M545,215 q19,-13 21,-13 q2,0 21,13M588,230 q7,-5 9,-5 q2,0 9,5M654,191 q20,-10 23,-10 q3,0 23,10M637,257 q14,-11 16,-11 q2,0 16,11M684,243 q9,-6 11,-6 q2,0 11,6M597,254 q11,-7 13,-7 q2,0 13,7M692,204 q16,-11 18,-11 q2,0 18,11M646,181 q9,-7 11,-7 q2,0 11,7M742,258 q22,-10 25,-10 q3,0 25,10M769,196 q20,-9 23,-9 q3,0 23,9M574,207 q12,-9 14,-9 q2,0 14,9M728,240 q5,-2 8,-2 q3,0 8,2M711,177 q7,-4 10,-4 q3,0 10,4M704,251 q14,-7 17,-7 q3,0 17,7M712,242 q23,-13 26,-13 q3,0 26,13M755,235 q23,-17 25,-17 q2,0 25,17M692,225 q12,-7 15,-7 q3,0 15,7M569,206 q11,-7 14,-7 q3,0 14,7M594,255 q11,-8 13,-8 q2,0 13,8M752,244 q20,-10 23,-10 q3,0 23,10M673,194 q14,-11 16,-11 q2,0 16,11M626,222 q16,-8 19,-8 q3,0 19,8M544,257 q22,-13 24,-13 q2,0 24,13M793,214 q9,-7 11,-7 q2,0 11,7M709,176 q16,-11 18,-11 q2,0 18,11M709,228 q23,-14 26,-14 q3,0 26,14M775,260 q14,-11 16,-11 q2,0 16,11M633,254 q11,-5 14,-5 q3,0 14,5M571,223 q14,-10 16,-10 q2,0 16,10M604,258 q19,-11 22,-11 q3,0 22,11M745,173 q7,-3 10,-3 q3,0 10,3M771,175 q14,-9 16,-9 q2,0 16,9M707,178 q17,-7 20,-7 q3,0 20,7M561,214 q17,-13 19,-13 q2,0 19,13M606,178 q11,-8 13,-8 q2,0 13,8M575,189 q13,-8 16,-8 q3,0 16,8M702,195 q10,-6 13,-6 q3,0 13,6M674,228 q11,-8 13,-8 q2,0 13,8M587,198 q18,-11 20,-11 q2,0 20,11M792,169 q5,-2 8,-2 q3,0 8,2M653,194 q10,-8 12,-8 q2,0 12,8M556,194 q12,-8 14,-8 q2,0 14,8M605,226 q12,-6 15,-6 q3,0 15,6M723,214 q20,-12 23,-12 q3,0 23,12M671,174 q20,-10 23,-10 q3,0 23,10M621,225 q11,-7 14,-7 q3,0 14,7M706,257 q16,-10 18,-10 q2,0 18,10M651,221 q10,-6 12,-6 q2,0 12,6M781,192 q13,-7 16,-7 q3,0 16,7M629,214 q18,-11 20,-11 q2,0 20,11M766,226 q5,-3 8,-3 q3,0 8,3M568,231 q15,-9 18,-9 q3,0 18,9M600,230 q12,-6 15,-6 q3,0 15,6M707,187 q10,-7 12,-7 q2,0 12,7M605,205 q15,-7 18,-7 q3,0 18,7M640,227 q10,-5 13,-5 q3,0 13,5M611,228 q10,-5 13,-5 q3,0 13,5M577,217 q11,-6 14,-6 q3,0 14,6M723,210 q22,-12 25,-12 q3,0 25,12M634,198 q13,-6 17,-6 q4,0 17,6M762,257 q13,-8 15,-8 q2,0 15,8M722,196 q13,-10 15,-10 q2,0 15,10M675,231 q21,-15 23,-15 q2,0 23,15M666,190 q12,-6 15,-6 q3,0 15,6M731,175 q15,-9 17,-9 q2,0 17,9M546,181 q14,-9 17,-9 q3,0 17,9M653,178 q13,-8 16,-8 q3,0 16,8M773,229 q6,-4 8,-4 q2,0 8,4M580,185 q17,-11 19,-11 q2,0 19,11M565,174 q22,-11 25,-11 q3,0 25,11M642,211 q19,-9 22,-9 q3,0 22,9M742,179 q14,-6 18,-6 q4,0 18,6M608,195 q15,-9 17,-9 q2,0 17,9M617,194 q8,-4 11,-4 q3,0 11,4M777,252 q14,-7 17,-7 q3,0 17,7M703,177 q5,-3 8,-3 q3,0 8,3M720,225 q11,-8 13,-8 q2,0 13,8M624,173 q16,-7 19,-7 q3,0 19,7M597,228 q16,-7 19,-7 q3,0 19,7M587,190 q14,-11 16,-11 q2,0 16,11M645,202 q22,-17 24,-17 q2,0 24,17M728,199 q23,-15 25,-15 q2,0 25,15M642,199 q17,-13 19,-13 q2,0 19,13M746,197 q20,-11 23,-11 q3,0 23,11M743,247 q11,-5 14,-5 q3,0 14,5M536,194 q23,-14 25,-14 q2,0 25,14M734,221 q18,-10 21,-10 q3,0 21,10M623,196 q12,-5 15,-5 q3,0 15,5M712,177 q7,-5 9,-5 q2,0 9,5M631,211 q7,-3 11,-3 q4,0 11,3M678,243 q10,-6 13,-6 q3,0 13,6M664,229 q9,-4 12,-4 q3,0 12,4M752,218 q6,-4 8,-4 q2,0 8,4M775,198 q14,-8 16,-8 q2,0 16,8M604,212 q19,-10 22,-10 q3,0 22,10M753,249 q23,-14 26,-14 q3,0 26,14M576,202 q19,-14 21,-14 q2,0 21,14M707,197 q6,-3 9,-3 q3,0 9,3M621,216 q21,-12 24,-12 q3,0 24,12M739,240 q5,-2 9,-2 q4,0 9,2M556,238 q16,-7 19,-7 q3,0 19,7M562,253 q11,-8 13,-8 q2,0 13,8M657,212 q5,-2 9,-2 q4,0 9,2M660,207 q8,-5 10,-5 q2,0 10,5M580,194 q8,-5 10,-5 q2,0 10,5M581,244 q15,-11 17,-11 q2,0 17,11M593,190 q10,-6 13,-6 q3,0 13,6M550,233 q12,-7 14,-7 q2,0 14,7M712,200 q10,-5 13,-5 q3,0 13,5M693,234 q16,-11 18,-11 q2,0 18,11M631,236 q13,-7 16,-7 q3,0 16,7M575,205 q15,-9 17,-9 q2,0 17,9M734,234 q18,-8 21,-8 q3,0 21,8M548,183 q16,-10 18,-10 q2,0 18,10M757,244 q15,-6 18,-6 q3,0 18,6M706,192 q10,-6 13,-6 q3,0 13,6M628,210 q24,-15 26,-15 q2,0 26,15M545,247 q20,-13 22,-13 q2,0 22,13M686,236 q15,-12 17,-12 q2,0 17,12M662,174 q6,-3 10,-3 q4,0 10,3M619,237 q13,-5 17,-5 q4,0 17,5M655,175 q8,-5 11,-5 q3,0 11,5M714,202 q12,-6 15,-6 q3,0 15,6M714,245 q21,-11 24,-11 q3,0 24,11M665,235 q15,-9 17,-9 q2,0 17,9M576,173 q10,-6 12,-6 q2,0 12,6M540,213 q15,-12 17,-12 q2,0 17,12M626,171 q5,-3 8,-3 q3,0 8,3M643,243 q10,-6 13,-6 q3,0 13,6M547,253 q8,-5 10,-5 q2,0 10,5M624,208 q23,-13 26,-13 q3,0 26,13M561,189 q14,-10 16,-10 q2,0 16,10M667,220 q18,-8 22,-8 q4,0 22,8M679,250 q10,-6 12,-6 q2,0 12,6M699,217 q19,-8 23,-8 q4,0 23,8M786,247 q7,-6 9,-6 q2,0 9,6M777,180 q9,-7 11,-7 q2,0 11,7M563,185 q19,-13 21,-13 q2,0 21,13M697,197 q6,-4 9,-4 q3,0 9,4M646,223 q9,-5 11,-5 q2,0 11,5M622,233 q13,-9 15,-9 q2,0 15,9M770,229 q9,-5 11,-5 q2,0 11,5M581,249 q23,-15 25,-15 q2,0 25,15M711,186 q13,-10 15,-10 q2,0 15,10M649,193 q8,-6 10,-6 q2,0 10,6M753,249 q8,-3 11,-3 q3,0 11,3M613,180 q12,-5 16,-5 q4,0 16,5M742,192 q21,-15 23,-15 q2,0 23,15M792,228 q6,-2 9,-2 q3,0 9,2M560,191 q14,-6 17,-6 q3,0 17,6M737,185 q23,-18 25,-18 q2,0 25,18M748,207 q23,-15 25,-15 q2,0 25,15M783,244 q9,-6 11,-6 q2,0 11,6M722,218 q13,-10 15,-10 q2,0 15,10M672,205 q6,-2 9,-2 q3,0 9,2M741,183 q8,-4 11,-4 q3,0 11,4M686,173 q17,-8 20,-8 q3,0 20,8M741,211 q8,-6 10,-6 q2,0 10,6M688,196 q10,-6 12,-6 q2,0 12,6M593,248 q13,-6 16,-6 q3,0 16,6M775,210 q17,-7 20,-7 q3,0 20,7M776,190 q24,-15 26,-15 q2,0 26,15M704,212 q6,-5 8,-5 q2,0 8,5M709,230 q13,-6 16,-6 q3,0 16,6M769,229 q15,-7 18,-7 q3,0 18,7M558,180 q23,-11 26,-11 q3,0 26,11M768,191 q8,-5 11,-5 q3,0 11,5M576,247 q18,-11 20,-11 q2,0 20,11M722,234 q22,-14 24,-14 q2,0 24,14M592,231 q22,-9 26,-9 q4,0 26,9M595,242 q10,-5 13,-5 q3,0 13,5M626,189 q18,-10 21,-10 q3,0 21,10M570,176 q11,-7 14,-7 q3,0 14,7M676,244 q10,-5 13,-5 q3,0 13,5M778,180 q15,-7 18,-7 q3,0 18,7M748,226 q15,-12 17,-12 q2,0 17,12M694,221 q10,-6 12,-6 q2,0 12,6M759,206 q21,-13 24,-13 q3,0 24,13M569,223 q21,-10 24,-10 q3,0 24,10M756,215 q22,-9 26,-9 q4,0 26,9M769,174 q22,-9 26,-9 q4,0 26,9M560,211 q22,-15 24,-15 q2,0 24,15M783,251 q20,-16 22,-16 q2,0 22,16M590,221 q19,-12 21,-12 q2,0 21,12M748,259 q20,-13 22,-13 q2,0 22,13M682,210 q10,-8 12,-8 q2,0 12,8M721,183 q20,-16 22,-16 q2,0 22,16M743,237 q21,-11 24,-11 q3,0 24,11M630,173 q9,-7 11,-7 q2,0 11,7M687,215 q13,-10 15,-10 q2,0 15,10M610,233 q20,-8 24,-8 q4,0 24,8M726,213 q7,-4 10,-4 q3,0 10,4M535,237 q19,-12 21,-12 q2,0 21,12M574,224 q10,-5 13,-5 q3,0 13,5M755,208 q6,-3 9,-3 q3,0 9,3M729,232 q8,-4 11,-4 q3,0 11,4M752,249 q18,-11 21,-11 q3,0 21,11M574,172 q9,-7 11,-7 q2,0 11,7M743,232 q16,-10 18,-10 q2,0 18,10M667,248 q22,-17 24,-17 q2,0 24,17M701,180 q17,-13 19,-13 q2,0 19,13M585,183 q14,-10 16,-10 q2,0 16,10M673,250 q12,-7 15,-7 q3,0 15,7M739,177 q5,-3 8,-3 q3,0 8,3M752,177 q21,-11 24,-11 q3,0 24,11M559,207 q9,-4 12,-4 q3,0 12,4M626,235 q8,-4 11,-4 q3,0 11,4M627,194 q7,-5 9,-5 q2,0 9,5M743,240 q18,-8 21,-8 q3,0 21,8M762,245 q10,-5 13,-5 q3,0 13,5M751,197 q11,-5 14,-5 q3,0 14,5M593,260 q16,-12 18,-12 q2,0 18,12M734,241 q20,-11 23,-11 q3,0 23,11M729,193 q12,-9 14,-9 q2,0 14,9M735,236 q8,-6 10,-6 q2,0 10,6M683,226 q15,-7 18,-7 q3,0 18,7M698,213 q8,-5 10,-5 q2,0 10,5M671,215 q17,-10 19,-10 q2,0 19,10" stroke="#fff" stroke-opacity="0.07" transform="translate(0 5.2)"/>
</g>
<g fill="none" stroke-width="1.4" filter="url(#bl)">
<path d="M535,306 q104,-44 109,-44 q5,0 109,44M652,192 q45,-23 49,-23 q4,0 49,23M602,203 q69,-40 72,-40 q3,0 72,40M626,198 q89,-41 93,-41 q4,0 93,41M590,275 q85,-49 89,-49 q4,0 89,49M625,259 q44,-20 48,-20 q4,0 48,20M579,241 q70,-25 76,-25 q6,0 76,25M608,241 q101,-60 104,-60 q3,0 104,60M633,237 q35,-13 40,-13 q5,0 40,13M587,290 q97,-52 101,-52 q4,0 101,52M577,205 q106,-54 110,-54 q4,0 110,54M576,191 q77,-27 83,-27 q6,0 83,27M649,240 q47,-24 51,-24 q4,0 51,24M624,227 q67,-37 71,-37 q4,0 71,37M603,286 q71,-29 76,-29 q5,0 76,29M634,261 q40,-23 43,-23 q3,0 43,23M640,248 q48,-17 54,-17 q6,0 54,17M615,216 q44,-24 48,-24 q4,0 48,24M635,263 q69,-25 75,-25 q6,0 75,25M587,277 q86,-30 92,-30 q6,0 92,30M581,295 q90,-34 95,-34 q5,0 95,34M640,236 q48,-18 53,-18 q5,0 53,18M605,198 q44,-13 51,-13 q7,0 51,13M644,243 q52,-22 57,-22 q5,0 57,22M575,264 q71,-36 75,-36 q4,0 75,36M614,275 q57,-18 63,-18 q6,0 63,18M551,238 q92,-38 97,-38 q5,0 97,38M631,282 q53,-25 57,-25 q4,0 57,25M609,226 q89,-42 93,-42 q4,0 93,42M575,220 q75,-36 79,-36 q4,0 79,36M609,236 q62,-28 66,-28 q4,0 66,28M568,268 q92,-53 95,-53 q3,0 95,53M648,214 q32,-8 40,-8 q8,0 40,8M554,266 q88,-45 92,-45 q4,0 92,45M626,196 q54,-17 61,-17 q7,0 61,17M557,285 q89,-50 93,-50 q4,0 93,50M646,251 q35,-11 41,-11 q6,0 41,11M617,268 q57,-23 62,-23 q5,0 62,23M608,219 q96,-39 101,-39 q5,0 101,39M623,238 q70,-40 73,-40 q3,0 73,40" stroke="#fff" stroke-opacity="0.12"/>
<path d="M535,306 q104,-44 109,-44 q5,0 109,44M652,192 q45,-23 49,-23 q4,0 49,23M602,203 q69,-40 72,-40 q3,0 72,40M626,198 q89,-41 93,-41 q4,0 93,41M590,275 q85,-49 89,-49 q4,0 89,49M625,259 q44,-20 48,-20 q4,0 48,20M579,241 q70,-25 76,-25 q6,0 76,25M608,241 q101,-60 104,-60 q3,0 104,60M633,237 q35,-13 40,-13 q5,0 40,13M587,290 q97,-52 101,-52 q4,0 101,52M577,205 q106,-54 110,-54 q4,0 110,54M576,191 q77,-27 83,-27 q6,0 83,27M649,240 q47,-24 51,-24 q4,0 51,24M624,227 q67,-37 71,-37 q4,0 71,37M603,286 q71,-29 76,-29 q5,0 76,29M634,261 q40,-23 43,-23 q3,0 43,23M640,248 q48,-17 54,-17 q6,0 54,17M615,216 q44,-24 48,-24 q4,0 48,24M635,263 q69,-25 75,-25 q6,0 75,25M587,277 q86,-30 92,-30 q6,0 92,30M581,295 q90,-34 95,-34 q5,0 95,34M640,236 q48,-18 53,-18 q5,0 53,18M605,198 q44,-13 51,-13 q7,0 51,13M644,243 q52,-22 57,-22 q5,0 57,22M575,264 q71,-36 75,-36 q4,0 75,36M614,275 q57,-18 63,-18 q6,0 63,18M551,238 q92,-38 97,-38 q5,0 97,38M631,282 q53,-25 57,-25 q4,0 57,25M609,226 q89,-42 93,-42 q4,0 93,42M575,220 q75,-36 79,-36 q4,0 79,36M609,236 q62,-28 66,-28 q4,0 66,28M568,268 q92,-53 95,-53 q3,0 95,53M648,214 q32,-8 40,-8 q8,0 40,8M554,266 q88,-45 92,-45 q4,0 92,45M626,196 q54,-17 61,-17 q7,0 61,17M557,285 q89,-50 93,-50 q4,0 93,50M646,251 q35,-11 41,-11 q6,0 41,11M617,268 q57,-23 62,-23 q5,0 62,23M608,219 q96,-39 101,-39 q5,0 101,39M623,238 q70,-40 73,-40 q3,0 73,40" stroke="#000" stroke-opacity="0.12" transform="translate(0 2.5)"/>
</g>
<linearGradient id="gt" x1="0" y1="0" x2="0" y2="1"><stop offset="0" stop-color="#8a8a8a"/><stop offset=".6" stop-color="#9a9a9a"/><stop offset="1" stop-color="#c8c8c8"/></linearGradient>
<rect x="585" y="11" width="191" height="7.8" fill="url(#gt)"/>
<rect x="585" y="18.8" width="191" height="5.7" fill="#fff"/>
<rect x="585" y="24.5" width="191" height="4.4" fill="#000"/>
<rect x="585" y="28.9" width="191" height="5.5" fill="#fff"/>
<path d="M578,34.4 H790 V38.2 Q780,37.3 776,38.2 Q772,39.1 768,38.2 Q764,37.3 760,38.2 Q756,39.1 752,38.2 Q748,37.3 744,38.2 Q740,39.1 736,38.2 Q732,37.3 728,38.2 Q724,39.1 720,38.2 Q716,37.3 712,38.2 Q708,39.1 704,38.2 Q700,37.3 696,38.2 Q692,39.1 688,38.2 Q684,37.3 680,38.2 Q676,39.1 672,38.2 Q668,37.3 664,38.2 Q660,39.1 656,38.2 Q652,37.3 648,38.2 Q644,39.1 640,38.2 Q636,37.3 632,38.2 Q628,39.1 624,38.2 Q620,37.3 616,38.2 Q612,39.1 608,38.2 Q604,37.3 600,38.2 Q596,39.1 592,38.2 Q588,37.3 584,38.2 Q580,39.1 576,38.2 Z" fill="#000"/>
<g filter="url(#bl2)" fill="none" stroke-linecap="round">
<path d="M599,90.3 Q624,91.5 648,90.3" stroke="url(#gk)" stroke-width="3.4"/>
<path d="M601,94.3 Q614,95.5 624,99.3 Q634,95 648,93.5" stroke="url(#gw)" stroke-width="3.1"/>
<path d="M620,98.5 L600,94.2" stroke="#fff" stroke-width="2.6" stroke-opacity=".5"/>
<path d="M610,100.6 L624,103.3 L639,100.6" stroke="#000" stroke-width="2.2" stroke-opacity="0.75"/>
<ellipse cx="624" cy="103.8" rx="5" ry="2.4" fill="#000"/>
<path d="M631,106 L642,105" stroke="#fff" stroke-width="2" stroke-opacity="0.45"/>
<path d="M614,160.5 L626,162.5 L636,160" stroke="#fff" stroke-opacity="0.28" stroke-width="2.5"/>
<path d="M617,166.5 L631,166" stroke="#000" stroke-opacity="0.45" stroke-width="2.8"/>
<path d="M549,232 q72,-129 75,-129 q3,0 75,129" stroke="#000" stroke-opacity="0.22" stroke-width="1.7"/>
<path d="M549,235 q72,-129 75,-129 q3,0 75,129" stroke="#fff" stroke-opacity="0.24" stroke-width="1.7"/>
<path d="M549,238 q72,-129 75,-129 q3,0 75,129" stroke="#000" stroke-opacity="0.20" stroke-width="1.7"/>
<path d="M549,241 q72,-129 75,-129 q3,0 75,129" stroke="#fff" stroke-opacity="0.16" stroke-width="1.7"/>
<path d="M549,244 q72,-129 75,-129 q3,0 75,129" stroke="#000" stroke-opacity="0.12" stroke-width="1.7"/>
<path d="M549,247 q72,-129 75,-129 q3,0 75,129" stroke="#fff" stroke-opacity="0.08" stroke-width="1.7"/>
<path d="M554,260 q63,-95 70,-95 q7,0 70,95" stroke="#fff" stroke-opacity="0.16" stroke-width="1.7"/>
<path d="M554,263 q63,-95 70,-95 q7,0 70,95" stroke="#000" stroke-opacity="0.16" stroke-width="1.7"/>
<path d="M554,266 q63,-95 70,-95 q7,0 70,95" stroke="#fff" stroke-opacity="0.10" stroke-width="1.7"/>
<path d="M710,90.3 Q735,91.5 759,90.3" stroke="url(#gk)" stroke-width="3.4"/>
<path d="M712,94.3 Q725,95.5 735,99.3 Q745,95 759,93.5" stroke="url(#gw)" stroke-width="3.1"/>
<path d="M731,98.5 L711,94.2" stroke="#fff" stroke-width="2.6" stroke-opacity=".5"/>
<path d="M721,100.6 L735,103.3 L750,100.6" stroke="#000" stroke-width="2.2" stroke-opacity="0.75"/>
<ellipse cx="735" cy="103.8" rx="5" ry="2.4" fill="#000"/>
<path d="M742,106 L753,105" stroke="#fff" stroke-width="2" stroke-opacity="0.45"/>
<path d="M725,160.5 L737,162.5 L747,160" stroke="#fff" stroke-opacity="0.28" stroke-width="2.5"/>
<path d="M728,166.5 L742,166" stroke="#000" stroke-opacity="0.45" stroke-width="2.8"/>
<path d="M660,232 q72,-129 75,-129 q3,0 75,129" stroke="#000" stroke-opacity="0.22" stroke-width="1.7"/>
<path d="M660,235 q72,-129 75,-129 q3,0 75,129" stroke="#fff" stroke-opacity="0.24" stroke-width="1.7"/>
<path d="M660,238 q72,-129 75,-129 q3,0 75,129" stroke="#000" stroke-opacity="0.20" stroke-width="1.7"/>
<path d="M660,241 q72,-129 75,-129 q3,0 75,129" stroke="#fff" stroke-opacity="0.16" stroke-width="1.7"/>
<path d="M660,244 q72,-129 75,-129 q3,0 75,129" stroke="#000" stroke-opacity="0.12" stroke-width="1.7"/>
<path d="M660,247 q72,-129 75,-129 q3,0 75,129" stroke="#fff" stroke-opacity="0.08" stroke-width="1.7"/>
<path d="M665,260 q63,-95 70,-95 q7,0 70,95" stroke="#fff" stroke-opacity="0.16" stroke-width="1.7"/>
<path d="M665,263 q63,-95 70,-95 q7,0 70,95" stroke="#000" stroke-opacity="0.16" stroke-width="1.7"/>
<path d="M665,266 q63,-95 70,-95 q7,0 70,95" stroke="#fff" stroke-opacity="0.10" stroke-width="1.7"/>
<path d="M656,93.3 L704,93.3" stroke="#fff" stroke-width="3" stroke-opacity="0.38"/>
<path d="M652,89.8 L708,89.8" stroke="#000" stroke-width="2" stroke-opacity="0.25"/>
</g>
</g>
<line x1="638" y1="286" x2="638" y2="284" stroke="#333" stroke-width="0.6"/>
<line x1="638" y1="11" x2="638" y2="13" stroke="#333" stroke-width="0.6"/>
<line x1="691" y1="286" x2="691" y2="284" stroke="#333" stroke-width="0.6"/>
<line x1="691" y1="11" x2="691" y2="13" stroke="#333" stroke-width="0.6"/>
<line x1="744" y1="286" x2="744" y2="284" stroke="#333" stroke-width="0.6"/>
<line x1="744" y1="11" x2="744" y2="13" stroke="#333" stroke-width="0.6"/>
<line x1="585" y1="66" x2="587" y2="66" stroke="#333" stroke-width="0.6"/>
<line x1="776" y1="66" x2="774" y2="66" stroke="#333" stroke-width="0.6"/>
<line x1="585" y1="121" x2="587" y2="121" stroke="#333" stroke-width="0.6"/>
<line x1="776" y1="121" x2="774" y2="121" stroke="#333" stroke-width="0.6"/>
<line x1="585" y1="176" x2="587" y2="176" stroke="#333" stroke-width="0.6"/>
<line x1="776" y1="176" x2="774" y2="176" stroke="#333" stroke-width="0.6"/>
<line x1="585" y1="231" x2="587" y2="231" stroke="#333" stroke-width="0.6"/>
<line x1="776" y1="231" x2="774" y2="231" stroke="#333" stroke-width="0.6"/>
<text x="29.1" y="17.2" text-anchor="middle" font-size="12.5">−0.05</text>
<text x="29.1" y="47.2" text-anchor="middle" font-size="12.5">0</text>
<text x="30.6" y="78.1" text-anchor="middle" font-size="12.5">0.05</text>
<text x="30.6" y="109.1" text-anchor="middle" font-size="12.5">0.1</text>
<text x="30.6" y="140.1" text-anchor="middle" font-size="12.5">0.15</text>
<text x="30.6" y="171.1" text-anchor="middle" font-size="12.5">0.2</text>
<text x="30.7" y="202.4" text-anchor="middle" font-size="12.5">0.25</text>
<text x="30.5" y="233.1" text-anchor="middle" font-size="12.5">0.3</text>
<text x="30.6" y="264.1" text-anchor="middle" font-size="12.5">0.35</text>
<text x="30.6" y="295.1" text-anchor="middle" font-size="12.5">0.4</text>
<text x="46.0" y="306.3" text-anchor="middle" font-size="12.5">0</text>
<text x="169.2" y="306.3" text-anchor="middle" font-size="12.5">0.2</text>
<text x="290.4" y="306.3" text-anchor="middle" font-size="12.5">0.4</text>
<text x="411.0" y="306.3" text-anchor="middle" font-size="12.5">0.6</text>
<text x="531.4" y="306.3" text-anchor="middle" font-size="12.5">0.8</text>
<text x="290.8" y="323.3" text-anchor="middle" font-size="14.1">Distance/m</text>
<text transform="translate(13 149.4) rotate(-90)" text-anchor="middle" font-size="13">Depth/m</text>
<text x="59.9" y="40.5" font-size="12.3" textLength="13.3" lengthAdjust="spacingAndGlyphs">TR</text>
<circle cx="60.8" cy="42" r="1.8" fill="#fff"/><circle cx="66.7" cy="42" r="1.8" fill="#fff"/>
<text x="580" y="16.5" text-anchor="end" font-size="15.6">0</text>
<text x="580" y="71.5" text-anchor="end" font-size="15.6">3</text>
<text x="580" y="126.5" text-anchor="end" font-size="15.6">6</text>
<text x="580" y="181.5" text-anchor="end" font-size="15.6">9</text>
<text x="580" y="236.5" text-anchor="end" font-size="15.6">12</text>
<text x="580" y="291.5" text-anchor="end" font-size="15.6">15</text>
<text x="586.0" y="305.2" text-anchor="middle" font-size="15.6">0</text>
<text x="639.0" y="305.2" text-anchor="middle" font-size="15.6">0.2</text>
<text x="692.0" y="305.2" text-anchor="middle" font-size="15.6">0.4</text>
<text x="745.0" y="305.2" text-anchor="middle" font-size="15.6">0.6</text>
<text x="680.5" y="325.3" text-anchor="middle" font-size="17">Distance (m)</text>
<text transform="translate(558.9 148.6) rotate(-90)" text-anchor="middle" font-size="17">Time (ns)</text>
<text x="271" y="359.5" text-anchor="middle" font-size="21">(<tspan font-weight="bold">a</tspan>)</text>
<text x="661" y="359.5" text-anchor="middle" font-size="21">(<tspan font-weight="bold">b</tspan>)</text>
</svg></body></html>
